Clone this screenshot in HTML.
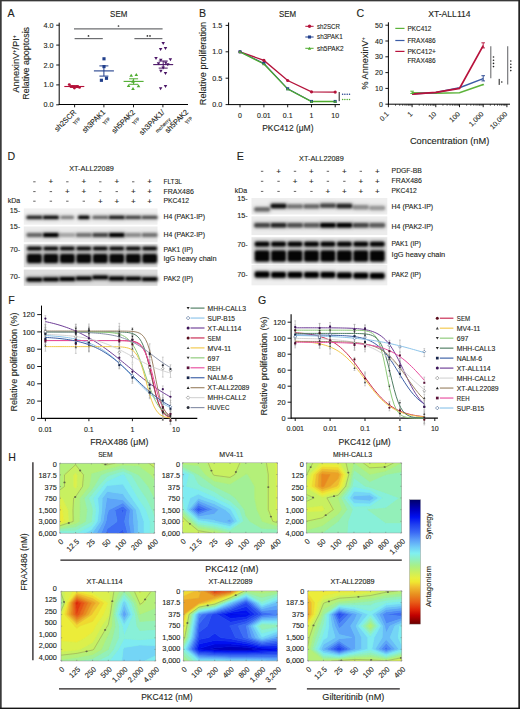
<!DOCTYPE html>
<html><head><meta charset="utf-8"><style>
html,body{margin:0;padding:0;background:#fff;}
svg{display:block;font-family:"Liberation Sans",sans-serif;}
text{stroke:#231f20;stroke-width:0.12px;}
</style></head><body>
<svg width="520" height="709" viewBox="0 0 520 709">
<defs>
<filter id="bl1" x="-20%" y="-60%" width="140%" height="220%"><feGaussianBlur stdDeviation="1.0 0.8"/></filter>
<filter id="bl2" x="-20%" y="-60%" width="140%" height="220%"><feGaussianBlur stdDeviation="1.6"/></filter>
</defs>
<rect width="520" height="709" fill="#fff"/>
<text x="7.60" y="17.30" font-size="10.6" fill="#231f20">A</text>
<text x="118.70" y="17.20" font-size="8.7" text-anchor="middle" textLength="17.2" lengthAdjust="spacingAndGlyphs" fill="#231f20">SEM</text>
<line x1="59.20" y1="22.70" x2="59.20" y2="104.90" stroke="#000" stroke-width="1.0"/>
<line x1="58.70" y1="104.50" x2="188.00" y2="104.50" stroke="#000" stroke-width="1.0"/>
<line x1="56.20" y1="25.20" x2="59.20" y2="25.20" stroke="#000" stroke-width="0.9"/>
<text x="53.40" y="27.70" font-size="7.0" text-anchor="end" textLength="10.0" lengthAdjust="spacingAndGlyphs" fill="#231f20">4.0</text>
<line x1="56.20" y1="45.10" x2="59.20" y2="45.10" stroke="#000" stroke-width="0.9"/>
<text x="53.40" y="47.60" font-size="7.0" text-anchor="end" textLength="10.0" lengthAdjust="spacingAndGlyphs" fill="#231f20">3.0</text>
<line x1="56.20" y1="65.00" x2="59.20" y2="65.00" stroke="#000" stroke-width="0.9"/>
<text x="53.40" y="67.50" font-size="7.0" text-anchor="end" textLength="10.0" lengthAdjust="spacingAndGlyphs" fill="#231f20">2.0</text>
<line x1="56.20" y1="84.90" x2="59.20" y2="84.90" stroke="#000" stroke-width="0.9"/>
<text x="53.40" y="87.40" font-size="7.0" text-anchor="end" textLength="10.0" lengthAdjust="spacingAndGlyphs" fill="#231f20">1.0</text>
<line x1="56.20" y1="104.80" x2="59.20" y2="104.80" stroke="#000" stroke-width="0.9"/>
<text x="53.40" y="107.30" font-size="7.0" text-anchor="end" textLength="10.0" lengthAdjust="spacingAndGlyphs" fill="#231f20">0.0</text>
<text x="18.70" y="64.00" font-size="9.3" text-anchor="middle" textLength="57.4" lengthAdjust="spacingAndGlyphs" transform="rotate(-90 18.70 64.00)" fill="#231f20">AnnexinV<tspan font-size="5" dy="-3">+</tspan><tspan dy="3">/PI</tspan><tspan font-size="5" dy="-3">+</tspan></text>
<text x="29.00" y="63.30" font-size="9.3" text-anchor="middle" textLength="72.7" lengthAdjust="spacingAndGlyphs" transform="rotate(-90 29.00 63.30)" fill="#231f20">Relative apoptosis</text>
<line x1="74.60" y1="104.50" x2="74.60" y2="107.30" stroke="#000" stroke-width="0.9"/>
<line x1="103.90" y1="104.50" x2="103.90" y2="107.30" stroke="#000" stroke-width="0.9"/>
<line x1="133.50" y1="104.50" x2="133.50" y2="107.30" stroke="#000" stroke-width="0.9"/>
<line x1="162.90" y1="104.50" x2="162.90" y2="107.30" stroke="#000" stroke-width="0.9"/>
<line x1="74.00" y1="28.90" x2="162.60" y2="28.90" stroke="#6d6e71" stroke-width="1.2"/>
<line x1="74.60" y1="38.60" x2="102.80" y2="38.60" stroke="#6d6e71" stroke-width="1.2"/>
<line x1="134.40" y1="38.60" x2="162.40" y2="38.60" stroke="#6d6e71" stroke-width="1.2"/>
<circle cx="118.50" cy="26.00" r="0.85" fill="#333"/>
<circle cx="88.50" cy="35.90" r="0.85" fill="#333"/>
<circle cx="147.40" cy="35.90" r="0.85" fill="#333"/>
<circle cx="150.00" cy="35.90" r="0.85" fill="#333"/>
<circle cx="69.30" cy="84.60" r="1.45" fill="#b4123a"/>
<circle cx="72.50" cy="86.60" r="1.45" fill="#b4123a"/>
<circle cx="74.40" cy="88.00" r="1.45" fill="#b4123a"/>
<circle cx="77.00" cy="86.80" r="1.45" fill="#b4123a"/>
<circle cx="79.50" cy="87.40" r="1.45" fill="#b4123a"/>
<line x1="64.30" y1="86.50" x2="84.30" y2="86.50" stroke="#b4123a" stroke-width="1.1"/>
<line x1="74.30" y1="85.60" x2="74.30" y2="87.40" stroke="#b4123a" stroke-width="1.0"/>
<line x1="69.80" y1="85.60" x2="78.80" y2="85.60" stroke="#b4123a" stroke-width="1.0"/>
<line x1="69.80" y1="87.40" x2="78.80" y2="87.40" stroke="#b4123a" stroke-width="1.0"/>
<rect x="102.42" y="57.22" width="3.15" height="3.15" fill="#213f8c"/>
<rect x="102.42" y="65.02" width="3.15" height="3.15" fill="#213f8c"/>
<rect x="99.83" y="78.72" width="3.15" height="3.15" fill="#213f8c"/>
<rect x="104.92" y="76.72" width="3.15" height="3.15" fill="#213f8c"/>
<line x1="93.90" y1="70.90" x2="113.90" y2="70.90" stroke="#213f8c" stroke-width="1.1"/>
<line x1="103.90" y1="65.90" x2="103.90" y2="76.10" stroke="#213f8c" stroke-width="1.0"/>
<line x1="99.40" y1="65.90" x2="108.40" y2="65.90" stroke="#213f8c" stroke-width="1.0"/>
<line x1="99.40" y1="76.10" x2="108.40" y2="76.10" stroke="#213f8c" stroke-width="1.0"/>
<polygon points="129.40,76.84 133.00,76.84 131.20,73.78" fill="#4fac2f"/>
<polygon points="134.50,76.04 138.10,76.04 136.30,72.98" fill="#4fac2f"/>
<polygon points="131.20,82.64 134.80,82.64 133.00,79.58" fill="#4fac2f"/>
<polygon points="126.80,87.04 130.40,87.04 128.60,83.98" fill="#4fac2f"/>
<polygon points="131.20,89.94 134.80,89.94 133.00,86.88" fill="#4fac2f"/>
<polygon points="136.70,87.24 140.30,87.24 138.50,84.18" fill="#4fac2f"/>
<line x1="123.60" y1="81.40" x2="143.60" y2="81.40" stroke="#4fac2f" stroke-width="1.1"/>
<line x1="133.60" y1="78.80" x2="133.60" y2="84.30" stroke="#4fac2f" stroke-width="1.0"/>
<line x1="129.10" y1="78.80" x2="138.10" y2="78.80" stroke="#4fac2f" stroke-width="1.0"/>
<line x1="129.10" y1="84.30" x2="138.10" y2="84.30" stroke="#4fac2f" stroke-width="1.0"/>
<polygon points="161.45,41.90 164.95,41.90 163.20,44.88" fill="#4a1466"/>
<polygon points="158.85,48.00 162.35,48.00 160.60,50.98" fill="#4a1466"/>
<polygon points="163.75,47.10 167.25,47.10 165.50,50.08" fill="#4a1466"/>
<polygon points="154.25,57.10 157.75,57.10 156.00,60.08" fill="#4a1466"/>
<polygon points="159.05,58.80 162.55,58.80 160.80,61.78" fill="#4a1466"/>
<polygon points="168.65,58.30 172.15,58.30 170.40,61.28" fill="#4a1466"/>
<polygon points="156.75,62.20 160.25,62.20 158.50,65.17" fill="#4a1466"/>
<polygon points="163.95,61.50 167.45,61.50 165.70,64.47" fill="#4a1466"/>
<polygon points="166.05,63.20 169.55,63.20 167.80,66.17" fill="#4a1466"/>
<polygon points="161.45,66.40 164.95,66.40 163.20,69.38" fill="#4a1466"/>
<polygon points="159.15,69.80 162.65,69.80 160.90,72.78" fill="#4a1466"/>
<polygon points="163.75,72.10 167.25,72.10 165.50,75.08" fill="#4a1466"/>
<polygon points="158.85,87.30 162.35,87.30 160.60,90.28" fill="#4a1466"/>
<polygon points="163.75,85.00 167.25,85.00 165.50,87.98" fill="#4a1466"/>
<line x1="153.20" y1="64.60" x2="173.20" y2="64.60" stroke="#4a1466" stroke-width="1.1"/>
<line x1="163.20" y1="61.00" x2="163.20" y2="68.10" stroke="#4a1466" stroke-width="1.0"/>
<line x1="158.70" y1="61.00" x2="167.70" y2="61.00" stroke="#4a1466" stroke-width="1.0"/>
<line x1="158.70" y1="68.10" x2="167.70" y2="68.10" stroke="#4a1466" stroke-width="1.0"/>
<text x="76.60" y="112.80" font-size="7.6" text-anchor="end" textLength="27.0" lengthAdjust="spacingAndGlyphs" transform="rotate(-45 76.60 112.80)" fill="#231f20">sh2SCR</text>
<text x="105.80" y="112.80" font-size="7.6" text-anchor="end" textLength="29.0" lengthAdjust="spacingAndGlyphs" transform="rotate(-45 105.80 112.80)" fill="#231f20">sh3PAK1</text>
<text x="135.60" y="112.80" font-size="7.6" text-anchor="end" textLength="29.5" lengthAdjust="spacingAndGlyphs" transform="rotate(-45 135.60 112.80)" fill="#231f20">sh5PAK2</text>
<text x="165.00" y="112.80" font-size="7.6" text-anchor="end" textLength="32.0" lengthAdjust="spacingAndGlyphs" transform="rotate(-45 165.00 112.80)" fill="#231f20">sh3PAK1/</text>
<text x="188.80" y="112.60" font-size="7.6" text-anchor="end" textLength="29.5" lengthAdjust="spacingAndGlyphs" transform="rotate(-45 188.80 112.60)" fill="#231f20">sh5PAK2</text>
<text x="81.00" y="119.50" font-size="5.2" text-anchor="end" textLength="8.2" lengthAdjust="spacingAndGlyphs" transform="rotate(-45 81.00 119.50)" fill="#231f20">YFP</text>
<text x="110.80" y="119.50" font-size="5.2" text-anchor="end" textLength="8.2" lengthAdjust="spacingAndGlyphs" transform="rotate(-45 110.80 119.50)" fill="#231f20">YFP</text>
<text x="140.20" y="119.50" font-size="5.2" text-anchor="end" textLength="8.2" lengthAdjust="spacingAndGlyphs" transform="rotate(-45 140.20 119.50)" fill="#231f20">YFP</text>
<text x="171.00" y="119.80" font-size="5.2" text-anchor="end" textLength="19.0" lengthAdjust="spacingAndGlyphs" transform="rotate(-45 171.00 119.80)" fill="#231f20">mcherry</text>
<text x="193.00" y="118.80" font-size="5.2" text-anchor="end" textLength="8.2" lengthAdjust="spacingAndGlyphs" transform="rotate(-45 193.00 118.80)" fill="#231f20">YFP</text>
<text x="199.00" y="17.20" font-size="10.6" fill="#231f20">B</text>
<text x="287.60" y="17.20" font-size="8.7" text-anchor="middle" textLength="17.2" lengthAdjust="spacingAndGlyphs" fill="#231f20">SEM</text>
<line x1="228.60" y1="22.50" x2="228.60" y2="105.00" stroke="#000" stroke-width="1.0"/>
<line x1="228.10" y1="104.60" x2="340.00" y2="104.60" stroke="#000" stroke-width="1.0"/>
<line x1="225.60" y1="25.40" x2="228.60" y2="25.40" stroke="#000" stroke-width="0.9"/>
<text x="222.20" y="27.90" font-size="7.0" text-anchor="end" textLength="10.0" lengthAdjust="spacingAndGlyphs" fill="#231f20">1.5</text>
<line x1="225.60" y1="51.80" x2="228.60" y2="51.80" stroke="#000" stroke-width="0.9"/>
<text x="222.20" y="54.30" font-size="7.0" text-anchor="end" textLength="10.0" lengthAdjust="spacingAndGlyphs" fill="#231f20">1.0</text>
<line x1="225.60" y1="78.20" x2="228.60" y2="78.20" stroke="#000" stroke-width="0.9"/>
<text x="222.20" y="80.70" font-size="7.0" text-anchor="end" textLength="10.0" lengthAdjust="spacingAndGlyphs" fill="#231f20">0.5</text>
<line x1="225.60" y1="104.60" x2="228.60" y2="104.60" stroke="#000" stroke-width="0.9"/>
<text x="222.20" y="107.10" font-size="7.0" text-anchor="end" textLength="10.0" lengthAdjust="spacingAndGlyphs" fill="#231f20">0.0</text>
<text x="206.30" y="63.50" font-size="9.3" text-anchor="middle" textLength="83.4" lengthAdjust="spacingAndGlyphs" transform="rotate(-90 206.30 63.50)" fill="#231f20">Relative proliferation</text>
<line x1="240.00" y1="104.60" x2="240.00" y2="107.30" stroke="#000" stroke-width="0.9"/>
<text x="240.00" y="117.60" font-size="7.0" text-anchor="middle" fill="#231f20">0</text>
<line x1="263.90" y1="104.60" x2="263.90" y2="107.30" stroke="#000" stroke-width="0.9"/>
<text x="263.90" y="117.60" font-size="7.0" text-anchor="middle" fill="#231f20">0.01</text>
<line x1="287.70" y1="104.60" x2="287.70" y2="107.30" stroke="#000" stroke-width="0.9"/>
<text x="287.70" y="117.60" font-size="7.0" text-anchor="middle" fill="#231f20">0.1</text>
<line x1="311.50" y1="104.60" x2="311.50" y2="107.30" stroke="#000" stroke-width="0.9"/>
<text x="311.50" y="117.60" font-size="7.0" text-anchor="middle" fill="#231f20">1</text>
<line x1="335.20" y1="104.60" x2="335.20" y2="107.30" stroke="#000" stroke-width="0.9"/>
<text x="335.20" y="117.60" font-size="7.0" text-anchor="middle" fill="#231f20">10</text>
<text x="287.80" y="130.60" font-size="8.8" text-anchor="middle" textLength="51.3" lengthAdjust="spacingAndGlyphs" fill="#231f20">PKC412 (μM)</text>
<polyline points="240.00,51.80 263.90,60.41 287.70,80.52 311.50,91.82 335.20,92.09" fill="none" stroke="#b4123a" stroke-width="1.3"/>
<polyline points="240.00,51.80 263.90,63.42 287.70,88.76 311.50,101.43 335.20,101.43" fill="none" stroke="#213f8c" stroke-width="1.1"/>
<polyline points="240.00,51.80 263.90,63.94 287.70,89.08 311.50,101.48 335.20,101.48" fill="none" stroke="#4fac2f" stroke-width="1.3"/>
<circle cx="240.00" cy="51.80" r="1.6" fill="#b4123a"/>
<circle cx="263.90" cy="60.41" r="1.6" fill="#b4123a"/>
<circle cx="287.70" cy="80.52" r="1.6" fill="#b4123a"/>
<circle cx="311.50" cy="91.82" r="1.6" fill="#b4123a"/>
<circle cx="335.20" cy="92.09" r="1.6" fill="#b4123a"/>
<rect x="238.50" y="50.30" width="3.00" height="3.00" fill="#213f8c"/>
<rect x="262.40" y="61.92" width="3.00" height="3.00" fill="#213f8c"/>
<rect x="286.20" y="87.26" width="3.00" height="3.00" fill="#213f8c"/>
<rect x="310.00" y="99.93" width="3.00" height="3.00" fill="#213f8c"/>
<rect x="333.70" y="99.93" width="3.00" height="3.00" fill="#213f8c"/>
<polygon points="238.40,53.08 241.60,53.08 240.00,50.36" fill="#4fac2f"/>
<polygon points="262.30,65.22 265.50,65.22 263.90,62.50" fill="#4fac2f"/>
<polygon points="286.10,90.36 289.30,90.36 287.70,87.64" fill="#4fac2f"/>
<polygon points="309.90,102.76 313.10,102.76 311.50,100.04" fill="#4fac2f"/>
<polygon points="333.60,102.76 336.80,102.76 335.20,100.04" fill="#4fac2f"/>
<line x1="263.90" y1="59.19" x2="263.90" y2="61.83" stroke="#b4123a" stroke-width="0.8"/>
<line x1="339.20" y1="92.00" x2="339.20" y2="101.20" stroke="#000" stroke-width="0.9"/>
<circle cx="342.60" cy="94.30" r="0.75" fill="#213f8c"/>
<circle cx="342.60" cy="99.60" r="0.75" fill="#4fac2f"/>
<circle cx="344.90" cy="94.30" r="0.75" fill="#213f8c"/>
<circle cx="344.90" cy="99.60" r="0.75" fill="#4fac2f"/>
<circle cx="347.20" cy="94.30" r="0.75" fill="#213f8c"/>
<circle cx="347.20" cy="99.60" r="0.75" fill="#4fac2f"/>
<circle cx="349.50" cy="94.30" r="0.75" fill="#213f8c"/>
<circle cx="349.50" cy="99.60" r="0.75" fill="#4fac2f"/>
<line x1="305.30" y1="26.30" x2="313.60" y2="26.30" stroke="#b4123a" stroke-width="1.0"/>
<circle cx="309.50" cy="26.30" r="1.7" fill="#b4123a"/>
<text x="317.00" y="28.70" font-size="7.4" textLength="22.9" lengthAdjust="spacingAndGlyphs" fill="#231f20">sh2SCR</text>
<line x1="305.30" y1="37.00" x2="313.60" y2="37.00" stroke="#213f8c" stroke-width="1.0"/>
<rect x="307.97" y="35.47" width="3.06" height="3.06" fill="#213f8c"/>
<text x="317.00" y="39.40" font-size="7.4" textLength="25.7" lengthAdjust="spacingAndGlyphs" fill="#231f20">sh3PAK1</text>
<line x1="305.30" y1="48.30" x2="313.60" y2="48.30" stroke="#4fac2f" stroke-width="1.0"/>
<polygon points="307.80,49.66 311.20,49.66 309.50,46.77" fill="#4fac2f"/>
<text x="317.00" y="50.70" font-size="7.4" textLength="26.6" lengthAdjust="spacingAndGlyphs" fill="#231f20">sh5PAK2</text>
<text x="356.40" y="17.20" font-size="10.6" fill="#231f20">C</text>
<text x="449.40" y="17.20" font-size="8.7" text-anchor="middle" textLength="42.5" lengthAdjust="spacingAndGlyphs" fill="#231f20">XT-ALL114</text>
<line x1="388.40" y1="22.30" x2="388.40" y2="104.60" stroke="#000" stroke-width="1.0"/>
<line x1="387.90" y1="104.20" x2="510.00" y2="104.20" stroke="#000" stroke-width="1.0"/>
<line x1="385.40" y1="25.20" x2="388.40" y2="25.20" stroke="#000" stroke-width="0.9"/>
<text x="382.90" y="27.70" font-size="7.0" text-anchor="end" textLength="7.8" lengthAdjust="spacingAndGlyphs" fill="#231f20">50</text>
<line x1="385.40" y1="41.00" x2="388.40" y2="41.00" stroke="#000" stroke-width="0.9"/>
<text x="382.90" y="43.50" font-size="7.0" text-anchor="end" textLength="7.8" lengthAdjust="spacingAndGlyphs" fill="#231f20">40</text>
<line x1="385.40" y1="56.80" x2="388.40" y2="56.80" stroke="#000" stroke-width="0.9"/>
<text x="382.90" y="59.30" font-size="7.0" text-anchor="end" textLength="7.8" lengthAdjust="spacingAndGlyphs" fill="#231f20">30</text>
<line x1="385.40" y1="72.60" x2="388.40" y2="72.60" stroke="#000" stroke-width="0.9"/>
<text x="382.90" y="75.10" font-size="7.0" text-anchor="end" textLength="7.8" lengthAdjust="spacingAndGlyphs" fill="#231f20">20</text>
<line x1="385.40" y1="88.40" x2="388.40" y2="88.40" stroke="#000" stroke-width="0.9"/>
<text x="382.90" y="90.90" font-size="7.0" text-anchor="end" textLength="7.8" lengthAdjust="spacingAndGlyphs" fill="#231f20">10</text>
<line x1="385.40" y1="104.20" x2="388.40" y2="104.20" stroke="#000" stroke-width="0.9"/>
<text x="382.90" y="106.70" font-size="7.0" text-anchor="end" textLength="3.9" lengthAdjust="spacingAndGlyphs" fill="#231f20">0</text>
<text x="367.60" y="63.50" font-size="9.3" text-anchor="middle" textLength="52.0" lengthAdjust="spacingAndGlyphs" transform="rotate(-90 367.60 63.50)" fill="#231f20">% AnnexinV<tspan font-size="5" dy="-3">+</tspan></text>
<line x1="388.40" y1="104.20" x2="388.40" y2="107.20" stroke="#000" stroke-width="0.9"/>
<text x="389.30" y="114.60" font-size="7.0" text-anchor="end" transform="rotate(-45 389.30 114.60)" fill="#231f20">0.1</text>
<line x1="395.53" y1="104.20" x2="395.53" y2="105.80" stroke="#000" stroke-width="0.6"/>
<line x1="399.71" y1="104.20" x2="399.71" y2="105.80" stroke="#000" stroke-width="0.6"/>
<line x1="402.67" y1="104.20" x2="402.67" y2="105.80" stroke="#000" stroke-width="0.6"/>
<line x1="404.97" y1="104.20" x2="404.97" y2="105.80" stroke="#000" stroke-width="0.6"/>
<line x1="406.84" y1="104.20" x2="406.84" y2="105.80" stroke="#000" stroke-width="0.6"/>
<line x1="408.43" y1="104.20" x2="408.43" y2="105.80" stroke="#000" stroke-width="0.6"/>
<line x1="409.80" y1="104.20" x2="409.80" y2="105.80" stroke="#000" stroke-width="0.6"/>
<line x1="411.02" y1="104.20" x2="411.02" y2="105.80" stroke="#000" stroke-width="0.6"/>
<line x1="412.10" y1="104.20" x2="412.10" y2="107.20" stroke="#000" stroke-width="0.9"/>
<text x="413.00" y="114.60" font-size="7.0" text-anchor="end" transform="rotate(-45 413.00 114.60)" fill="#231f20">1</text>
<line x1="419.23" y1="104.20" x2="419.23" y2="105.80" stroke="#000" stroke-width="0.6"/>
<line x1="423.41" y1="104.20" x2="423.41" y2="105.80" stroke="#000" stroke-width="0.6"/>
<line x1="426.37" y1="104.20" x2="426.37" y2="105.80" stroke="#000" stroke-width="0.6"/>
<line x1="428.67" y1="104.20" x2="428.67" y2="105.80" stroke="#000" stroke-width="0.6"/>
<line x1="430.54" y1="104.20" x2="430.54" y2="105.80" stroke="#000" stroke-width="0.6"/>
<line x1="432.13" y1="104.20" x2="432.13" y2="105.80" stroke="#000" stroke-width="0.6"/>
<line x1="433.50" y1="104.20" x2="433.50" y2="105.80" stroke="#000" stroke-width="0.6"/>
<line x1="434.72" y1="104.20" x2="434.72" y2="105.80" stroke="#000" stroke-width="0.6"/>
<line x1="435.80" y1="104.20" x2="435.80" y2="107.20" stroke="#000" stroke-width="0.9"/>
<text x="436.70" y="114.60" font-size="7.0" text-anchor="end" transform="rotate(-45 436.70 114.60)" fill="#231f20">10</text>
<line x1="442.93" y1="104.20" x2="442.93" y2="105.80" stroke="#000" stroke-width="0.6"/>
<line x1="447.11" y1="104.20" x2="447.11" y2="105.80" stroke="#000" stroke-width="0.6"/>
<line x1="450.07" y1="104.20" x2="450.07" y2="105.80" stroke="#000" stroke-width="0.6"/>
<line x1="452.37" y1="104.20" x2="452.37" y2="105.80" stroke="#000" stroke-width="0.6"/>
<line x1="454.24" y1="104.20" x2="454.24" y2="105.80" stroke="#000" stroke-width="0.6"/>
<line x1="455.83" y1="104.20" x2="455.83" y2="105.80" stroke="#000" stroke-width="0.6"/>
<line x1="457.20" y1="104.20" x2="457.20" y2="105.80" stroke="#000" stroke-width="0.6"/>
<line x1="458.42" y1="104.20" x2="458.42" y2="105.80" stroke="#000" stroke-width="0.6"/>
<line x1="459.50" y1="104.20" x2="459.50" y2="107.20" stroke="#000" stroke-width="0.9"/>
<text x="460.40" y="114.60" font-size="7.0" text-anchor="end" transform="rotate(-45 460.40 114.60)" fill="#231f20">100</text>
<line x1="466.63" y1="104.20" x2="466.63" y2="105.80" stroke="#000" stroke-width="0.6"/>
<line x1="470.81" y1="104.20" x2="470.81" y2="105.80" stroke="#000" stroke-width="0.6"/>
<line x1="473.77" y1="104.20" x2="473.77" y2="105.80" stroke="#000" stroke-width="0.6"/>
<line x1="476.07" y1="104.20" x2="476.07" y2="105.80" stroke="#000" stroke-width="0.6"/>
<line x1="477.94" y1="104.20" x2="477.94" y2="105.80" stroke="#000" stroke-width="0.6"/>
<line x1="479.53" y1="104.20" x2="479.53" y2="105.80" stroke="#000" stroke-width="0.6"/>
<line x1="480.90" y1="104.20" x2="480.90" y2="105.80" stroke="#000" stroke-width="0.6"/>
<line x1="482.12" y1="104.20" x2="482.12" y2="105.80" stroke="#000" stroke-width="0.6"/>
<line x1="483.20" y1="104.20" x2="483.20" y2="107.20" stroke="#000" stroke-width="0.9"/>
<text x="484.10" y="114.60" font-size="7.0" text-anchor="end" transform="rotate(-45 484.10 114.60)" fill="#231f20">1,000</text>
<line x1="490.33" y1="104.20" x2="490.33" y2="105.80" stroke="#000" stroke-width="0.6"/>
<line x1="494.51" y1="104.20" x2="494.51" y2="105.80" stroke="#000" stroke-width="0.6"/>
<line x1="497.47" y1="104.20" x2="497.47" y2="105.80" stroke="#000" stroke-width="0.6"/>
<line x1="499.77" y1="104.20" x2="499.77" y2="105.80" stroke="#000" stroke-width="0.6"/>
<line x1="501.64" y1="104.20" x2="501.64" y2="105.80" stroke="#000" stroke-width="0.6"/>
<line x1="503.23" y1="104.20" x2="503.23" y2="105.80" stroke="#000" stroke-width="0.6"/>
<line x1="504.60" y1="104.20" x2="504.60" y2="105.80" stroke="#000" stroke-width="0.6"/>
<line x1="505.82" y1="104.20" x2="505.82" y2="105.80" stroke="#000" stroke-width="0.6"/>
<line x1="506.90" y1="104.20" x2="506.90" y2="107.20" stroke="#000" stroke-width="0.9"/>
<text x="507.80" y="114.60" font-size="7.0" text-anchor="end" transform="rotate(-45 507.80 114.60)" fill="#231f20">10,000</text>
<text x="449.60" y="144.20" font-size="8.9" text-anchor="middle" textLength="79.4" lengthAdjust="spacingAndGlyphs" fill="#231f20">Concentration (nM)</text>
<polyline points="412.10,92.67 435.80,93.14 459.50,92.67 483.20,84.45" fill="none" stroke="#5cb33a" stroke-width="1.5"/>
<polyline points="412.10,93.93 435.80,92.51 459.50,87.77 483.20,78.60" fill="none" stroke="#3b5ca6" stroke-width="1.5"/>
<polyline points="412.10,94.09 435.80,92.35 459.50,88.40 483.20,45.58" fill="none" stroke="#b8123c" stroke-width="1.7"/>
<line x1="483.20" y1="42.80" x2="483.20" y2="47.90" stroke="#b4123a" stroke-width="0.9"/>
<line x1="481.40" y1="42.80" x2="485.00" y2="42.80" stroke="#b4123a" stroke-width="0.9"/>
<line x1="481.40" y1="47.90" x2="485.00" y2="47.90" stroke="#b4123a" stroke-width="0.9"/>
<line x1="483.20" y1="75.70" x2="483.20" y2="80.90" stroke="#213f8c" stroke-width="0.9"/>
<line x1="481.40" y1="75.70" x2="485.00" y2="75.70" stroke="#213f8c" stroke-width="0.9"/>
<line x1="481.40" y1="80.90" x2="485.00" y2="80.90" stroke="#213f8c" stroke-width="0.9"/>
<line x1="412.10" y1="91.20" x2="412.10" y2="93.50" stroke="#4fac2f" stroke-width="0.9"/>
<line x1="410.30" y1="91.20" x2="413.90" y2="91.20" stroke="#4fac2f" stroke-width="0.9"/>
<line x1="410.30" y1="93.50" x2="413.90" y2="93.50" stroke="#4fac2f" stroke-width="0.9"/>
<polygon points="482.10,85.33 484.30,85.33 483.20,83.46" fill="#4fac2f"/>
<line x1="490.80" y1="46.20" x2="490.80" y2="78.20" stroke="#6d6e71" stroke-width="1.1"/>
<line x1="499.20" y1="78.90" x2="499.20" y2="84.90" stroke="#000" stroke-width="0.9"/>
<line x1="507.70" y1="46.20" x2="507.70" y2="84.60" stroke="#6d6e71" stroke-width="1.1"/>
<circle cx="493.50" cy="57.00" r="0.8" fill="#222"/>
<circle cx="510.80" cy="61.00" r="0.8" fill="#222"/>
<circle cx="493.50" cy="60.20" r="0.8" fill="#222"/>
<circle cx="510.80" cy="64.20" r="0.8" fill="#222"/>
<circle cx="493.50" cy="63.40" r="0.8" fill="#222"/>
<circle cx="510.80" cy="67.40" r="0.8" fill="#222"/>
<circle cx="493.50" cy="66.60" r="0.8" fill="#222"/>
<circle cx="510.80" cy="70.60" r="0.8" fill="#222"/>
<circle cx="501.80" cy="82.00" r="0.8" fill="#222"/>
<line x1="395.30" y1="28.40" x2="404.50" y2="28.40" stroke="#5cb33a" stroke-width="1.2"/>
<text x="407.40" y="30.90" font-size="7.5" textLength="24.0" lengthAdjust="spacingAndGlyphs" fill="#231f20">PKC412</text>
<line x1="395.30" y1="40.50" x2="404.50" y2="40.50" stroke="#3b5ca6" stroke-width="1.2"/>
<text x="407.40" y="43.00" font-size="7.5" textLength="28.2" lengthAdjust="spacingAndGlyphs" fill="#231f20">FRAX486</text>
<line x1="395.30" y1="51.40" x2="404.50" y2="51.40" stroke="#b8123c" stroke-width="1.2"/>
<text x="407.40" y="53.90" font-size="7.5" textLength="28.6" lengthAdjust="spacingAndGlyphs" fill="#231f20">PKC412+</text>
<text x="407.40" y="62.90" font-size="7.5" textLength="28.2" lengthAdjust="spacingAndGlyphs" fill="#231f20">FRAX486</text>
<text x="7.60" y="160.00" font-size="10.6" fill="#231f20">D</text>
<text x="91.50" y="171.30" font-size="7.4" text-anchor="middle" textLength="44.6" lengthAdjust="spacingAndGlyphs" fill="#231f20">XT-ALL22089</text>
<line x1="33.20" y1="181.80" x2="35.60" y2="181.80" stroke="#231f20" stroke-width="0.7"/>
<text x="50.87" y="184.20" font-size="8.0" text-anchor="middle" fill="#231f20">+</text>
<line x1="66.14" y1="181.80" x2="68.54" y2="181.80" stroke="#231f20" stroke-width="0.7"/>
<text x="83.81" y="184.20" font-size="8.0" text-anchor="middle" fill="#231f20">+</text>
<line x1="99.08" y1="181.80" x2="101.48" y2="181.80" stroke="#231f20" stroke-width="0.7"/>
<text x="116.75" y="184.20" font-size="8.0" text-anchor="middle" fill="#231f20">+</text>
<line x1="132.02" y1="181.80" x2="134.42" y2="181.80" stroke="#231f20" stroke-width="0.7"/>
<text x="149.69" y="184.20" font-size="8.0" text-anchor="middle" fill="#231f20">+</text>
<line x1="33.20" y1="191.60" x2="35.60" y2="191.60" stroke="#231f20" stroke-width="0.7"/>
<line x1="49.67" y1="191.60" x2="52.07" y2="191.60" stroke="#231f20" stroke-width="0.7"/>
<text x="67.34" y="194.00" font-size="8.0" text-anchor="middle" fill="#231f20">+</text>
<text x="83.81" y="194.00" font-size="8.0" text-anchor="middle" fill="#231f20">+</text>
<line x1="99.08" y1="191.60" x2="101.48" y2="191.60" stroke="#231f20" stroke-width="0.7"/>
<line x1="115.55" y1="191.60" x2="117.95" y2="191.60" stroke="#231f20" stroke-width="0.7"/>
<text x="133.22" y="194.00" font-size="8.0" text-anchor="middle" fill="#231f20">+</text>
<text x="149.69" y="194.00" font-size="8.0" text-anchor="middle" fill="#231f20">+</text>
<line x1="33.20" y1="201.20" x2="35.60" y2="201.20" stroke="#231f20" stroke-width="0.7"/>
<line x1="49.67" y1="201.20" x2="52.07" y2="201.20" stroke="#231f20" stroke-width="0.7"/>
<line x1="66.14" y1="201.20" x2="68.54" y2="201.20" stroke="#231f20" stroke-width="0.7"/>
<line x1="82.61" y1="201.20" x2="85.01" y2="201.20" stroke="#231f20" stroke-width="0.7"/>
<text x="100.28" y="203.60" font-size="8.0" text-anchor="middle" fill="#231f20">+</text>
<text x="116.75" y="203.60" font-size="8.0" text-anchor="middle" fill="#231f20">+</text>
<text x="133.22" y="203.60" font-size="8.0" text-anchor="middle" fill="#231f20">+</text>
<text x="149.69" y="203.60" font-size="8.0" text-anchor="middle" fill="#231f20">+</text>
<text x="7.70" y="203.40" font-size="7.2" textLength="12.4" lengthAdjust="spacingAndGlyphs" fill="#231f20">kDa</text>
<text x="20.20" y="213.10" font-size="7.0" text-anchor="end" textLength="10.5" lengthAdjust="spacingAndGlyphs" fill="#231f20">15-</text>
<text x="20.20" y="229.30" font-size="7.0" text-anchor="end" textLength="10.5" lengthAdjust="spacingAndGlyphs" fill="#231f20">15-</text>
<text x="20.20" y="251.50" font-size="7.0" text-anchor="end" textLength="10.5" lengthAdjust="spacingAndGlyphs" fill="#231f20">70-</text>
<text x="20.20" y="278.90" font-size="7.0" text-anchor="end" textLength="10.5" lengthAdjust="spacingAndGlyphs" fill="#231f20">70-</text>
<rect x="23.80" y="208.40" width="133.70" height="16.30" fill="#f0f0f0"/>
<rect x="23.80" y="226.50" width="133.70" height="15.70" fill="#ececec"/>
<rect x="23.80" y="244.20" width="133.70" height="23.00" fill="#e2e2e2"/>
<rect x="23.80" y="269.60" width="133.70" height="16.20" fill="#dddddd"/>
<rect x="25.20" y="213.95" width="18.40" height="6.90" rx="3" fill="#050505" fill-opacity="0.20" filter="url(#bl2)"/>
<rect x="26.50" y="215.75" width="15.80" height="3.30" rx="1.65" fill="#050505" fill-opacity="0.80" filter="url(#bl1)"/>
<rect x="41.67" y="213.95" width="18.40" height="6.90" rx="3" fill="#050505" fill-opacity="0.23" filter="url(#bl2)"/>
<rect x="42.97" y="215.75" width="15.80" height="3.30" rx="1.65" fill="#050505" fill-opacity="0.92" filter="url(#bl1)"/>
<rect x="59.34" y="213.95" width="16.00" height="6.90" rx="3" fill="#050505" fill-opacity="0.10" filter="url(#bl2)"/>
<rect x="60.64" y="215.75" width="13.40" height="3.30" rx="1.65" fill="#050505" fill-opacity="0.40" filter="url(#bl1)"/>
<rect x="76.81" y="213.95" width="14.00" height="6.90" rx="3" fill="#050505" fill-opacity="0.24" filter="url(#bl2)"/>
<rect x="78.11" y="215.75" width="11.40" height="3.30" rx="1.65" fill="#050505" fill-opacity="0.98" filter="url(#bl1)"/>
<rect x="91.08" y="213.95" width="18.40" height="6.90" rx="3" fill="#050505" fill-opacity="0.12" filter="url(#bl2)"/>
<rect x="92.38" y="215.75" width="15.80" height="3.30" rx="1.65" fill="#050505" fill-opacity="0.50" filter="url(#bl1)"/>
<rect x="107.55" y="213.95" width="18.40" height="6.90" rx="3" fill="#050505" fill-opacity="0.21" filter="url(#bl2)"/>
<rect x="108.85" y="215.75" width="15.80" height="3.30" rx="1.65" fill="#050505" fill-opacity="0.85" filter="url(#bl1)"/>
<rect x="124.02" y="213.95" width="18.40" height="6.90" rx="3" fill="#050505" fill-opacity="0.16" filter="url(#bl2)"/>
<rect x="125.32" y="215.75" width="15.80" height="3.30" rx="1.65" fill="#050505" fill-opacity="0.65" filter="url(#bl1)"/>
<rect x="140.49" y="213.95" width="18.40" height="6.90" rx="3" fill="#050505" fill-opacity="0.15" filter="url(#bl2)"/>
<rect x="141.79" y="215.75" width="15.80" height="3.30" rx="1.65" fill="#050505" fill-opacity="0.60" filter="url(#bl1)"/>
<rect x="25.20" y="231.30" width="18.40" height="7.40" rx="3" fill="#050505" fill-opacity="0.12" filter="url(#bl2)"/>
<rect x="26.50" y="233.10" width="15.80" height="3.80" rx="1.90" fill="#050505" fill-opacity="0.50" filter="url(#bl1)"/>
<rect x="41.67" y="231.30" width="18.40" height="7.40" rx="3" fill="#050505" fill-opacity="0.25" filter="url(#bl2)"/>
<rect x="42.97" y="233.10" width="15.80" height="3.80" rx="1.90" fill="#050505" fill-opacity="1.00" filter="url(#bl1)"/>
<rect x="58.14" y="231.30" width="18.40" height="7.40" rx="3" fill="#050505" fill-opacity="0.06" filter="url(#bl2)"/>
<rect x="59.44" y="233.10" width="15.80" height="3.80" rx="1.90" fill="#050505" fill-opacity="0.25" filter="url(#bl1)"/>
<rect x="74.61" y="231.30" width="18.40" height="7.40" rx="3" fill="#050505" fill-opacity="0.11" filter="url(#bl2)"/>
<rect x="75.91" y="233.10" width="15.80" height="3.80" rx="1.90" fill="#050505" fill-opacity="0.45" filter="url(#bl1)"/>
<rect x="91.08" y="231.30" width="18.40" height="7.40" rx="3" fill="#050505" fill-opacity="0.16" filter="url(#bl2)"/>
<rect x="92.38" y="233.10" width="15.80" height="3.80" rx="1.90" fill="#050505" fill-opacity="0.65" filter="url(#bl1)"/>
<rect x="107.55" y="231.30" width="18.40" height="7.40" rx="3" fill="#050505" fill-opacity="0.25" filter="url(#bl2)"/>
<rect x="108.85" y="233.10" width="15.80" height="3.80" rx="1.90" fill="#050505" fill-opacity="1.00" filter="url(#bl1)"/>
<rect x="124.02" y="231.30" width="18.40" height="7.40" rx="3" fill="#050505" fill-opacity="0.09" filter="url(#bl2)"/>
<rect x="125.32" y="233.10" width="15.80" height="3.80" rx="1.90" fill="#050505" fill-opacity="0.35" filter="url(#bl1)"/>
<rect x="140.49" y="231.30" width="18.40" height="7.40" rx="3" fill="#050505" fill-opacity="0.11" filter="url(#bl2)"/>
<rect x="141.79" y="233.10" width="15.80" height="3.80" rx="1.90" fill="#050505" fill-opacity="0.45" filter="url(#bl1)"/>
<rect x="25.80" y="244.90" width="17.20" height="7.20" rx="3" fill="#050505" fill-opacity="0.24" filter="url(#bl2)"/>
<rect x="27.10" y="246.70" width="14.60" height="3.60" rx="1.80" fill="#050505" fill-opacity="0.95" filter="url(#bl1)"/>
<rect x="42.27" y="244.90" width="17.20" height="7.20" rx="3" fill="#050505" fill-opacity="0.24" filter="url(#bl2)"/>
<rect x="43.57" y="246.70" width="14.60" height="3.60" rx="1.80" fill="#050505" fill-opacity="0.95" filter="url(#bl1)"/>
<rect x="58.74" y="244.90" width="17.20" height="7.20" rx="3" fill="#050505" fill-opacity="0.24" filter="url(#bl2)"/>
<rect x="60.04" y="246.70" width="14.60" height="3.60" rx="1.80" fill="#050505" fill-opacity="0.95" filter="url(#bl1)"/>
<rect x="75.21" y="244.90" width="17.20" height="7.20" rx="3" fill="#050505" fill-opacity="0.24" filter="url(#bl2)"/>
<rect x="76.51" y="246.70" width="14.60" height="3.60" rx="1.80" fill="#050505" fill-opacity="0.95" filter="url(#bl1)"/>
<rect x="91.68" y="244.90" width="17.20" height="7.20" rx="3" fill="#050505" fill-opacity="0.24" filter="url(#bl2)"/>
<rect x="92.98" y="246.70" width="14.60" height="3.60" rx="1.80" fill="#050505" fill-opacity="0.95" filter="url(#bl1)"/>
<rect x="108.15" y="244.90" width="17.20" height="7.20" rx="3" fill="#050505" fill-opacity="0.24" filter="url(#bl2)"/>
<rect x="109.45" y="246.70" width="14.60" height="3.60" rx="1.80" fill="#050505" fill-opacity="0.95" filter="url(#bl1)"/>
<rect x="124.62" y="244.90" width="17.20" height="7.20" rx="3" fill="#050505" fill-opacity="0.24" filter="url(#bl2)"/>
<rect x="125.92" y="246.70" width="14.60" height="3.60" rx="1.80" fill="#050505" fill-opacity="0.95" filter="url(#bl1)"/>
<rect x="141.09" y="244.90" width="17.20" height="7.20" rx="3" fill="#050505" fill-opacity="0.24" filter="url(#bl2)"/>
<rect x="142.39" y="246.70" width="14.60" height="3.60" rx="1.80" fill="#050505" fill-opacity="0.95" filter="url(#bl1)"/>
<rect x="25.80" y="252.10" width="17.20" height="12.80" rx="3" fill="#050505" fill-opacity="0.24" filter="url(#bl2)"/>
<rect x="27.10" y="253.90" width="14.60" height="9.20" rx="2.00" fill="#050505" fill-opacity="0.95" filter="url(#bl1)"/>
<rect x="42.27" y="252.10" width="17.20" height="12.80" rx="3" fill="#050505" fill-opacity="0.24" filter="url(#bl2)"/>
<rect x="43.57" y="253.90" width="14.60" height="9.20" rx="2.00" fill="#050505" fill-opacity="0.95" filter="url(#bl1)"/>
<rect x="58.74" y="252.10" width="17.20" height="12.80" rx="3" fill="#050505" fill-opacity="0.24" filter="url(#bl2)"/>
<rect x="60.04" y="253.90" width="14.60" height="9.20" rx="2.00" fill="#050505" fill-opacity="0.95" filter="url(#bl1)"/>
<rect x="75.21" y="252.10" width="17.20" height="12.80" rx="3" fill="#050505" fill-opacity="0.24" filter="url(#bl2)"/>
<rect x="76.51" y="253.90" width="14.60" height="9.20" rx="2.00" fill="#050505" fill-opacity="0.95" filter="url(#bl1)"/>
<rect x="91.68" y="252.10" width="17.20" height="12.80" rx="3" fill="#050505" fill-opacity="0.24" filter="url(#bl2)"/>
<rect x="92.98" y="253.90" width="14.60" height="9.20" rx="2.00" fill="#050505" fill-opacity="0.95" filter="url(#bl1)"/>
<rect x="108.15" y="252.10" width="17.20" height="12.80" rx="3" fill="#050505" fill-opacity="0.24" filter="url(#bl2)"/>
<rect x="109.45" y="253.90" width="14.60" height="9.20" rx="2.00" fill="#050505" fill-opacity="0.95" filter="url(#bl1)"/>
<rect x="124.62" y="252.10" width="17.20" height="12.80" rx="3" fill="#050505" fill-opacity="0.24" filter="url(#bl2)"/>
<rect x="125.92" y="253.90" width="14.60" height="9.20" rx="2.00" fill="#050505" fill-opacity="0.95" filter="url(#bl1)"/>
<rect x="141.09" y="252.10" width="17.20" height="12.80" rx="3" fill="#050505" fill-opacity="0.24" filter="url(#bl2)"/>
<rect x="142.39" y="253.90" width="14.60" height="9.20" rx="2.00" fill="#050505" fill-opacity="0.95" filter="url(#bl1)"/>
<rect x="25.20" y="275.90" width="18.40" height="7.40" rx="3" fill="#050505" fill-opacity="0.25" filter="url(#bl2)"/>
<rect x="26.50" y="277.70" width="15.80" height="3.80" rx="1.90" fill="#050505" fill-opacity="1.00" filter="url(#bl1)"/>
<rect x="41.67" y="275.60" width="18.40" height="7.40" rx="3" fill="#050505" fill-opacity="0.25" filter="url(#bl2)"/>
<rect x="42.97" y="277.40" width="15.80" height="3.80" rx="1.90" fill="#050505" fill-opacity="1.00" filter="url(#bl1)"/>
<rect x="58.14" y="275.30" width="18.40" height="7.40" rx="3" fill="#050505" fill-opacity="0.25" filter="url(#bl2)"/>
<rect x="59.44" y="277.10" width="15.80" height="3.80" rx="1.90" fill="#050505" fill-opacity="1.00" filter="url(#bl1)"/>
<rect x="74.61" y="274.70" width="18.40" height="7.40" rx="3" fill="#050505" fill-opacity="0.25" filter="url(#bl2)"/>
<rect x="75.91" y="276.50" width="15.80" height="3.80" rx="1.90" fill="#050505" fill-opacity="1.00" filter="url(#bl1)"/>
<rect x="91.08" y="273.70" width="18.40" height="7.40" rx="3" fill="#050505" fill-opacity="0.25" filter="url(#bl2)"/>
<rect x="92.38" y="275.50" width="15.80" height="3.80" rx="1.90" fill="#050505" fill-opacity="1.00" filter="url(#bl1)"/>
<rect x="107.55" y="274.80" width="18.40" height="7.40" rx="3" fill="#050505" fill-opacity="0.25" filter="url(#bl2)"/>
<rect x="108.85" y="276.60" width="15.80" height="3.80" rx="1.90" fill="#050505" fill-opacity="1.00" filter="url(#bl1)"/>
<rect x="124.02" y="274.90" width="18.40" height="7.40" rx="3" fill="#050505" fill-opacity="0.25" filter="url(#bl2)"/>
<rect x="125.32" y="276.70" width="15.80" height="3.80" rx="1.90" fill="#050505" fill-opacity="1.00" filter="url(#bl1)"/>
<rect x="140.49" y="275.40" width="18.40" height="7.40" rx="3" fill="#050505" fill-opacity="0.25" filter="url(#bl2)"/>
<rect x="141.79" y="277.20" width="15.80" height="3.80" rx="1.90" fill="#050505" fill-opacity="1.00" filter="url(#bl1)"/>
<text x="163.40" y="219.40" font-size="8.0" textLength="41.7" lengthAdjust="spacingAndGlyphs" fill="#231f20">H4 (PAK1-IP)</text>
<text x="163.40" y="237.00" font-size="8.0" textLength="41.7" lengthAdjust="spacingAndGlyphs" fill="#231f20">H4 (PAK2-IP)</text>
<text x="163.40" y="251.50" font-size="8.0" textLength="29.5" lengthAdjust="spacingAndGlyphs" fill="#231f20">PAK1 (IP)</text>
<text x="163.40" y="261.20" font-size="8.0" textLength="53.2" lengthAdjust="spacingAndGlyphs" fill="#231f20">IgG heavy chain</text>
<text x="163.40" y="281.00" font-size="8.0" textLength="29.5" lengthAdjust="spacingAndGlyphs" fill="#231f20">PAK2 (IP)</text>
<text x="163.40" y="183.90" font-size="8.0" textLength="18.6" lengthAdjust="spacingAndGlyphs" fill="#231f20">FLT3L</text>
<text x="163.40" y="193.70" font-size="8.0" textLength="30.4" lengthAdjust="spacingAndGlyphs" fill="#231f20">FRAX486</text>
<text x="163.40" y="203.30" font-size="8.0" textLength="25.7" lengthAdjust="spacingAndGlyphs" fill="#231f20">PKC412</text>
<text x="236.80" y="160.00" font-size="10.6" fill="#231f20">E</text>
<text x="321.40" y="161.00" font-size="7.4" text-anchor="middle" textLength="44.6" lengthAdjust="spacingAndGlyphs" fill="#231f20">XT-ALL22089</text>
<line x1="260.90" y1="171.30" x2="263.30" y2="171.30" stroke="#231f20" stroke-width="0.7"/>
<text x="278.55" y="173.70" font-size="8.0" text-anchor="middle" fill="#231f20">+</text>
<line x1="293.80" y1="171.30" x2="296.20" y2="171.30" stroke="#231f20" stroke-width="0.7"/>
<text x="311.45" y="173.70" font-size="8.0" text-anchor="middle" fill="#231f20">+</text>
<line x1="326.70" y1="171.30" x2="329.10" y2="171.30" stroke="#231f20" stroke-width="0.7"/>
<text x="344.35" y="173.70" font-size="8.0" text-anchor="middle" fill="#231f20">+</text>
<line x1="359.60" y1="171.30" x2="362.00" y2="171.30" stroke="#231f20" stroke-width="0.7"/>
<text x="377.25" y="173.70" font-size="8.0" text-anchor="middle" fill="#231f20">+</text>
<line x1="260.90" y1="181.30" x2="263.30" y2="181.30" stroke="#231f20" stroke-width="0.7"/>
<line x1="277.35" y1="181.30" x2="279.75" y2="181.30" stroke="#231f20" stroke-width="0.7"/>
<text x="295.00" y="183.70" font-size="8.0" text-anchor="middle" fill="#231f20">+</text>
<text x="311.45" y="183.70" font-size="8.0" text-anchor="middle" fill="#231f20">+</text>
<line x1="326.70" y1="181.30" x2="329.10" y2="181.30" stroke="#231f20" stroke-width="0.7"/>
<line x1="343.15" y1="181.30" x2="345.55" y2="181.30" stroke="#231f20" stroke-width="0.7"/>
<text x="360.80" y="183.70" font-size="8.0" text-anchor="middle" fill="#231f20">+</text>
<text x="377.25" y="183.70" font-size="8.0" text-anchor="middle" fill="#231f20">+</text>
<line x1="260.90" y1="191.40" x2="263.30" y2="191.40" stroke="#231f20" stroke-width="0.7"/>
<line x1="277.35" y1="191.40" x2="279.75" y2="191.40" stroke="#231f20" stroke-width="0.7"/>
<line x1="293.80" y1="191.40" x2="296.20" y2="191.40" stroke="#231f20" stroke-width="0.7"/>
<line x1="310.25" y1="191.40" x2="312.65" y2="191.40" stroke="#231f20" stroke-width="0.7"/>
<text x="327.90" y="193.80" font-size="8.0" text-anchor="middle" fill="#231f20">+</text>
<text x="344.35" y="193.80" font-size="8.0" text-anchor="middle" fill="#231f20">+</text>
<text x="360.80" y="193.80" font-size="8.0" text-anchor="middle" fill="#231f20">+</text>
<text x="377.25" y="193.80" font-size="8.0" text-anchor="middle" fill="#231f20">+</text>
<text x="234.80" y="193.00" font-size="7.2" textLength="12.4" lengthAdjust="spacingAndGlyphs" fill="#231f20">kDa</text>
<text x="247.70" y="201.10" font-size="7.0" text-anchor="end" textLength="10.5" lengthAdjust="spacingAndGlyphs" fill="#231f20">15-</text>
<text x="247.70" y="218.00" font-size="7.0" text-anchor="end" textLength="10.5" lengthAdjust="spacingAndGlyphs" fill="#231f20">15-</text>
<text x="247.70" y="246.50" font-size="7.0" text-anchor="end" textLength="10.5" lengthAdjust="spacingAndGlyphs" fill="#231f20">70-</text>
<text x="247.70" y="276.70" font-size="7.0" text-anchor="end" textLength="10.5" lengthAdjust="spacingAndGlyphs" fill="#231f20">70-</text>
<rect x="251.50" y="198.00" width="135.80" height="16.50" fill="#eeeeee"/>
<rect x="251.50" y="216.40" width="135.80" height="18.60" fill="#ececec"/>
<rect x="251.50" y="237.20" width="135.80" height="26.50" fill="#e6e6e6"/>
<rect x="251.50" y="265.00" width="135.80" height="20.30" fill="#efefef"/>
<rect x="252.90" y="205.40" width="18.40" height="8.00" rx="3" fill="#050505" fill-opacity="0.12" filter="url(#bl2)"/>
<rect x="254.20" y="207.20" width="15.80" height="4.40" rx="2.00" fill="#050505" fill-opacity="0.50" filter="url(#bl1)"/>
<rect x="269.35" y="202.00" width="18.40" height="8.00" rx="3" fill="#050505" fill-opacity="0.23" filter="url(#bl2)"/>
<rect x="270.65" y="203.80" width="15.80" height="4.40" rx="2.00" fill="#050505" fill-opacity="0.90" filter="url(#bl1)"/>
<rect x="285.80" y="202.40" width="18.40" height="8.00" rx="3" fill="#050505" fill-opacity="0.11" filter="url(#bl2)"/>
<rect x="287.10" y="204.20" width="15.80" height="4.40" rx="2.00" fill="#050505" fill-opacity="0.45" filter="url(#bl1)"/>
<rect x="302.25" y="202.40" width="18.40" height="8.00" rx="3" fill="#050505" fill-opacity="0.12" filter="url(#bl2)"/>
<rect x="303.55" y="204.20" width="15.80" height="4.40" rx="2.00" fill="#050505" fill-opacity="0.50" filter="url(#bl1)"/>
<rect x="318.70" y="201.60" width="18.40" height="8.00" rx="3" fill="#050505" fill-opacity="0.16" filter="url(#bl2)"/>
<rect x="320.00" y="203.40" width="15.80" height="4.40" rx="2.00" fill="#050505" fill-opacity="0.65" filter="url(#bl1)"/>
<rect x="335.15" y="202.00" width="18.40" height="8.00" rx="3" fill="#050505" fill-opacity="0.20" filter="url(#bl2)"/>
<rect x="336.45" y="203.80" width="15.80" height="4.40" rx="2.00" fill="#050505" fill-opacity="0.80" filter="url(#bl1)"/>
<rect x="351.60" y="203.20" width="18.40" height="8.00" rx="3" fill="#050505" fill-opacity="0.09" filter="url(#bl2)"/>
<rect x="352.90" y="205.00" width="15.80" height="4.40" rx="2.00" fill="#050505" fill-opacity="0.35" filter="url(#bl1)"/>
<rect x="368.05" y="204.00" width="18.40" height="8.00" rx="3" fill="#050505" fill-opacity="0.07" filter="url(#bl2)"/>
<rect x="369.35" y="205.80" width="15.80" height="4.40" rx="2.00" fill="#050505" fill-opacity="0.30" filter="url(#bl1)"/>
<rect x="252.90" y="221.10" width="18.40" height="8.20" rx="3" fill="#050505" fill-opacity="0.16" filter="url(#bl2)"/>
<rect x="254.20" y="222.90" width="15.80" height="4.60" rx="2.00" fill="#050505" fill-opacity="0.65" filter="url(#bl1)"/>
<rect x="269.35" y="221.10" width="18.40" height="8.20" rx="3" fill="#050505" fill-opacity="0.20" filter="url(#bl2)"/>
<rect x="270.65" y="222.90" width="15.80" height="4.60" rx="2.00" fill="#050505" fill-opacity="0.80" filter="url(#bl1)"/>
<rect x="285.80" y="221.10" width="18.40" height="8.20" rx="3" fill="#050505" fill-opacity="0.15" filter="url(#bl2)"/>
<rect x="287.10" y="222.90" width="15.80" height="4.60" rx="2.00" fill="#050505" fill-opacity="0.60" filter="url(#bl1)"/>
<rect x="302.25" y="221.10" width="18.40" height="8.20" rx="3" fill="#050505" fill-opacity="0.14" filter="url(#bl2)"/>
<rect x="303.55" y="222.90" width="15.80" height="4.60" rx="2.00" fill="#050505" fill-opacity="0.55" filter="url(#bl1)"/>
<rect x="318.70" y="221.10" width="18.40" height="8.20" rx="3" fill="#050505" fill-opacity="0.25" filter="url(#bl2)"/>
<rect x="320.00" y="222.90" width="15.80" height="4.60" rx="2.00" fill="#050505" fill-opacity="1.00" filter="url(#bl1)"/>
<rect x="335.15" y="221.10" width="18.40" height="8.20" rx="3" fill="#050505" fill-opacity="0.25" filter="url(#bl2)"/>
<rect x="336.45" y="222.90" width="15.80" height="4.60" rx="2.00" fill="#050505" fill-opacity="1.00" filter="url(#bl1)"/>
<rect x="351.60" y="221.10" width="18.40" height="8.20" rx="3" fill="#050505" fill-opacity="0.16" filter="url(#bl2)"/>
<rect x="352.90" y="222.90" width="15.80" height="4.60" rx="2.00" fill="#050505" fill-opacity="0.65" filter="url(#bl1)"/>
<rect x="368.05" y="221.10" width="18.40" height="8.20" rx="3" fill="#050505" fill-opacity="0.14" filter="url(#bl2)"/>
<rect x="369.35" y="222.90" width="15.80" height="4.60" rx="2.00" fill="#050505" fill-opacity="0.55" filter="url(#bl1)"/>
<rect x="253.50" y="240.00" width="17.20" height="8.40" rx="3" fill="#050505" fill-opacity="0.24" filter="url(#bl2)"/>
<rect x="254.80" y="241.80" width="14.60" height="4.80" rx="2.00" fill="#050505" fill-opacity="0.97" filter="url(#bl1)"/>
<rect x="269.95" y="240.00" width="17.20" height="8.40" rx="3" fill="#050505" fill-opacity="0.24" filter="url(#bl2)"/>
<rect x="271.25" y="241.80" width="14.60" height="4.80" rx="2.00" fill="#050505" fill-opacity="0.97" filter="url(#bl1)"/>
<rect x="286.40" y="240.00" width="17.20" height="8.40" rx="3" fill="#050505" fill-opacity="0.24" filter="url(#bl2)"/>
<rect x="287.70" y="241.80" width="14.60" height="4.80" rx="2.00" fill="#050505" fill-opacity="0.97" filter="url(#bl1)"/>
<rect x="302.85" y="240.00" width="17.20" height="8.40" rx="3" fill="#050505" fill-opacity="0.24" filter="url(#bl2)"/>
<rect x="304.15" y="241.80" width="14.60" height="4.80" rx="2.00" fill="#050505" fill-opacity="0.97" filter="url(#bl1)"/>
<rect x="319.30" y="240.00" width="17.20" height="8.40" rx="3" fill="#050505" fill-opacity="0.24" filter="url(#bl2)"/>
<rect x="320.60" y="241.80" width="14.60" height="4.80" rx="2.00" fill="#050505" fill-opacity="0.97" filter="url(#bl1)"/>
<rect x="335.75" y="240.00" width="17.20" height="8.40" rx="3" fill="#050505" fill-opacity="0.24" filter="url(#bl2)"/>
<rect x="337.05" y="241.80" width="14.60" height="4.80" rx="2.00" fill="#050505" fill-opacity="0.97" filter="url(#bl1)"/>
<rect x="352.20" y="240.00" width="17.20" height="8.40" rx="3" fill="#050505" fill-opacity="0.24" filter="url(#bl2)"/>
<rect x="353.50" y="241.80" width="14.60" height="4.80" rx="2.00" fill="#050505" fill-opacity="0.97" filter="url(#bl1)"/>
<rect x="368.65" y="240.00" width="17.20" height="8.40" rx="3" fill="#050505" fill-opacity="0.24" filter="url(#bl2)"/>
<rect x="369.95" y="241.80" width="14.60" height="4.80" rx="2.00" fill="#050505" fill-opacity="0.97" filter="url(#bl1)"/>
<rect x="253.50" y="248.60" width="17.20" height="14.60" rx="3" fill="#050505" fill-opacity="0.24" filter="url(#bl2)"/>
<rect x="254.80" y="250.40" width="14.60" height="11.00" rx="2.00" fill="#050505" fill-opacity="0.97" filter="url(#bl1)"/>
<rect x="269.95" y="248.60" width="17.20" height="14.60" rx="3" fill="#050505" fill-opacity="0.24" filter="url(#bl2)"/>
<rect x="271.25" y="250.40" width="14.60" height="11.00" rx="2.00" fill="#050505" fill-opacity="0.97" filter="url(#bl1)"/>
<rect x="286.40" y="248.60" width="17.20" height="14.60" rx="3" fill="#050505" fill-opacity="0.24" filter="url(#bl2)"/>
<rect x="287.70" y="250.40" width="14.60" height="11.00" rx="2.00" fill="#050505" fill-opacity="0.97" filter="url(#bl1)"/>
<rect x="302.85" y="248.60" width="17.20" height="14.60" rx="3" fill="#050505" fill-opacity="0.24" filter="url(#bl2)"/>
<rect x="304.15" y="250.40" width="14.60" height="11.00" rx="2.00" fill="#050505" fill-opacity="0.97" filter="url(#bl1)"/>
<rect x="319.30" y="248.60" width="17.20" height="14.60" rx="3" fill="#050505" fill-opacity="0.24" filter="url(#bl2)"/>
<rect x="320.60" y="250.40" width="14.60" height="11.00" rx="2.00" fill="#050505" fill-opacity="0.97" filter="url(#bl1)"/>
<rect x="335.75" y="248.60" width="17.20" height="14.60" rx="3" fill="#050505" fill-opacity="0.24" filter="url(#bl2)"/>
<rect x="337.05" y="250.40" width="14.60" height="11.00" rx="2.00" fill="#050505" fill-opacity="0.97" filter="url(#bl1)"/>
<rect x="352.20" y="248.60" width="17.20" height="14.60" rx="3" fill="#050505" fill-opacity="0.24" filter="url(#bl2)"/>
<rect x="353.50" y="250.40" width="14.60" height="11.00" rx="2.00" fill="#050505" fill-opacity="0.97" filter="url(#bl1)"/>
<rect x="368.65" y="248.60" width="17.20" height="14.60" rx="3" fill="#050505" fill-opacity="0.24" filter="url(#bl2)"/>
<rect x="369.95" y="250.40" width="14.60" height="11.00" rx="2.00" fill="#050505" fill-opacity="0.97" filter="url(#bl1)"/>
<rect x="253.50" y="269.80" width="17.20" height="9.40" rx="3" fill="#050505" fill-opacity="0.25" filter="url(#bl2)"/>
<rect x="254.80" y="271.60" width="14.60" height="5.80" rx="2.00" fill="#050505" fill-opacity="1.00" filter="url(#bl1)"/>
<rect x="269.95" y="270.10" width="17.20" height="9.40" rx="3" fill="#050505" fill-opacity="0.25" filter="url(#bl2)"/>
<rect x="271.25" y="271.90" width="14.60" height="5.80" rx="2.00" fill="#050505" fill-opacity="1.00" filter="url(#bl1)"/>
<rect x="286.40" y="270.10" width="17.20" height="9.40" rx="3" fill="#050505" fill-opacity="0.25" filter="url(#bl2)"/>
<rect x="287.70" y="271.90" width="14.60" height="5.80" rx="2.00" fill="#050505" fill-opacity="1.00" filter="url(#bl1)"/>
<rect x="302.85" y="270.10" width="17.20" height="9.40" rx="3" fill="#050505" fill-opacity="0.25" filter="url(#bl2)"/>
<rect x="304.15" y="271.90" width="14.60" height="5.80" rx="2.00" fill="#050505" fill-opacity="1.00" filter="url(#bl1)"/>
<rect x="319.30" y="270.10" width="17.20" height="9.40" rx="3" fill="#050505" fill-opacity="0.25" filter="url(#bl2)"/>
<rect x="320.60" y="271.90" width="14.60" height="5.80" rx="2.00" fill="#050505" fill-opacity="1.00" filter="url(#bl1)"/>
<rect x="335.75" y="270.70" width="17.20" height="9.40" rx="3" fill="#050505" fill-opacity="0.25" filter="url(#bl2)"/>
<rect x="337.05" y="272.50" width="14.60" height="5.80" rx="2.00" fill="#050505" fill-opacity="1.00" filter="url(#bl1)"/>
<rect x="352.20" y="270.90" width="17.20" height="9.40" rx="3" fill="#050505" fill-opacity="0.25" filter="url(#bl2)"/>
<rect x="353.50" y="272.70" width="14.60" height="5.80" rx="2.00" fill="#050505" fill-opacity="1.00" filter="url(#bl1)"/>
<rect x="368.65" y="271.10" width="17.20" height="9.40" rx="3" fill="#050505" fill-opacity="0.25" filter="url(#bl2)"/>
<rect x="369.95" y="272.90" width="14.60" height="5.80" rx="2.00" fill="#050505" fill-opacity="1.00" filter="url(#bl1)"/>
<text x="391.60" y="209.10" font-size="8.0" textLength="41.6" lengthAdjust="spacingAndGlyphs" fill="#231f20">H4 (PAK1-IP)</text>
<text x="391.60" y="229.30" font-size="8.0" textLength="41.6" lengthAdjust="spacingAndGlyphs" fill="#231f20">H4 (PAK2-IP)</text>
<text x="391.60" y="246.20" font-size="8.0" textLength="29.4" lengthAdjust="spacingAndGlyphs" fill="#231f20">PAK1 (IP)</text>
<text x="391.60" y="257.20" font-size="8.0" textLength="53.6" lengthAdjust="spacingAndGlyphs" fill="#231f20">IgG heavy chain</text>
<text x="391.60" y="277.30" font-size="8.0" textLength="29.4" lengthAdjust="spacingAndGlyphs" fill="#231f20">PAK2 (IP)</text>
<text x="391.60" y="173.40" font-size="8.0" textLength="30.3" lengthAdjust="spacingAndGlyphs" fill="#231f20">PDGF-BB</text>
<text x="391.60" y="182.90" font-size="8.0" textLength="30.3" lengthAdjust="spacingAndGlyphs" fill="#231f20">FRAX486</text>
<text x="391.60" y="192.60" font-size="8.0" textLength="25.1" lengthAdjust="spacingAndGlyphs" fill="#231f20">PKC412</text>
<text x="8.30" y="304.00" font-size="10.6" fill="#231f20">F</text>
<line x1="41.50" y1="305.60" x2="41.50" y2="418.90" stroke="#000" stroke-width="1.0"/>
<line x1="41.00" y1="418.30" x2="197.30" y2="418.30" stroke="#000" stroke-width="1.2"/>
<line x1="37.20" y1="418.40" x2="41.50" y2="418.40" stroke="#000" stroke-width="0.9"/>
<text x="34.80" y="421.00" font-size="7.4" text-anchor="end" fill="#231f20">0</text>
<line x1="37.20" y1="401.10" x2="41.50" y2="401.10" stroke="#000" stroke-width="0.9"/>
<text x="34.80" y="403.70" font-size="7.4" text-anchor="end" fill="#231f20">20</text>
<line x1="37.20" y1="383.80" x2="41.50" y2="383.80" stroke="#000" stroke-width="0.9"/>
<text x="34.80" y="386.40" font-size="7.4" text-anchor="end" fill="#231f20">40</text>
<line x1="37.20" y1="366.50" x2="41.50" y2="366.50" stroke="#000" stroke-width="0.9"/>
<text x="34.80" y="369.10" font-size="7.4" text-anchor="end" fill="#231f20">60</text>
<line x1="37.20" y1="349.20" x2="41.50" y2="349.20" stroke="#000" stroke-width="0.9"/>
<text x="34.80" y="351.80" font-size="7.4" text-anchor="end" fill="#231f20">80</text>
<line x1="37.20" y1="331.90" x2="41.50" y2="331.90" stroke="#000" stroke-width="0.9"/>
<text x="34.80" y="334.50" font-size="7.4" text-anchor="end" fill="#231f20">100</text>
<line x1="37.20" y1="314.60" x2="41.50" y2="314.60" stroke="#000" stroke-width="0.9"/>
<text x="34.80" y="317.20" font-size="7.4" text-anchor="end" fill="#231f20">120</text>
<line x1="45.40" y1="418.40" x2="45.40" y2="421.20" stroke="#000" stroke-width="0.9"/>
<text x="45.40" y="432.10" font-size="7.0" text-anchor="middle" fill="#231f20">0.01</text>
<line x1="88.90" y1="418.40" x2="88.90" y2="421.20" stroke="#000" stroke-width="0.9"/>
<text x="88.90" y="432.10" font-size="7.0" text-anchor="middle" fill="#231f20">0.1</text>
<line x1="132.40" y1="418.40" x2="132.40" y2="421.20" stroke="#000" stroke-width="0.9"/>
<text x="132.40" y="432.10" font-size="7.0" text-anchor="middle" fill="#231f20">1</text>
<line x1="175.90" y1="418.40" x2="175.90" y2="421.20" stroke="#000" stroke-width="0.9"/>
<text x="175.90" y="432.10" font-size="7.0" text-anchor="middle" fill="#231f20">10</text>
<text x="119.30" y="444.80" font-size="8.9" text-anchor="middle" textLength="58.2" lengthAdjust="spacingAndGlyphs" fill="#231f20">FRAX486 (μM)</text>
<text x="17.20" y="362.00" font-size="9.3" text-anchor="middle" textLength="99.0" lengthAdjust="spacingAndGlyphs" transform="rotate(-90 17.20 362.00)" fill="#231f20">Relative proliferation (%)</text>
<clipPath id="cf"><rect x="41.5" y="300" width="155.5" height="125"/></clipPath>
<path d="M45.4 328.1V335.7M44.5 328.1h1.8M44.5 335.7h1.8" stroke="#a0a0a0" stroke-width="0.5" fill="none"/>
<path d="M75.8 326.5V337.3M74.9 326.5h1.8M74.9 337.3h1.8" stroke="#a0a0a0" stroke-width="0.5" fill="none"/>
<path d="M88.9 327.4V336.4M88.0 327.4h1.8M88.0 336.4h1.8" stroke="#a0a0a0" stroke-width="0.5" fill="none"/>
<path d="M119.3 326.3V337.7M118.4 326.3h1.8M118.4 337.7h1.8" stroke="#a0a0a0" stroke-width="0.5" fill="none"/>
<path d="M132.4 327.7V339.3M131.5 327.7h1.8M131.5 339.3h1.8" stroke="#a0a0a0" stroke-width="0.5" fill="none"/>
<path d="M149.7 365.6V371.5M148.8 365.6h1.8M148.8 371.5h1.8" stroke="#a0a0a0" stroke-width="0.5" fill="none"/>
<path d="M162.8 409.0V414.3M161.9 409.0h1.8M161.9 414.3h1.8" stroke="#a0a0a0" stroke-width="0.5" fill="none"/>
<path d="M170.5 410.0V423.9M169.6 410.0h1.8M169.6 423.9h1.8" stroke="#a0a0a0" stroke-width="0.5" fill="none"/>
<path d="M45.4 331.6V339.5M44.5 331.6h1.8M44.5 339.5h1.8" stroke="#a0a0a0" stroke-width="0.5" fill="none"/>
<path d="M75.8 335.3V342.9M74.9 335.3h1.8M74.9 342.9h1.8" stroke="#a0a0a0" stroke-width="0.5" fill="none"/>
<path d="M88.9 335.2V350.7M88.0 335.2h1.8M88.0 350.7h1.8" stroke="#a0a0a0" stroke-width="0.5" fill="none"/>
<path d="M119.3 358.1V368.1M118.4 358.1h1.8M118.4 368.1h1.8" stroke="#a0a0a0" stroke-width="0.5" fill="none"/>
<path d="M132.4 369.5V383.4M131.5 369.5h1.8M131.5 383.4h1.8" stroke="#a0a0a0" stroke-width="0.5" fill="none"/>
<path d="M149.7 388.6V398.7M148.8 388.6h1.8M148.8 398.7h1.8" stroke="#a0a0a0" stroke-width="0.5" fill="none"/>
<path d="M162.8 397.5V409.4M161.9 397.5h1.8M161.9 409.4h1.8" stroke="#a0a0a0" stroke-width="0.5" fill="none"/>
<path d="M170.5 404.2V411.0M169.6 404.2h1.8M169.6 411.0h1.8" stroke="#a0a0a0" stroke-width="0.5" fill="none"/>
<path d="M45.4 315.7V327.5M44.5 315.7h1.8M44.5 327.5h1.8" stroke="#a0a0a0" stroke-width="0.5" fill="none"/>
<path d="M75.8 324.0V338.2M74.9 324.0h1.8M74.9 338.2h1.8" stroke="#a0a0a0" stroke-width="0.5" fill="none"/>
<path d="M88.9 332.4V343.1M88.0 332.4h1.8M88.0 343.1h1.8" stroke="#a0a0a0" stroke-width="0.5" fill="none"/>
<path d="M119.3 352.8V365.7M118.4 352.8h1.8M118.4 365.7h1.8" stroke="#a0a0a0" stroke-width="0.5" fill="none"/>
<path d="M132.4 363.9V376.0M131.5 363.9h1.8M131.5 376.0h1.8" stroke="#a0a0a0" stroke-width="0.5" fill="none"/>
<path d="M149.7 380.7V386.5M148.8 380.7h1.8M148.8 386.5h1.8" stroke="#a0a0a0" stroke-width="0.5" fill="none"/>
<path d="M162.8 385.9V399.0M161.9 385.9h1.8M161.9 399.0h1.8" stroke="#a0a0a0" stroke-width="0.5" fill="none"/>
<path d="M170.5 391.2V402.6M169.6 391.2h1.8M169.6 402.6h1.8" stroke="#a0a0a0" stroke-width="0.5" fill="none"/>
<path d="M45.4 336.4V344.7M44.5 336.4h1.8M44.5 344.7h1.8" stroke="#a0a0a0" stroke-width="0.5" fill="none"/>
<path d="M75.8 337.8V343.3M74.9 337.8h1.8M74.9 343.3h1.8" stroke="#a0a0a0" stroke-width="0.5" fill="none"/>
<path d="M88.9 333.5V347.6M88.0 333.5h1.8M88.0 347.6h1.8" stroke="#a0a0a0" stroke-width="0.5" fill="none"/>
<path d="M119.3 335.5V345.6M118.4 335.5h1.8M118.4 345.6h1.8" stroke="#a0a0a0" stroke-width="0.5" fill="none"/>
<path d="M132.4 334.9V347.5M131.5 334.9h1.8M131.5 347.5h1.8" stroke="#a0a0a0" stroke-width="0.5" fill="none"/>
<path d="M149.7 359.8V374.1M148.8 359.8h1.8M148.8 374.1h1.8" stroke="#a0a0a0" stroke-width="0.5" fill="none"/>
<path d="M162.8 405.9V418.5M161.9 405.9h1.8M161.9 418.5h1.8" stroke="#a0a0a0" stroke-width="0.5" fill="none"/>
<path d="M170.5 410.0V424.7M169.6 410.0h1.8M169.6 424.7h1.8" stroke="#a0a0a0" stroke-width="0.5" fill="none"/>
<path d="M45.4 342.0V351.2M44.5 342.0h1.8M44.5 351.2h1.8" stroke="#a0a0a0" stroke-width="0.5" fill="none"/>
<path d="M75.8 339.9V353.4M74.9 339.9h1.8M74.9 353.4h1.8" stroke="#a0a0a0" stroke-width="0.5" fill="none"/>
<path d="M88.9 341.7V351.5M88.0 341.7h1.8M88.0 351.5h1.8" stroke="#a0a0a0" stroke-width="0.5" fill="none"/>
<path d="M119.3 339.4V354.3M118.4 339.4h1.8M118.4 354.3h1.8" stroke="#a0a0a0" stroke-width="0.5" fill="none"/>
<path d="M132.4 343.0V357.3M131.5 343.0h1.8M131.5 357.3h1.8" stroke="#a0a0a0" stroke-width="0.5" fill="none"/>
<path d="M149.7 391.4V397.6M148.8 391.4h1.8M148.8 397.6h1.8" stroke="#a0a0a0" stroke-width="0.5" fill="none"/>
<path d="M162.8 412.9V419.5M161.9 412.9h1.8M161.9 419.5h1.8" stroke="#a0a0a0" stroke-width="0.5" fill="none"/>
<path d="M170.5 414.2V421.7M169.6 414.2h1.8M169.6 421.7h1.8" stroke="#a0a0a0" stroke-width="0.5" fill="none"/>
<path d="M45.4 324.3V339.5M44.5 324.3h1.8M44.5 339.5h1.8" stroke="#a0a0a0" stroke-width="0.5" fill="none"/>
<path d="M75.8 327.0V336.8M74.9 327.0h1.8M74.9 336.8h1.8" stroke="#a0a0a0" stroke-width="0.5" fill="none"/>
<path d="M88.9 326.1V337.8M88.0 326.1h1.8M88.0 337.8h1.8" stroke="#a0a0a0" stroke-width="0.5" fill="none"/>
<path d="M119.3 330.0V338.3M118.4 330.0h1.8M118.4 338.3h1.8" stroke="#a0a0a0" stroke-width="0.5" fill="none"/>
<path d="M132.4 338.9V349.4M131.5 338.9h1.8M131.5 349.4h1.8" stroke="#a0a0a0" stroke-width="0.5" fill="none"/>
<path d="M149.7 382.8V392.0M148.8 382.8h1.8M148.8 392.0h1.8" stroke="#a0a0a0" stroke-width="0.5" fill="none"/>
<path d="M162.8 406.7V415.5M161.9 406.7h1.8M161.9 415.5h1.8" stroke="#a0a0a0" stroke-width="0.5" fill="none"/>
<path d="M170.5 410.1V421.3M169.6 410.1h1.8M169.6 421.3h1.8" stroke="#a0a0a0" stroke-width="0.5" fill="none"/>
<path d="M45.4 334.9V346.2M44.5 334.9h1.8M44.5 346.2h1.8" stroke="#a0a0a0" stroke-width="0.5" fill="none"/>
<path d="M75.8 333.3V347.8M74.9 333.3h1.8M74.9 347.8h1.8" stroke="#a0a0a0" stroke-width="0.5" fill="none"/>
<path d="M88.9 334.4V346.7M88.0 334.4h1.8M88.0 346.7h1.8" stroke="#a0a0a0" stroke-width="0.5" fill="none"/>
<path d="M119.3 333.2V348.0M118.4 333.2h1.8M118.4 348.0h1.8" stroke="#a0a0a0" stroke-width="0.5" fill="none"/>
<path d="M132.4 334.6V348.6M131.5 334.6h1.8M131.5 348.6h1.8" stroke="#a0a0a0" stroke-width="0.5" fill="none"/>
<path d="M149.7 356.7V372.1M148.8 356.7h1.8M148.8 372.1h1.8" stroke="#a0a0a0" stroke-width="0.5" fill="none"/>
<path d="M162.8 401.4V413.6M161.9 401.4h1.8M161.9 413.6h1.8" stroke="#a0a0a0" stroke-width="0.5" fill="none"/>
<path d="M170.5 412.3V419.2M169.6 412.3h1.8M169.6 419.2h1.8" stroke="#a0a0a0" stroke-width="0.5" fill="none"/>
<path d="M45.4 330.3V344.5M44.5 330.3h1.8M44.5 344.5h1.8" stroke="#a0a0a0" stroke-width="0.5" fill="none"/>
<path d="M75.8 333.4V348.6M74.9 333.4h1.8M74.9 348.6h1.8" stroke="#a0a0a0" stroke-width="0.5" fill="none"/>
<path d="M88.9 337.4V352.0M88.0 337.4h1.8M88.0 352.0h1.8" stroke="#a0a0a0" stroke-width="0.5" fill="none"/>
<path d="M119.3 357.8V368.9M118.4 357.8h1.8M118.4 368.9h1.8" stroke="#a0a0a0" stroke-width="0.5" fill="none"/>
<path d="M132.4 369.3V381.9M131.5 369.3h1.8M131.5 381.9h1.8" stroke="#a0a0a0" stroke-width="0.5" fill="none"/>
<path d="M149.7 388.1V395.5M148.8 388.1h1.8M148.8 395.5h1.8" stroke="#a0a0a0" stroke-width="0.5" fill="none"/>
<path d="M162.8 394.7V408.6M161.9 394.7h1.8M161.9 408.6h1.8" stroke="#a0a0a0" stroke-width="0.5" fill="none"/>
<path d="M170.5 400.4V411.6M169.6 400.4h1.8M169.6 411.6h1.8" stroke="#a0a0a0" stroke-width="0.5" fill="none"/>
<path d="M45.4 327.0V335.1M44.5 327.0h1.8M44.5 335.1h1.8" stroke="#a0a0a0" stroke-width="0.5" fill="none"/>
<path d="M75.8 328.1V334.0M74.9 328.1h1.8M74.9 334.0h1.8" stroke="#a0a0a0" stroke-width="0.5" fill="none"/>
<path d="M88.9 324.0V338.1M88.0 324.0h1.8M88.0 338.1h1.8" stroke="#a0a0a0" stroke-width="0.5" fill="none"/>
<path d="M119.3 323.3V338.8M118.4 323.3h1.8M118.4 338.8h1.8" stroke="#a0a0a0" stroke-width="0.5" fill="none"/>
<path d="M132.4 328.4V334.5M131.5 328.4h1.8M131.5 334.5h1.8" stroke="#a0a0a0" stroke-width="0.5" fill="none"/>
<path d="M149.7 343.8V357.3M148.8 343.8h1.8M148.8 357.3h1.8" stroke="#a0a0a0" stroke-width="0.5" fill="none"/>
<path d="M162.8 402.0V411.5M161.9 402.0h1.8M161.9 411.5h1.8" stroke="#a0a0a0" stroke-width="0.5" fill="none"/>
<path d="M170.5 412.9V419.7M169.6 412.9h1.8M169.6 419.7h1.8" stroke="#a0a0a0" stroke-width="0.5" fill="none"/>
<path d="M45.4 330.2V338.5M44.5 330.2h1.8M44.5 338.5h1.8" stroke="#a0a0a0" stroke-width="0.5" fill="none"/>
<path d="M75.8 329.9V343.1M74.9 329.9h1.8M74.9 343.1h1.8" stroke="#a0a0a0" stroke-width="0.5" fill="none"/>
<path d="M88.9 331.6V345.9M88.0 331.6h1.8M88.0 345.9h1.8" stroke="#a0a0a0" stroke-width="0.5" fill="none"/>
<path d="M119.3 346.8V352.5M118.4 346.8h1.8M118.4 352.5h1.8" stroke="#a0a0a0" stroke-width="0.5" fill="none"/>
<path d="M132.4 350.8V362.3M131.5 350.8h1.8M131.5 362.3h1.8" stroke="#a0a0a0" stroke-width="0.5" fill="none"/>
<path d="M149.7 362.7V368.3M148.8 362.7h1.8M148.8 368.3h1.8" stroke="#a0a0a0" stroke-width="0.5" fill="none"/>
<path d="M162.8 364.4V377.1M161.9 364.4h1.8M161.9 377.1h1.8" stroke="#a0a0a0" stroke-width="0.5" fill="none"/>
<path d="M170.5 368.7V377.4M169.6 368.7h1.8M169.6 377.4h1.8" stroke="#a0a0a0" stroke-width="0.5" fill="none"/>
<path d="M45.4 324.8V339.1M44.5 324.8h1.8M44.5 339.1h1.8" stroke="#a0a0a0" stroke-width="0.5" fill="none"/>
<path d="M75.8 324.6V339.9M74.9 324.6h1.8M74.9 339.9h1.8" stroke="#a0a0a0" stroke-width="0.5" fill="none"/>
<path d="M88.9 327.5V337.9M88.0 327.5h1.8M88.0 337.9h1.8" stroke="#a0a0a0" stroke-width="0.5" fill="none"/>
<path d="M119.3 329.1V344.6M118.4 329.1h1.8M118.4 344.6h1.8" stroke="#a0a0a0" stroke-width="0.5" fill="none"/>
<path d="M132.4 337.7V346.1M131.5 337.7h1.8M131.5 346.1h1.8" stroke="#a0a0a0" stroke-width="0.5" fill="none"/>
<path d="M149.7 350.1V356.1M148.8 350.1h1.8M148.8 356.1h1.8" stroke="#a0a0a0" stroke-width="0.5" fill="none"/>
<path d="M162.8 357.1V368.5M161.9 357.1h1.8M161.9 368.5h1.8" stroke="#a0a0a0" stroke-width="0.5" fill="none"/>
<path d="M170.5 364.8V370.3M169.6 364.8h1.8M169.6 370.3h1.8" stroke="#a0a0a0" stroke-width="0.5" fill="none"/>
<polyline points="45.40,331.90 47.48,331.90 49.57,331.90 51.65,331.90 53.74,331.90 55.82,331.90 57.91,331.90 59.99,331.90 62.08,331.90 64.16,331.90 66.24,331.90 68.33,331.90 70.41,331.90 72.50,331.90 74.58,331.90 76.67,331.90 78.75,331.90 80.84,331.90 82.92,331.90 85.00,331.90 87.09,331.90 89.17,331.90 91.26,331.90 93.34,331.90 95.43,331.90 97.51,331.90 99.59,331.90 101.68,331.90 103.76,331.90 105.85,331.91 107.93,331.91 110.02,331.91 112.10,331.92 114.19,331.93 116.27,331.95 118.35,331.98 120.44,332.03 122.52,332.10 124.61,332.21 126.69,332.38 128.78,332.65 130.86,333.06 132.95,333.69 135.03,334.65 137.11,336.10 139.20,338.26 141.28,341.40 143.37,345.83 145.45,351.78 147.54,359.31 149.62,368.15 151.71,377.62 153.79,386.87 155.87,395.09 157.96,401.81 160.04,406.95 162.13,410.67 164.21,413.26 166.30,415.02 168.38,416.20 170.47,416.97" fill="none" stroke="#4f7d63" stroke-width="1.0" clip-path="url(#cf)"/>
<polyline points="45.40,335.54 47.48,335.65 49.57,335.78 51.65,335.92 53.74,336.07 55.82,336.24 57.91,336.43 59.99,336.64 62.08,336.87 64.16,337.12 66.24,337.40 68.33,337.71 70.41,338.05 72.50,338.43 74.58,338.84 76.67,339.29 78.75,339.79 80.84,340.33 82.92,340.93 85.00,341.58 87.09,342.29 89.17,343.06 91.26,343.91 93.34,344.82 95.43,345.80 97.51,346.87 99.59,348.02 101.68,349.25 103.76,350.57 105.85,351.97 107.93,353.47 110.02,355.05 112.10,356.72 114.19,358.47 116.27,360.31 118.35,362.22 120.44,364.20 122.52,366.24 124.61,368.33 126.69,370.47 128.78,372.64 130.86,374.83 132.95,377.02 135.03,379.22 137.11,381.40 139.20,383.55 141.28,385.66 143.37,387.73 145.45,389.74 147.54,391.69 149.62,393.56 151.71,395.35 153.79,397.06 155.87,398.68 157.96,400.22 160.04,401.67 162.13,403.03 164.21,404.30 166.30,405.49 168.38,406.59 170.47,407.62" fill="none" stroke="#8cc4ea" stroke-width="1.0" clip-path="url(#cf)"/>
<polyline points="45.40,321.58 47.48,322.03 49.57,322.50 51.65,322.99 53.74,323.52 55.82,324.07 57.91,324.66 59.99,325.28 62.08,325.93 64.16,326.61 66.24,327.34 68.33,328.09 70.41,328.89 72.50,329.73 74.58,330.60 76.67,331.52 78.75,332.48 80.84,333.48 82.92,334.52 85.00,335.61 87.09,336.74 89.17,337.91 91.26,339.13 93.34,340.39 95.43,341.70 97.51,343.05 99.59,344.43 101.68,345.86 103.76,347.33 105.85,348.83 107.93,350.36 110.02,351.93 112.10,353.53 114.19,355.15 116.27,356.80 118.35,358.46 120.44,360.15 122.52,361.85 124.61,363.56 126.69,365.27 128.78,366.99 130.86,368.70 132.95,370.42 135.03,372.12 137.11,373.81 139.20,375.49 141.28,377.14 143.37,378.78 145.45,380.39 147.54,381.97 149.62,383.52 151.71,385.03 153.79,386.51 155.87,387.96 157.96,389.36 160.04,390.72 162.13,392.05 164.21,393.33 166.30,394.56 168.38,395.76 170.47,396.91" fill="none" stroke="#6e3d96" stroke-width="1.0" clip-path="url(#cf)"/>
<polyline points="45.40,340.55 47.48,340.55 49.57,340.55 51.65,340.55 53.74,340.55 55.82,340.55 57.91,340.55 59.99,340.55 62.08,340.55 64.16,340.55 66.24,340.55 68.33,340.55 70.41,340.55 72.50,340.55 74.58,340.55 76.67,340.55 78.75,340.55 80.84,340.55 82.92,340.55 85.00,340.55 87.09,340.55 89.17,340.55 91.26,340.55 93.34,340.55 95.43,340.55 97.51,340.55 99.59,340.55 101.68,340.55 103.76,340.55 105.85,340.55 107.93,340.55 110.02,340.55 112.10,340.56 114.19,340.56 116.27,340.56 118.35,340.57 120.44,340.59 122.52,340.61 124.61,340.65 126.69,340.72 128.78,340.82 130.86,341.00 132.95,341.28 135.03,341.74 137.11,342.49 139.20,343.68 141.28,345.57 143.37,348.47 145.45,352.76 147.54,358.77 149.62,366.57 151.71,375.74 153.79,385.34 155.87,394.27 157.96,401.69 160.04,407.29 162.13,411.24 164.21,413.88 166.30,415.58 168.38,416.66 170.47,417.33" fill="none" stroke="#c8274f" stroke-width="1.0" clip-path="url(#cf)"/>
<polyline points="45.40,346.61 47.48,346.61 49.57,346.61 51.65,346.61 53.74,346.61 55.82,346.61 57.91,346.61 59.99,346.61 62.08,346.61 64.16,346.61 66.24,346.61 68.33,346.61 70.41,346.61 72.50,346.61 74.58,346.61 76.67,346.61 78.75,346.61 80.84,346.61 82.92,346.61 85.00,346.61 87.09,346.61 89.17,346.61 91.26,346.61 93.34,346.61 95.43,346.61 97.51,346.61 99.59,346.61 101.68,346.61 103.76,346.61 105.85,346.62 107.93,346.63 110.02,346.64 112.10,346.66 114.19,346.68 116.27,346.73 118.35,346.79 120.44,346.90 122.52,347.06 124.61,347.31 126.69,347.69 128.78,348.28 130.86,349.17 132.95,350.52 135.03,352.52 137.11,355.40 139.20,359.40 141.28,364.71 143.37,371.30 145.45,378.85 147.54,386.74 149.62,394.23 151.71,400.74 153.79,405.94 155.87,409.86 157.96,412.66 160.04,414.60 162.13,415.91 164.21,416.78 166.30,417.35 168.38,417.72 170.47,417.96" fill="none" stroke="#f2c84b" stroke-width="1.0" clip-path="url(#cf)"/>
<polyline points="45.40,331.90 47.48,331.90 49.57,331.90 51.65,331.90 53.74,331.90 55.82,331.90 57.91,331.90 59.99,331.90 62.08,331.90 64.16,331.90 66.24,331.90 68.33,331.90 70.41,331.90 72.50,331.90 74.58,331.90 76.67,331.91 78.75,331.91 80.84,331.91 82.92,331.92 85.00,331.92 87.09,331.93 89.17,331.94 91.26,331.95 93.34,331.97 95.43,331.99 97.51,332.02 99.59,332.06 101.68,332.11 103.76,332.18 105.85,332.27 107.93,332.39 110.02,332.55 112.10,332.76 114.19,333.05 116.27,333.42 118.35,333.92 120.44,334.57 122.52,335.42 124.61,336.52 126.69,337.95 128.78,339.78 130.86,342.08 132.95,344.96 135.03,348.47 137.11,352.65 139.20,357.50 141.28,362.96 143.37,368.86 145.45,375.02 147.54,381.19 149.62,387.11 151.71,392.58 153.79,397.46 155.87,401.68 157.96,405.21 160.04,408.11 162.13,410.44 164.21,412.28 166.30,413.73 168.38,414.84 170.47,415.70" fill="none" stroke="#8cc978" stroke-width="1.0" clip-path="url(#cf)"/>
<polyline points="45.40,340.55 47.48,340.55 49.57,340.55 51.65,340.55 53.74,340.55 55.82,340.55 57.91,340.55 59.99,340.55 62.08,340.55 64.16,340.55 66.24,340.55 68.33,340.55 70.41,340.55 72.50,340.55 74.58,340.55 76.67,340.55 78.75,340.55 80.84,340.55 82.92,340.55 85.00,340.55 87.09,340.55 89.17,340.55 91.26,340.55 93.34,340.55 95.43,340.55 97.51,340.55 99.59,340.55 101.68,340.55 103.76,340.55 105.85,340.56 107.93,340.56 110.02,340.56 112.10,340.57 114.19,340.58 116.27,340.59 118.35,340.61 120.44,340.65 122.52,340.69 124.61,340.77 126.69,340.88 128.78,341.06 130.86,341.32 132.95,341.71 135.03,342.30 137.11,343.19 139.20,344.49 141.28,346.39 143.37,349.09 145.45,352.84 147.54,357.82 149.62,364.10 151.71,371.49 153.79,379.54 155.87,387.58 157.96,394.95 160.04,401.21 162.13,406.17 164.21,409.90 166.30,412.60 168.38,414.48 170.47,415.78" fill="none" stroke="#e84d9f" stroke-width="1.0" clip-path="url(#cf)"/>
<polyline points="45.40,337.40 47.48,337.52 49.57,337.66 51.65,337.80 53.74,337.97 55.82,338.14 57.91,338.34 59.99,338.55 62.08,338.79 64.16,339.05 66.24,339.33 68.33,339.64 70.41,339.98 72.50,340.35 74.58,340.76 76.67,341.20 78.75,341.69 80.84,342.22 82.92,342.79 85.00,343.42 87.09,344.10 89.17,344.84 91.26,345.63 93.34,346.49 95.43,347.42 97.51,348.41 99.59,349.48 101.68,350.62 103.76,351.84 105.85,353.13 107.93,354.51 110.02,355.96 112.10,357.48 114.19,359.08 116.27,360.76 118.35,362.50 120.44,364.31 122.52,366.17 124.61,368.08 126.69,370.04 128.78,372.03 130.86,374.05 132.95,376.08 135.03,378.12 137.11,380.16 139.20,382.18 141.28,384.18 143.37,386.14 145.45,388.07 147.54,389.94 149.62,391.76 151.71,393.52 153.79,395.20 155.87,396.82 157.96,398.36 160.04,399.83 162.13,401.22 164.21,402.53 166.30,403.76 168.38,404.92 170.47,406.00" fill="none" stroke="#3c5fa6" stroke-width="1.0" clip-path="url(#cf)"/>
<polyline points="45.40,331.04 47.48,331.04 49.57,331.04 51.65,331.04 53.74,331.04 55.82,331.04 57.91,331.04 59.99,331.04 62.08,331.04 64.16,331.04 66.24,331.04 68.33,331.04 70.41,331.04 72.50,331.04 74.58,331.04 76.67,331.04 78.75,331.04 80.84,331.04 82.92,331.04 85.00,331.04 87.09,331.04 89.17,331.04 91.26,331.04 93.34,331.04 95.43,331.04 97.51,331.04 99.59,331.04 101.68,331.04 103.76,331.04 105.85,331.04 107.93,331.04 110.02,331.04 112.10,331.04 114.19,331.04 116.27,331.04 118.35,331.05 120.44,331.06 122.52,331.07 124.61,331.10 126.69,331.14 128.78,331.21 130.86,331.32 132.95,331.49 135.03,331.79 137.11,332.26 139.20,333.04 141.28,334.28 143.37,336.23 145.45,339.26 147.54,343.78 149.62,350.18 151.71,358.61 153.79,368.69 155.87,379.48 157.96,389.71 160.04,398.36 162.13,405.00 164.21,409.72 166.30,412.91 168.38,414.97 170.47,416.28" fill="none" stroke="#9c8466" stroke-width="1.0" clip-path="url(#cf)"/>
<polyline points="45.40,334.35 47.48,334.42 49.57,334.50 51.65,334.59 53.74,334.69 55.82,334.79 57.91,334.91 59.99,335.04 62.08,335.18 64.16,335.34 66.24,335.51 68.33,335.70 70.41,335.90 72.50,336.13 74.58,336.37 76.67,336.64 78.75,336.93 80.84,337.25 82.92,337.60 85.00,337.97 87.09,338.38 89.17,338.82 91.26,339.29 93.34,339.80 95.43,340.35 97.51,340.94 99.59,341.57 101.68,342.25 103.76,342.96 105.85,343.72 107.93,344.52 110.02,345.37 112.10,346.26 114.19,347.19 116.27,348.15 118.35,349.16 120.44,350.19 122.52,351.26 124.61,352.35 126.69,353.46 128.78,354.58 130.86,355.71 132.95,356.85 135.03,357.99 137.11,359.12 139.20,360.23 141.28,361.33 143.37,362.41 145.45,363.46 147.54,364.48 149.62,365.46 151.71,366.41 153.79,367.32 155.87,368.18 157.96,369.01 160.04,369.79 162.13,370.52 164.21,371.22 166.30,371.87 168.38,372.48 170.47,373.05" fill="none" stroke="#d4d4d4" stroke-width="1.0" clip-path="url(#cf)"/>
<polyline points="45.40,331.95 47.48,331.96 49.57,331.97 51.65,331.98 53.74,331.99 55.82,332.00 57.91,332.01 59.99,332.03 62.08,332.05 64.16,332.07 66.24,332.09 68.33,332.12 70.41,332.15 72.50,332.18 74.58,332.22 76.67,332.27 78.75,332.32 80.84,332.38 82.92,332.44 85.00,332.52 87.09,332.61 89.17,332.70 91.26,332.82 93.34,332.94 95.43,333.09 97.51,333.25 99.59,333.43 101.68,333.64 103.76,333.88 105.85,334.15 107.93,334.45 110.02,334.79 112.10,335.17 114.19,335.59 116.27,336.07 118.35,336.60 120.44,337.19 122.52,337.85 124.61,338.57 126.69,339.37 128.78,340.24 130.86,341.19 132.95,342.22 135.03,343.33 137.11,344.52 139.20,345.78 141.28,347.12 143.37,348.52 145.45,349.98 147.54,351.49 149.62,353.03 151.71,354.59 153.79,356.17 155.87,357.74 157.96,359.29 160.04,360.81 162.13,362.29 164.21,363.71 166.30,365.08 168.38,366.37 170.47,367.59" fill="none" stroke="#8a93aa" stroke-width="1.0" clip-path="url(#cf)"/>
<polygon points="44.30,333.11 46.50,333.11 45.40,334.98" fill="#222"/>
<polygon points="74.71,331.66 76.91,331.66 75.81,333.53" fill="#222"/>
<polygon points="87.80,330.26 90.00,330.26 88.90,332.13" fill="#222"/>
<polygon points="118.21,333.50 120.41,333.50 119.31,335.37" fill="#222"/>
<polygon points="131.30,335.78 133.50,335.78 132.40,337.65" fill="#222"/>
<polygon points="148.61,365.12 150.81,365.12 149.71,366.99" fill="#222"/>
<polygon points="161.71,412.03 163.91,412.03 162.81,413.90" fill="#222"/>
<polygon points="169.37,412.92 171.57,412.92 170.47,414.79" fill="#222"/>
<polygon points="45.40,331.47 46.72,332.79 45.40,334.11 44.08,332.79" fill="#fff" stroke="#3a5d8c" stroke-width="0.6"/>
<polygon points="75.81,338.63 77.13,339.95 75.81,341.27 74.49,339.95" fill="#fff" stroke="#3a5d8c" stroke-width="0.6"/>
<polygon points="88.90,341.91 90.22,343.23 88.90,344.55 87.58,343.23" fill="#fff" stroke="#3a5d8c" stroke-width="0.6"/>
<polygon points="119.31,361.65 120.63,362.97 119.31,364.29 117.99,362.97" fill="#fff" stroke="#3a5d8c" stroke-width="0.6"/>
<polygon points="132.40,374.13 133.72,375.45 132.40,376.77 131.08,375.45" fill="#fff" stroke="#3a5d8c" stroke-width="0.6"/>
<polygon points="149.71,391.65 151.03,392.97 149.71,394.29 148.39,392.97" fill="#fff" stroke="#3a5d8c" stroke-width="0.6"/>
<polygon points="162.81,401.72 164.13,403.04 162.81,404.36 161.49,403.04" fill="#fff" stroke="#3a5d8c" stroke-width="0.6"/>
<polygon points="170.47,405.47 171.79,406.79 170.47,408.11 169.15,406.79" fill="#fff" stroke="#3a5d8c" stroke-width="0.6"/>
<circle cx="45.40" cy="318.53" r="1.1" fill="#3c1458"/>
<circle cx="75.81" cy="331.09" r="1.1" fill="#3c1458"/>
<circle cx="88.90" cy="338.23" r="1.1" fill="#3c1458"/>
<circle cx="119.31" cy="357.71" r="1.1" fill="#3c1458"/>
<circle cx="132.40" cy="371.78" r="1.1" fill="#3c1458"/>
<circle cx="149.71" cy="384.96" r="1.1" fill="#3c1458"/>
<circle cx="162.81" cy="389.16" r="1.1" fill="#3c1458"/>
<circle cx="170.47" cy="396.76" r="1.1" fill="#3c1458"/>
<circle cx="45.40" cy="340.21" r="1.1" fill="#5a0c1c"/>
<circle cx="75.81" cy="343.93" r="1.1" fill="#5a0c1c"/>
<circle cx="88.90" cy="341.14" r="1.1" fill="#5a0c1c"/>
<circle cx="119.31" cy="340.03" r="1.1" fill="#5a0c1c"/>
<circle cx="132.40" cy="344.51" r="1.1" fill="#5a0c1c"/>
<circle cx="149.71" cy="366.14" r="1.1" fill="#5a0c1c"/>
<circle cx="162.81" cy="411.31" r="1.1" fill="#5a0c1c"/>
<circle cx="170.47" cy="420.38" r="1.1" fill="#5a0c1c"/>
<polygon points="44.30,346.60 46.50,346.60 45.40,344.73" fill="#444"/>
<polygon points="74.71,347.72 76.91,347.72 75.81,345.85" fill="#444"/>
<polygon points="87.80,346.24 90.00,346.24 88.90,344.37" fill="#444"/>
<polygon points="118.21,348.74 120.41,348.74 119.31,346.87" fill="#444"/>
<polygon points="131.30,349.56 133.50,349.56 132.40,347.69" fill="#444"/>
<polygon points="148.61,393.77 150.81,393.77 149.71,391.90" fill="#444"/>
<polygon points="161.71,420.42 163.91,420.42 162.81,418.55" fill="#444"/>
<polygon points="169.37,421.88 171.57,421.88 170.47,420.01" fill="#444"/>
<polygon points="44.30,329.80 46.50,329.80 45.40,331.67" fill="#333"/>
<polygon points="74.71,327.82 76.91,327.82 75.81,329.69" fill="#333"/>
<polygon points="87.80,332.78 90.00,332.78 88.90,334.65" fill="#333"/>
<polygon points="118.21,333.61 120.41,333.61 119.31,335.48" fill="#333"/>
<polygon points="131.30,342.63 133.50,342.63 132.40,344.50" fill="#333"/>
<polygon points="148.61,387.72 150.81,387.72 149.71,389.59" fill="#333"/>
<polygon points="161.71,411.15 163.91,411.15 162.81,413.02" fill="#333"/>
<polygon points="169.37,416.12 171.57,416.12 170.47,417.99" fill="#333"/>
<rect x="44.41" y="340.47" width="1.98" height="1.98" fill="#5a1038"/>
<rect x="74.82" y="338.90" width="1.98" height="1.98" fill="#5a1038"/>
<rect x="87.91" y="340.94" width="1.98" height="1.98" fill="#5a1038"/>
<rect x="118.32" y="340.49" width="1.98" height="1.98" fill="#5a1038"/>
<rect x="131.41" y="338.72" width="1.98" height="1.98" fill="#5a1038"/>
<rect x="148.72" y="366.68" width="1.98" height="1.98" fill="#5a1038"/>
<rect x="161.82" y="406.04" width="1.98" height="1.98" fill="#5a1038"/>
<rect x="169.48" y="413.16" width="1.98" height="1.98" fill="#5a1038"/>
<rect x="44.41" y="337.73" width="1.98" height="1.98" fill="#16254a"/>
<rect x="74.82" y="341.95" width="1.98" height="1.98" fill="#16254a"/>
<rect x="87.91" y="341.64" width="1.98" height="1.98" fill="#16254a"/>
<rect x="118.32" y="364.14" width="1.98" height="1.98" fill="#16254a"/>
<rect x="131.41" y="376.72" width="1.98" height="1.98" fill="#16254a"/>
<rect x="148.72" y="391.30" width="1.98" height="1.98" fill="#16254a"/>
<rect x="161.82" y="399.29" width="1.98" height="1.98" fill="#16254a"/>
<rect x="169.48" y="407.77" width="1.98" height="1.98" fill="#16254a"/>
<polygon points="44.30,333.15 46.50,333.15 45.40,331.28" fill="#222"/>
<polygon points="74.71,333.07 76.91,333.07 75.81,331.20" fill="#222"/>
<polygon points="87.80,329.61 90.00,329.61 88.90,327.74" fill="#222"/>
<polygon points="118.21,332.36 120.41,332.36 119.31,330.49" fill="#222"/>
<polygon points="131.30,329.86 133.50,329.86 132.40,327.99" fill="#222"/>
<polygon points="148.61,353.67 150.81,353.67 149.71,351.80" fill="#222"/>
<polygon points="161.71,408.74 163.91,408.74 162.81,406.87" fill="#222"/>
<polygon points="169.37,416.12 171.57,416.12 170.47,414.25" fill="#222"/>
<polygon points="45.40,330.36 46.72,331.68 45.40,333.00 44.08,331.68" fill="#fff" stroke="#777" stroke-width="0.6"/>
<polygon points="75.81,335.55 77.13,336.87 75.81,338.19 74.49,336.87" fill="#fff" stroke="#777" stroke-width="0.6"/>
<polygon points="88.90,339.34 90.22,340.66 88.90,341.98 87.58,340.66" fill="#fff" stroke="#777" stroke-width="0.6"/>
<polygon points="119.31,350.93 120.63,352.25 119.31,353.57 117.99,352.25" fill="#fff" stroke="#777" stroke-width="0.6"/>
<polygon points="132.40,355.03 133.72,356.35 132.40,357.67 131.08,356.35" fill="#fff" stroke="#777" stroke-width="0.6"/>
<polygon points="149.71,366.32 151.03,367.64 149.71,368.96 148.39,367.64" fill="#fff" stroke="#777" stroke-width="0.6"/>
<polygon points="162.81,367.31 164.13,368.63 162.81,369.95 161.49,368.63" fill="#fff" stroke="#777" stroke-width="0.6"/>
<polygon points="170.47,369.38 171.79,370.70 170.47,372.02 169.15,370.70" fill="#fff" stroke="#777" stroke-width="0.6"/>
<circle cx="45.40" cy="334.14" r="1.1" fill="#2a2e3a"/>
<circle cx="75.81" cy="333.78" r="1.1" fill="#2a2e3a"/>
<circle cx="88.90" cy="330.56" r="1.1" fill="#2a2e3a"/>
<circle cx="119.31" cy="335.88" r="1.1" fill="#2a2e3a"/>
<circle cx="132.40" cy="339.82" r="1.1" fill="#2a2e3a"/>
<circle cx="149.71" cy="354.17" r="1.1" fill="#2a2e3a"/>
<circle cx="162.81" cy="365.32" r="1.1" fill="#2a2e3a"/>
<circle cx="170.47" cy="369.03" r="1.1" fill="#2a2e3a"/>
<line x1="190.50" y1="308.10" x2="204.50" y2="308.10" stroke="#4f7d63" stroke-width="1.15"/>
<polygon points="186.60,306.90 189.60,306.90 188.10,309.45" fill="#222"/>
<text x="207.60" y="310.80" font-size="7.7" textLength="38.4" lengthAdjust="spacingAndGlyphs" fill="#231f20">MHH-CALL3</text>
<line x1="190.50" y1="318.05" x2="204.50" y2="318.05" stroke="#8cc4ea" stroke-width="1.15"/>
<polygon points="188.10,316.25 189.90,318.05 188.10,319.85 186.30,318.05" fill="#fff" stroke="#3a5d8c" stroke-width="0.6"/>
<text x="207.60" y="320.75" font-size="7.7" textLength="27.4" lengthAdjust="spacingAndGlyphs" fill="#231f20">SUP-B15</text>
<line x1="190.50" y1="328.00" x2="204.50" y2="328.00" stroke="#6e3d96" stroke-width="1.15"/>
<circle cx="188.10" cy="328.00" r="1.5" fill="#3c1458"/>
<text x="207.60" y="330.70" font-size="7.7" textLength="33.7" lengthAdjust="spacingAndGlyphs" fill="#231f20">XT-ALL114</text>
<line x1="190.50" y1="337.95" x2="204.50" y2="337.95" stroke="#c8274f" stroke-width="1.15"/>
<circle cx="188.10" cy="337.95" r="1.5" fill="#5a0c1c"/>
<text x="207.60" y="340.65" font-size="7.7" textLength="13.3" lengthAdjust="spacingAndGlyphs" fill="#231f20">SEM</text>
<line x1="190.50" y1="347.90" x2="204.50" y2="347.90" stroke="#f2c84b" stroke-width="1.15"/>
<polygon points="186.60,349.10 189.60,349.10 188.10,346.55" fill="#444"/>
<text x="207.60" y="350.60" font-size="7.7" textLength="23.5" lengthAdjust="spacingAndGlyphs" fill="#231f20">MV4-11</text>
<line x1="190.50" y1="357.85" x2="204.50" y2="357.85" stroke="#8cc978" stroke-width="1.15"/>
<polygon points="186.60,356.65 189.60,356.65 188.10,359.20" fill="#333"/>
<text x="207.60" y="360.55" font-size="7.7" textLength="11.7" lengthAdjust="spacingAndGlyphs" fill="#231f20">697</text>
<line x1="190.50" y1="367.80" x2="204.50" y2="367.80" stroke="#e84d9f" stroke-width="1.15"/>
<rect x="186.75" y="366.45" width="2.70" height="2.70" fill="#5a1038"/>
<text x="207.60" y="370.50" font-size="7.7" textLength="12.7" lengthAdjust="spacingAndGlyphs" fill="#231f20">REH</text>
<line x1="190.50" y1="377.75" x2="204.50" y2="377.75" stroke="#3c5fa6" stroke-width="1.15"/>
<rect x="186.75" y="376.40" width="2.70" height="2.70" fill="#16254a"/>
<text x="207.60" y="380.45" font-size="7.7" textLength="25.2" lengthAdjust="spacingAndGlyphs" fill="#231f20">NALM-6</text>
<line x1="190.50" y1="387.70" x2="204.50" y2="387.70" stroke="#9c8466" stroke-width="1.15"/>
<polygon points="186.60,388.90 189.60,388.90 188.10,386.35" fill="#222"/>
<text x="207.60" y="390.40" font-size="7.7" textLength="41.8" lengthAdjust="spacingAndGlyphs" fill="#231f20">XT-ALL22089</text>
<line x1="190.50" y1="397.65" x2="204.50" y2="397.65" stroke="#d4d4d4" stroke-width="1.15"/>
<polygon points="188.10,395.85 189.90,397.65 188.10,399.45 186.30,397.65" fill="#fff" stroke="#777" stroke-width="0.6"/>
<text x="207.60" y="400.35" font-size="7.7" textLength="38.4" lengthAdjust="spacingAndGlyphs" fill="#231f20">MHH-CALL2</text>
<line x1="190.50" y1="407.60" x2="204.50" y2="407.60" stroke="#8a93aa" stroke-width="1.15"/>
<circle cx="188.10" cy="407.60" r="1.5" fill="#2a2e3a"/>
<text x="207.60" y="410.30" font-size="7.7" textLength="21.8" lengthAdjust="spacingAndGlyphs" fill="#231f20">HUVEC</text>
<text x="257.90" y="304.00" font-size="10.6" fill="#231f20">G</text>
<line x1="291.10" y1="314.20" x2="291.10" y2="418.70" stroke="#000" stroke-width="1.1"/>
<line x1="291.00" y1="418.20" x2="437.90" y2="418.20" stroke="#000" stroke-width="1.2"/>
<line x1="287.60" y1="418.20" x2="291.10" y2="418.20" stroke="#000" stroke-width="0.9"/>
<text x="285.50" y="420.80" font-size="7.4" text-anchor="end" fill="#231f20">0</text>
<line x1="287.60" y1="402.20" x2="291.10" y2="402.20" stroke="#000" stroke-width="0.9"/>
<text x="285.50" y="404.80" font-size="7.4" text-anchor="end" fill="#231f20">20</text>
<line x1="287.60" y1="386.20" x2="291.10" y2="386.20" stroke="#000" stroke-width="0.9"/>
<text x="285.50" y="388.80" font-size="7.4" text-anchor="end" fill="#231f20">40</text>
<line x1="287.60" y1="370.20" x2="291.10" y2="370.20" stroke="#000" stroke-width="0.9"/>
<text x="285.50" y="372.80" font-size="7.4" text-anchor="end" fill="#231f20">60</text>
<line x1="287.60" y1="354.20" x2="291.10" y2="354.20" stroke="#000" stroke-width="0.9"/>
<text x="285.50" y="356.80" font-size="7.4" text-anchor="end" fill="#231f20">80</text>
<line x1="287.60" y1="338.20" x2="291.10" y2="338.20" stroke="#000" stroke-width="0.9"/>
<text x="285.50" y="340.80" font-size="7.4" text-anchor="end" fill="#231f20">100</text>
<line x1="287.60" y1="322.20" x2="291.10" y2="322.20" stroke="#000" stroke-width="0.9"/>
<text x="285.50" y="324.80" font-size="7.4" text-anchor="end" fill="#231f20">120</text>
<line x1="295.20" y1="418.20" x2="295.20" y2="421.00" stroke="#000" stroke-width="0.9"/>
<text x="295.20" y="431.20" font-size="7.0" text-anchor="middle" fill="#231f20">0.001</text>
<line x1="330.10" y1="418.20" x2="330.10" y2="421.00" stroke="#000" stroke-width="0.9"/>
<text x="330.10" y="431.20" font-size="7.0" text-anchor="middle" fill="#231f20">0.01</text>
<line x1="365.00" y1="418.20" x2="365.00" y2="421.00" stroke="#000" stroke-width="0.9"/>
<text x="365.00" y="431.20" font-size="7.0" text-anchor="middle" fill="#231f20">0.1</text>
<line x1="399.90" y1="418.20" x2="399.90" y2="421.00" stroke="#000" stroke-width="0.9"/>
<text x="399.90" y="431.20" font-size="7.0" text-anchor="middle" fill="#231f20">1</text>
<line x1="434.80" y1="418.20" x2="434.80" y2="421.00" stroke="#000" stroke-width="0.9"/>
<text x="434.80" y="431.20" font-size="7.0" text-anchor="middle" fill="#231f20">10</text>
<text x="364.60" y="444.70" font-size="8.9" text-anchor="middle" textLength="52.3" lengthAdjust="spacingAndGlyphs" fill="#231f20">PKC412 (μM)</text>
<text x="266.50" y="366.00" font-size="9.3" text-anchor="middle" textLength="99.0" lengthAdjust="spacingAndGlyphs" transform="rotate(-90 266.50 366.00)" fill="#231f20">Relative proliferation (%)</text>
<clipPath id="cg"><rect x="291.5" y="300" width="148.5" height="125"/></clipPath>
<path d="M295.2 329.2V336.3M294.3 329.2h1.8M294.3 336.3h1.8" stroke="#a0a0a0" stroke-width="0.5" fill="none"/>
<path d="M319.6 331.3V341.4M318.7 331.3h1.8M318.7 341.4h1.8" stroke="#a0a0a0" stroke-width="0.5" fill="none"/>
<path d="M330.1 336.3V344.6M329.2 336.3h1.8M329.2 344.6h1.8" stroke="#a0a0a0" stroke-width="0.5" fill="none"/>
<path d="M354.5 357.4V368.0M353.6 357.4h1.8M353.6 368.0h1.8" stroke="#a0a0a0" stroke-width="0.5" fill="none"/>
<path d="M365.0 371.9V382.7M364.1 371.9h1.8M364.1 382.7h1.8" stroke="#a0a0a0" stroke-width="0.5" fill="none"/>
<path d="M389.4 402.3V407.7M388.5 402.3h1.8M388.5 407.7h1.8" stroke="#a0a0a0" stroke-width="0.5" fill="none"/>
<path d="M399.9 408.6V413.5M399.0 408.6h1.8M399.0 413.5h1.8" stroke="#a0a0a0" stroke-width="0.5" fill="none"/>
<path d="M424.3 410.3V423.1M423.4 410.3h1.8M423.4 423.1h1.8" stroke="#a0a0a0" stroke-width="0.5" fill="none"/>
<path d="M295.2 337.6V344.9M294.3 337.6h1.8M294.3 344.9h1.8" stroke="#a0a0a0" stroke-width="0.5" fill="none"/>
<path d="M319.6 340.3V347.3M318.7 340.3h1.8M318.7 347.3h1.8" stroke="#a0a0a0" stroke-width="0.5" fill="none"/>
<path d="M330.1 339.8V354.1M329.2 339.8h1.8M329.2 354.1h1.8" stroke="#a0a0a0" stroke-width="0.5" fill="none"/>
<path d="M354.5 361.2V370.5M353.6 361.2h1.8M353.6 370.5h1.8" stroke="#a0a0a0" stroke-width="0.5" fill="none"/>
<path d="M365.0 373.0V385.8M364.1 373.0h1.8M364.1 385.8h1.8" stroke="#a0a0a0" stroke-width="0.5" fill="none"/>
<path d="M389.4 401.4V410.8M388.5 401.4h1.8M388.5 410.8h1.8" stroke="#a0a0a0" stroke-width="0.5" fill="none"/>
<path d="M399.9 406.4V417.3M399.0 406.4h1.8M399.0 417.3h1.8" stroke="#a0a0a0" stroke-width="0.5" fill="none"/>
<path d="M424.3 413.8V420.1M423.4 413.8h1.8M423.4 420.1h1.8" stroke="#a0a0a0" stroke-width="0.5" fill="none"/>
<path d="M295.2 324.8V335.6M294.3 324.8h1.8M294.3 335.6h1.8" stroke="#a0a0a0" stroke-width="0.5" fill="none"/>
<path d="M319.6 323.6V336.8M318.7 323.6h1.8M318.7 336.8h1.8" stroke="#a0a0a0" stroke-width="0.5" fill="none"/>
<path d="M330.1 325.3V335.1M329.2 325.3h1.8M329.2 335.1h1.8" stroke="#a0a0a0" stroke-width="0.5" fill="none"/>
<path d="M354.5 324.3V336.2M353.6 324.3h1.8M353.6 336.2h1.8" stroke="#a0a0a0" stroke-width="0.5" fill="none"/>
<path d="M365.0 325.2V336.4M364.1 325.2h1.8M364.1 336.4h1.8" stroke="#a0a0a0" stroke-width="0.5" fill="none"/>
<path d="M389.4 384.5V389.9M388.5 384.5h1.8M388.5 389.9h1.8" stroke="#a0a0a0" stroke-width="0.5" fill="none"/>
<path d="M399.9 408.1V420.2M399.0 408.1h1.8M399.0 420.2h1.8" stroke="#a0a0a0" stroke-width="0.5" fill="none"/>
<path d="M424.3 412.9V423.4M423.4 412.9h1.8M423.4 423.4h1.8" stroke="#a0a0a0" stroke-width="0.5" fill="none"/>
<path d="M295.2 329.6V337.2M294.3 329.6h1.8M294.3 337.2h1.8" stroke="#a0a0a0" stroke-width="0.5" fill="none"/>
<path d="M319.6 330.9V335.9M318.7 330.9h1.8M318.7 335.9h1.8" stroke="#a0a0a0" stroke-width="0.5" fill="none"/>
<path d="M330.1 326.8V340.0M329.2 326.8h1.8M329.2 340.0h1.8" stroke="#a0a0a0" stroke-width="0.5" fill="none"/>
<path d="M354.5 328.8V338.1M353.6 328.8h1.8M353.6 338.1h1.8" stroke="#a0a0a0" stroke-width="0.5" fill="none"/>
<path d="M365.0 328.1V339.8M364.1 328.1h1.8M364.1 339.8h1.8" stroke="#a0a0a0" stroke-width="0.5" fill="none"/>
<path d="M389.4 363.2V376.4M388.5 363.2h1.8M388.5 376.4h1.8" stroke="#a0a0a0" stroke-width="0.5" fill="none"/>
<path d="M399.9 400.3V411.9M399.0 400.3h1.8M399.0 411.9h1.8" stroke="#a0a0a0" stroke-width="0.5" fill="none"/>
<path d="M424.3 411.3V424.9M423.4 411.3h1.8M423.4 424.9h1.8" stroke="#a0a0a0" stroke-width="0.5" fill="none"/>
<path d="M295.2 330.7V339.3M294.3 330.7h1.8M294.3 339.3h1.8" stroke="#a0a0a0" stroke-width="0.5" fill="none"/>
<path d="M319.6 328.8V341.3M318.7 328.8h1.8M318.7 341.3h1.8" stroke="#a0a0a0" stroke-width="0.5" fill="none"/>
<path d="M330.1 330.7V339.7M329.2 330.7h1.8M329.2 339.7h1.8" stroke="#a0a0a0" stroke-width="0.5" fill="none"/>
<path d="M354.5 329.7V343.5M353.6 329.7h1.8M353.6 343.5h1.8" stroke="#a0a0a0" stroke-width="0.5" fill="none"/>
<path d="M365.0 332.3V345.5M364.1 332.3h1.8M364.1 345.5h1.8" stroke="#a0a0a0" stroke-width="0.5" fill="none"/>
<path d="M389.4 355.4V361.1M388.5 355.4h1.8M388.5 361.1h1.8" stroke="#a0a0a0" stroke-width="0.5" fill="none"/>
<path d="M399.9 371.6V377.7M399.0 371.6h1.8M399.0 377.7h1.8" stroke="#a0a0a0" stroke-width="0.5" fill="none"/>
<path d="M424.3 400.4V407.3M423.4 400.4h1.8M423.4 407.3h1.8" stroke="#a0a0a0" stroke-width="0.5" fill="none"/>
<path d="M295.2 320.8V334.8M294.3 320.8h1.8M294.3 334.8h1.8" stroke="#a0a0a0" stroke-width="0.5" fill="none"/>
<path d="M319.6 323.3V332.3M318.7 323.3h1.8M318.7 332.3h1.8" stroke="#a0a0a0" stroke-width="0.5" fill="none"/>
<path d="M330.1 322.5V333.3M329.2 322.5h1.8M329.2 333.3h1.8" stroke="#a0a0a0" stroke-width="0.5" fill="none"/>
<path d="M354.5 324.6V332.3M353.6 324.6h1.8M353.6 332.3h1.8" stroke="#a0a0a0" stroke-width="0.5" fill="none"/>
<path d="M365.0 324.8V334.4M364.1 324.8h1.8M364.1 334.4h1.8" stroke="#a0a0a0" stroke-width="0.5" fill="none"/>
<path d="M389.4 340.2V348.7M388.5 340.2h1.8M388.5 348.7h1.8" stroke="#a0a0a0" stroke-width="0.5" fill="none"/>
<path d="M399.9 358.5V366.7M399.0 358.5h1.8M399.0 366.7h1.8" stroke="#a0a0a0" stroke-width="0.5" fill="none"/>
<path d="M424.3 398.9V409.3M423.4 398.9h1.8M423.4 409.3h1.8" stroke="#a0a0a0" stroke-width="0.5" fill="none"/>
<path d="M295.2 333.2V343.6M294.3 333.2h1.8M294.3 343.6h1.8" stroke="#a0a0a0" stroke-width="0.5" fill="none"/>
<path d="M319.6 332.2V345.6M318.7 332.2h1.8M318.7 345.6h1.8" stroke="#a0a0a0" stroke-width="0.5" fill="none"/>
<path d="M330.1 333.7V345.1M329.2 333.7h1.8M329.2 345.1h1.8" stroke="#a0a0a0" stroke-width="0.5" fill="none"/>
<path d="M354.5 335.6V349.3M353.6 335.6h1.8M353.6 349.3h1.8" stroke="#a0a0a0" stroke-width="0.5" fill="none"/>
<path d="M365.0 338.8V351.8M364.1 338.8h1.8M364.1 351.8h1.8" stroke="#a0a0a0" stroke-width="0.5" fill="none"/>
<path d="M389.4 351.4V365.7M388.5 351.4h1.8M388.5 365.7h1.8" stroke="#a0a0a0" stroke-width="0.5" fill="none"/>
<path d="M399.9 361.9V373.1M399.0 361.9h1.8M399.0 373.1h1.8" stroke="#a0a0a0" stroke-width="0.5" fill="none"/>
<path d="M424.3 386.4V392.7M423.4 386.4h1.8M423.4 392.7h1.8" stroke="#a0a0a0" stroke-width="0.5" fill="none"/>
<path d="M295.2 334.9V347.9M294.3 334.9h1.8M294.3 347.9h1.8" stroke="#a0a0a0" stroke-width="0.5" fill="none"/>
<path d="M319.6 334.4V348.5M318.7 334.4h1.8M318.7 348.5h1.8" stroke="#a0a0a0" stroke-width="0.5" fill="none"/>
<path d="M330.1 334.8V348.3M329.2 334.8h1.8M329.2 348.3h1.8" stroke="#a0a0a0" stroke-width="0.5" fill="none"/>
<path d="M354.5 337.4V347.7M353.6 337.4h1.8M353.6 347.7h1.8" stroke="#a0a0a0" stroke-width="0.5" fill="none"/>
<path d="M365.0 338.1V349.7M364.1 338.1h1.8M364.1 349.7h1.8" stroke="#a0a0a0" stroke-width="0.5" fill="none"/>
<path d="M389.4 352.4V359.3M388.5 352.4h1.8M388.5 359.3h1.8" stroke="#a0a0a0" stroke-width="0.5" fill="none"/>
<path d="M399.9 361.4V374.2M399.0 361.4h1.8M399.0 374.2h1.8" stroke="#a0a0a0" stroke-width="0.5" fill="none"/>
<path d="M424.3 394.3V404.6M423.4 394.3h1.8M423.4 404.6h1.8" stroke="#a0a0a0" stroke-width="0.5" fill="none"/>
<path d="M295.2 338.5V346.0M294.3 338.5h1.8M294.3 346.0h1.8" stroke="#a0a0a0" stroke-width="0.5" fill="none"/>
<path d="M319.6 339.6V345.1M318.7 339.6h1.8M318.7 345.1h1.8" stroke="#a0a0a0" stroke-width="0.5" fill="none"/>
<path d="M330.1 336.0V349.0M329.2 336.0h1.8M329.2 349.0h1.8" stroke="#a0a0a0" stroke-width="0.5" fill="none"/>
<path d="M354.5 336.2V350.5M353.6 336.2h1.8M353.6 350.5h1.8" stroke="#a0a0a0" stroke-width="0.5" fill="none"/>
<path d="M365.0 341.6V347.2M364.1 341.6h1.8M364.1 347.2h1.8" stroke="#a0a0a0" stroke-width="0.5" fill="none"/>
<path d="M389.4 344.5V356.9M388.5 344.5h1.8M388.5 356.9h1.8" stroke="#a0a0a0" stroke-width="0.5" fill="none"/>
<path d="M399.9 352.3V361.0M399.0 352.3h1.8M399.0 361.0h1.8" stroke="#a0a0a0" stroke-width="0.5" fill="none"/>
<path d="M424.3 377.1V383.3M423.4 377.1h1.8M423.4 383.3h1.8" stroke="#a0a0a0" stroke-width="0.5" fill="none"/>
<path d="M295.2 331.7V339.3M294.3 331.7h1.8M294.3 339.3h1.8" stroke="#a0a0a0" stroke-width="0.5" fill="none"/>
<path d="M319.6 330.0V342.2M318.7 330.0h1.8M318.7 342.2h1.8" stroke="#a0a0a0" stroke-width="0.5" fill="none"/>
<path d="M330.1 329.9V343.1M329.2 329.9h1.8M329.2 343.1h1.8" stroke="#a0a0a0" stroke-width="0.5" fill="none"/>
<path d="M354.5 335.6V340.8M353.6 335.6h1.8M353.6 340.8h1.8" stroke="#a0a0a0" stroke-width="0.5" fill="none"/>
<path d="M365.0 334.0V344.7M364.1 334.0h1.8M364.1 344.7h1.8" stroke="#a0a0a0" stroke-width="0.5" fill="none"/>
<path d="M389.4 340.8V346.1M388.5 340.8h1.8M388.5 346.1h1.8" stroke="#a0a0a0" stroke-width="0.5" fill="none"/>
<path d="M399.9 340.0V351.7M399.0 340.0h1.8M399.0 351.7h1.8" stroke="#a0a0a0" stroke-width="0.5" fill="none"/>
<path d="M424.3 348.6V356.6M423.4 348.6h1.8M423.4 356.6h1.8" stroke="#a0a0a0" stroke-width="0.5" fill="none"/>
<polyline points="295.20,332.75 297.35,332.89 299.50,333.06 301.65,333.25 303.81,333.46 305.96,333.71 308.11,333.99 310.26,334.32 312.41,334.69 314.56,335.11 316.72,335.60 318.87,336.15 321.02,336.77 323.17,337.48 325.32,338.28 327.47,339.18 329.63,340.20 331.78,341.34 333.93,342.61 336.08,344.03 338.23,345.59 340.38,347.32 342.53,349.21 344.69,351.27 346.84,353.49 348.99,355.88 351.14,358.42 353.29,361.10 355.44,363.91 357.60,366.82 359.75,369.81 361.90,372.86 364.05,375.92 366.20,378.98 368.35,381.99 370.50,384.94 372.66,387.79 374.81,390.53 376.96,393.13 379.11,395.58 381.26,397.87 383.41,399.99 385.57,401.95 387.72,403.74 389.87,405.37 392.02,406.84 394.17,408.17 396.32,409.36 398.48,410.43 400.63,411.37 402.78,412.21 404.93,412.96 407.08,413.62 409.23,414.19 411.38,414.70 413.54,415.15 415.69,415.54 417.84,415.88 419.99,416.18 422.14,416.44 424.29,416.67" fill="none" stroke="#c8274f" stroke-width="1.0" clip-path="url(#cg)"/>
<polyline points="295.20,341.21 297.35,341.31 299.50,341.42 301.65,341.55 303.81,341.70 305.96,341.88 308.11,342.08 310.26,342.31 312.41,342.58 314.56,342.89 316.72,343.24 318.87,343.65 321.02,344.12 323.17,344.66 325.32,345.27 327.47,345.97 329.63,346.76 331.78,347.66 333.93,348.68 336.08,349.82 338.23,351.10 340.38,352.53 342.53,354.12 344.69,355.86 346.84,357.77 348.99,359.85 351.14,362.08 353.29,364.47 355.44,367.01 357.60,369.66 359.75,372.42 361.90,375.25 364.05,378.12 366.20,381.01 368.35,383.89 370.50,386.71 372.66,389.46 374.81,392.10 376.96,394.61 379.11,396.99 381.26,399.20 383.41,401.26 385.57,403.15 387.72,404.88 389.87,406.44 392.02,407.85 394.17,409.12 396.32,410.25 398.48,411.25 400.63,412.14 402.78,412.92 404.93,413.61 407.08,414.21 409.23,414.74 411.38,415.20 413.54,415.60 415.69,415.95 417.84,416.25 419.99,416.52 422.14,416.75 424.29,416.94" fill="none" stroke="#f2c84b" stroke-width="1.0" clip-path="url(#cg)"/>
<polyline points="295.20,330.20 297.35,330.20 299.50,330.20 301.65,330.20 303.81,330.20 305.96,330.20 308.11,330.20 310.26,330.20 312.41,330.20 314.56,330.20 316.72,330.20 318.87,330.20 321.02,330.20 323.17,330.20 325.32,330.20 327.47,330.20 329.63,330.20 331.78,330.20 333.93,330.20 336.08,330.20 338.23,330.20 340.38,330.20 342.53,330.20 344.69,330.21 346.84,330.21 348.99,330.21 351.14,330.22 353.29,330.24 355.44,330.26 357.60,330.30 359.75,330.37 361.90,330.48 364.05,330.66 366.20,330.96 368.35,331.44 370.50,332.22 372.66,333.47 374.81,335.45 376.96,338.51 379.11,343.07 381.26,349.53 383.41,358.04 385.57,368.21 387.72,379.09 389.87,389.39 392.02,398.09 394.17,404.76 396.32,409.50 398.48,412.70 400.63,414.77 402.78,416.08 404.93,416.90 407.08,417.40 409.23,417.71 411.38,417.90 413.54,418.02 415.69,418.09 417.84,418.13 419.99,418.16 422.14,418.18 424.29,418.18" fill="none" stroke="#8cc978" stroke-width="1.0" clip-path="url(#cg)"/>
<polyline points="295.20,333.40 297.35,333.40 299.50,333.40 301.65,333.40 303.81,333.40 305.96,333.40 308.11,333.40 310.26,333.40 312.41,333.40 314.56,333.40 316.72,333.40 318.87,333.40 321.02,333.40 323.17,333.40 325.32,333.40 327.47,333.40 329.63,333.40 331.78,333.40 333.93,333.40 336.08,333.40 338.23,333.40 340.38,333.40 342.53,333.41 344.69,333.41 346.84,333.41 348.99,333.42 351.14,333.43 353.29,333.45 355.44,333.48 357.60,333.52 359.75,333.58 361.90,333.67 364.05,333.82 366.20,334.04 368.35,334.38 370.50,334.89 372.66,335.66 374.81,336.81 376.96,338.51 379.11,340.98 381.26,344.48 383.41,349.26 385.57,355.49 387.72,363.10 389.87,371.74 392.02,380.74 394.17,389.30 396.32,396.79 398.48,402.88 400.63,407.52 402.78,410.91 404.93,413.29 407.08,414.93 409.23,416.03 411.38,416.77 413.54,417.26 415.69,417.58 417.84,417.80 419.99,417.94 422.14,418.03 424.29,418.09" fill="none" stroke="#4f7d63" stroke-width="1.0" clip-path="url(#cg)"/>
<polyline points="295.20,335.01 297.35,335.01 299.50,335.01 301.65,335.02 303.81,335.02 305.96,335.03 308.11,335.03 310.26,335.04 312.41,335.05 314.56,335.05 316.72,335.07 318.87,335.08 321.02,335.09 323.17,335.11 325.32,335.14 327.47,335.16 329.63,335.20 331.78,335.24 333.93,335.29 336.08,335.34 338.23,335.41 340.38,335.49 342.53,335.59 344.69,335.71 346.84,335.86 348.99,336.03 351.14,336.23 353.29,336.48 355.44,336.77 357.60,337.12 359.75,337.54 361.90,338.03 364.05,338.61 366.20,339.31 368.35,340.12 370.50,341.08 372.66,342.19 374.81,343.49 376.96,344.98 379.11,346.70 381.26,348.65 383.41,350.84 385.57,353.29 387.72,355.99 389.87,358.91 392.02,362.05 394.17,365.37 396.32,368.81 398.48,372.33 400.63,375.87 402.78,379.37 404.93,382.77 407.08,386.02 409.23,389.08 411.38,391.92 413.54,394.51 415.69,396.86 417.84,398.96 419.99,400.81 422.14,402.44 424.29,403.85" fill="none" stroke="#3c5fa6" stroke-width="1.0" clip-path="url(#cg)"/>
<polyline points="295.20,327.80 297.35,327.80 299.50,327.80 301.65,327.80 303.81,327.80 305.96,327.81 308.11,327.81 310.26,327.81 312.41,327.81 314.56,327.81 316.72,327.82 318.87,327.82 321.02,327.82 323.17,327.83 325.32,327.84 327.47,327.84 329.63,327.86 331.78,327.87 333.93,327.89 336.08,327.91 338.23,327.93 340.38,327.96 342.53,328.00 344.69,328.05 346.84,328.10 348.99,328.18 351.14,328.27 353.29,328.37 355.44,328.51 357.60,328.68 359.75,328.88 361.90,329.14 364.05,329.45 366.20,329.83 368.35,330.29 370.50,330.87 372.66,331.56 374.81,332.41 376.96,333.43 379.11,334.66 381.26,336.13 383.41,337.87 385.57,339.93 387.72,342.32 389.87,345.08 392.02,348.21 394.17,351.72 396.32,355.57 398.48,359.72 400.63,364.11 402.78,368.65 404.93,373.25 407.08,377.79 409.23,382.19 411.38,386.35 413.54,390.21 415.69,393.72 417.84,396.86 419.99,399.62 422.14,402.02 424.29,404.09" fill="none" stroke="#6e3d96" stroke-width="1.0" clip-path="url(#cg)"/>
<polyline points="295.20,338.40 297.35,338.42 299.50,338.45 301.65,338.48 303.81,338.51 305.96,338.55 308.11,338.59 310.26,338.63 312.41,338.68 314.56,338.74 316.72,338.81 318.87,338.88 321.02,338.96 323.17,339.05 325.32,339.15 327.47,339.27 329.63,339.39 331.78,339.53 333.93,339.69 336.08,339.86 338.23,340.06 340.38,340.28 342.53,340.52 344.69,340.79 346.84,341.08 348.99,341.42 351.14,341.78 353.29,342.19 355.44,342.64 357.60,343.14 359.75,343.69 361.90,344.29 364.05,344.95 366.20,345.68 368.35,346.48 370.50,347.35 372.66,348.29 374.81,349.32 376.96,350.43 379.11,351.62 381.26,352.91 383.41,354.28 385.57,355.75 387.72,357.30 389.87,358.93 392.02,360.65 394.17,362.44 396.32,364.30 398.48,366.21 400.63,368.18 402.78,370.18 404.93,372.21 407.08,374.25 409.23,376.30 411.38,378.32 413.54,380.33 415.69,382.29 417.84,384.21 419.99,386.06 422.14,387.85 424.29,389.56" fill="none" stroke="#d4d4d4" stroke-width="1.0" clip-path="url(#cg)"/>
<polyline points="295.20,341.41 297.35,341.41 299.50,341.41 301.65,341.42 303.81,341.42 305.96,341.42 308.11,341.43 310.26,341.43 312.41,341.44 314.56,341.45 316.72,341.46 318.87,341.47 321.02,341.48 323.17,341.50 325.32,341.51 327.47,341.53 329.63,341.56 331.78,341.59 333.93,341.62 336.08,341.66 338.23,341.71 340.38,341.77 342.53,341.84 344.69,341.92 346.84,342.02 348.99,342.13 351.14,342.26 353.29,342.42 355.44,342.61 357.60,342.83 359.75,343.08 361.90,343.39 364.05,343.75 366.20,344.16 368.35,344.66 370.50,345.23 372.66,345.90 374.81,346.67 376.96,347.57 379.11,348.60 381.26,349.78 383.41,351.13 385.57,352.66 387.72,354.37 389.87,356.29 392.02,358.41 394.17,360.73 396.32,363.24 398.48,365.93 400.63,368.77 402.78,371.74 404.93,374.79 407.08,377.88 409.23,380.98 411.38,384.02 413.54,386.98 415.69,389.82 417.84,392.50 419.99,395.00 422.14,397.31 424.29,399.42" fill="none" stroke="#9c8466" stroke-width="1.0" clip-path="url(#cg)"/>
<polyline points="295.20,342.24 297.35,342.24 299.50,342.25 301.65,342.25 303.81,342.26 305.96,342.27 308.11,342.28 310.26,342.29 312.41,342.30 314.56,342.31 316.72,342.33 318.87,342.34 321.02,342.36 323.17,342.39 325.32,342.41 327.47,342.44 329.63,342.47 331.78,342.51 333.93,342.55 336.08,342.60 338.23,342.66 340.38,342.72 342.53,342.79 344.69,342.87 346.84,342.96 348.99,343.06 351.14,343.17 353.29,343.31 355.44,343.45 357.60,343.62 359.75,343.81 361.90,344.02 364.05,344.27 366.20,344.54 368.35,344.85 370.50,345.19 372.66,345.58 374.81,346.02 376.96,346.51 379.11,347.06 381.26,347.68 383.41,348.36 385.57,349.13 387.72,349.98 389.87,350.91 392.02,351.95 394.17,353.09 396.32,354.33 398.48,355.69 400.63,357.17 402.78,358.77 404.93,360.48 407.08,362.31 409.23,364.26 411.38,366.31 413.54,368.46 415.69,370.70 417.84,373.01 419.99,375.37 422.14,377.78 424.29,380.20" fill="none" stroke="#e84d9f" stroke-width="1.0" clip-path="url(#cg)"/>
<polyline points="295.20,335.49 297.35,335.53 299.50,335.56 301.65,335.61 303.81,335.65 305.96,335.70 308.11,335.75 310.26,335.80 312.41,335.86 314.56,335.92 316.72,335.98 318.87,336.05 321.02,336.13 323.17,336.21 325.32,336.30 327.47,336.39 329.63,336.48 331.78,336.59 333.93,336.70 336.08,336.82 338.23,336.94 340.38,337.08 342.53,337.22 344.69,337.38 346.84,337.54 348.99,337.71 351.14,337.89 353.29,338.09 355.44,338.29 357.60,338.51 359.75,338.74 361.90,338.99 364.05,339.24 366.20,339.52 368.35,339.80 370.50,340.10 372.66,340.42 374.81,340.75 376.96,341.10 379.11,341.47 381.26,341.85 383.41,342.25 385.57,342.67 387.72,343.11 389.87,343.56 392.02,344.03 394.17,344.51 396.32,345.01 398.48,345.53 400.63,346.06 402.78,346.60 404.93,347.16 407.08,347.73 409.23,348.32 411.38,348.91 413.54,349.51 415.69,350.12 417.84,350.73 419.99,351.35 422.14,351.98 424.29,352.60" fill="none" stroke="#8cc4ea" stroke-width="1.0" clip-path="url(#cg)"/>
<circle cx="295.20" cy="330.31" r="1.1" fill="#5a0c1c"/>
<circle cx="319.59" cy="333.27" r="1.1" fill="#5a0c1c"/>
<circle cx="330.10" cy="340.41" r="1.1" fill="#5a0c1c"/>
<circle cx="354.49" cy="359.47" r="1.1" fill="#5a0c1c"/>
<circle cx="365.00" cy="378.49" r="1.1" fill="#5a0c1c"/>
<circle cx="389.39" cy="407.73" r="1.1" fill="#5a0c1c"/>
<circle cx="399.90" cy="410.43" r="1.1" fill="#5a0c1c"/>
<circle cx="424.29" cy="419.67" r="1.1" fill="#5a0c1c"/>
<polygon points="294.10,344.03 296.30,344.03 295.20,342.16" fill="#444"/>
<polygon points="318.49,345.27 320.69,345.27 319.59,343.40" fill="#444"/>
<polygon points="329.00,347.12 331.20,347.12 330.10,345.25" fill="#444"/>
<polygon points="353.39,368.95 355.59,368.95 354.49,367.08" fill="#444"/>
<polygon points="363.90,383.21 366.10,383.21 365.00,381.34" fill="#444"/>
<polygon points="388.29,404.64 390.49,404.64 389.39,402.77" fill="#444"/>
<polygon points="398.80,413.92 401.00,413.92 399.90,412.05" fill="#444"/>
<polygon points="423.19,414.89 425.39,414.89 424.29,413.02" fill="#444"/>
<polygon points="294.10,326.78 296.30,326.78 295.20,328.65" fill="#333"/>
<polygon points="318.49,330.10 320.69,330.10 319.59,331.97" fill="#333"/>
<polygon points="329.00,329.57 331.20,329.57 330.10,331.44" fill="#333"/>
<polygon points="353.39,329.24 355.59,329.24 354.49,331.11" fill="#333"/>
<polygon points="363.90,328.97 366.10,328.97 365.00,330.84" fill="#333"/>
<polygon points="388.29,385.73 390.49,385.73 389.39,387.60" fill="#333"/>
<polygon points="398.80,412.91 401.00,412.91 399.90,414.78" fill="#333"/>
<polygon points="423.19,416.54 425.39,416.54 424.29,418.41" fill="#333"/>
<polygon points="294.10,329.70 296.30,329.70 295.20,331.57" fill="#222"/>
<polygon points="318.49,332.48 320.69,332.48 319.59,334.35" fill="#222"/>
<polygon points="329.00,332.96 331.20,332.96 330.10,334.83" fill="#222"/>
<polygon points="353.39,331.17 355.59,331.17 354.49,333.04" fill="#222"/>
<polygon points="363.90,334.71 366.10,334.71 365.00,336.58" fill="#222"/>
<polygon points="388.29,370.17 390.49,370.17 389.39,372.04" fill="#222"/>
<polygon points="398.80,402.17 401.00,402.17 399.90,404.04" fill="#222"/>
<polygon points="423.19,417.07 425.39,417.07 424.29,418.94" fill="#222"/>
<rect x="294.21" y="333.71" width="1.98" height="1.98" fill="#16254a"/>
<rect x="318.60" y="337.22" width="1.98" height="1.98" fill="#16254a"/>
<rect x="329.11" y="334.76" width="1.98" height="1.98" fill="#16254a"/>
<rect x="353.50" y="335.13" width="1.98" height="1.98" fill="#16254a"/>
<rect x="364.01" y="340.99" width="1.98" height="1.98" fill="#16254a"/>
<rect x="388.40" y="356.52" width="1.98" height="1.98" fill="#16254a"/>
<rect x="398.91" y="372.84" width="1.98" height="1.98" fill="#16254a"/>
<rect x="423.30" y="405.68" width="1.98" height="1.98" fill="#16254a"/>
<circle cx="295.20" cy="326.99" r="1.1" fill="#3c1458"/>
<circle cx="319.59" cy="328.04" r="1.1" fill="#3c1458"/>
<circle cx="330.10" cy="326.71" r="1.1" fill="#3c1458"/>
<circle cx="354.49" cy="329.39" r="1.1" fill="#3c1458"/>
<circle cx="365.00" cy="328.28" r="1.1" fill="#3c1458"/>
<circle cx="389.39" cy="342.92" r="1.1" fill="#3c1458"/>
<circle cx="399.90" cy="365.67" r="1.1" fill="#3c1458"/>
<circle cx="424.29" cy="406.90" r="1.1" fill="#3c1458"/>
<polygon points="295.20,335.95 296.52,337.27 295.20,338.59 293.88,337.27" fill="#fff" stroke="#777" stroke-width="0.6"/>
<polygon points="319.59,334.62 320.91,335.94 319.59,337.26 318.27,335.94" fill="#fff" stroke="#777" stroke-width="0.6"/>
<polygon points="330.10,339.69 331.42,341.01 330.10,342.33 328.78,341.01" fill="#fff" stroke="#777" stroke-width="0.6"/>
<polygon points="354.49,341.39 355.81,342.71 354.49,344.03 353.17,342.71" fill="#fff" stroke="#777" stroke-width="0.6"/>
<polygon points="365.00,343.35 366.32,344.67 365.00,345.99 363.68,344.67" fill="#fff" stroke="#777" stroke-width="0.6"/>
<polygon points="389.39,358.39 390.71,359.71 389.39,361.03 388.07,359.71" fill="#fff" stroke="#777" stroke-width="0.6"/>
<polygon points="399.90,367.06 401.22,368.38 399.90,369.70 398.58,368.38" fill="#fff" stroke="#777" stroke-width="0.6"/>
<polygon points="424.29,389.44 425.61,390.76 424.29,392.08 422.97,390.76" fill="#fff" stroke="#777" stroke-width="0.6"/>
<polygon points="294.10,343.13 296.30,343.13 295.20,341.26" fill="#222"/>
<polygon points="318.49,341.74 320.69,341.74 319.59,339.87" fill="#222"/>
<polygon points="329.00,343.72 331.20,343.72 330.10,341.85" fill="#222"/>
<polygon points="353.39,344.19 355.59,344.19 354.49,342.32" fill="#222"/>
<polygon points="363.90,343.06 366.10,343.06 365.00,341.19" fill="#222"/>
<polygon points="388.29,359.76 390.49,359.76 389.39,357.89" fill="#222"/>
<polygon points="398.80,368.24 401.00,368.24 399.90,366.37" fill="#222"/>
<polygon points="423.19,398.79 425.39,398.79 424.29,396.92" fill="#222"/>
<rect x="294.21" y="342.46" width="1.98" height="1.98" fill="#5a1038"/>
<rect x="318.60" y="343.14" width="1.98" height="1.98" fill="#5a1038"/>
<rect x="329.11" y="339.55" width="1.98" height="1.98" fill="#5a1038"/>
<rect x="353.50" y="344.07" width="1.98" height="1.98" fill="#5a1038"/>
<rect x="364.01" y="345.39" width="1.98" height="1.98" fill="#5a1038"/>
<rect x="388.40" y="350.12" width="1.98" height="1.98" fill="#5a1038"/>
<rect x="398.91" y="354.40" width="1.98" height="1.98" fill="#5a1038"/>
<rect x="423.30" y="381.76" width="1.98" height="1.98" fill="#5a1038"/>
<polygon points="295.20,335.31 296.52,336.63 295.20,337.95 293.88,336.63" fill="#fff" stroke="#3a5d8c" stroke-width="0.6"/>
<polygon points="319.59,335.82 320.91,337.14 319.59,338.46 318.27,337.14" fill="#fff" stroke="#3a5d8c" stroke-width="0.6"/>
<polygon points="330.10,333.05 331.42,334.37 330.10,335.69 328.78,334.37" fill="#fff" stroke="#3a5d8c" stroke-width="0.6"/>
<polygon points="354.49,337.27 355.81,338.59 354.49,339.91 353.17,338.59" fill="#fff" stroke="#3a5d8c" stroke-width="0.6"/>
<polygon points="365.00,335.77 366.32,337.09 365.00,338.41 363.68,337.09" fill="#fff" stroke="#3a5d8c" stroke-width="0.6"/>
<polygon points="389.39,344.25 390.71,345.57 389.39,346.89 388.07,345.57" fill="#fff" stroke="#3a5d8c" stroke-width="0.6"/>
<polygon points="399.90,345.60 401.22,346.92 399.90,348.24 398.58,346.92" fill="#fff" stroke="#3a5d8c" stroke-width="0.6"/>
<polygon points="424.29,350.32 425.61,351.64 424.29,352.96 422.97,351.64" fill="#fff" stroke="#3a5d8c" stroke-width="0.6"/>
<line x1="439.80" y1="318.20" x2="453.40" y2="318.20" stroke="#c8274f" stroke-width="1.15"/>
<circle cx="437.30" cy="318.20" r="1.5" fill="#5a0c1c"/>
<text x="456.80" y="320.90" font-size="7.7" textLength="13.3" lengthAdjust="spacingAndGlyphs" fill="#231f20">SEM</text>
<line x1="439.80" y1="328.18" x2="453.40" y2="328.18" stroke="#f2c84b" stroke-width="1.15"/>
<polygon points="435.80,329.38 438.80,329.38 437.30,326.83" fill="#444"/>
<text x="456.80" y="330.88" font-size="7.7" textLength="23.5" lengthAdjust="spacingAndGlyphs" fill="#231f20">MV4-11</text>
<line x1="439.80" y1="338.16" x2="453.40" y2="338.16" stroke="#8cc978" stroke-width="1.15"/>
<polygon points="435.80,336.96 438.80,336.96 437.30,339.51" fill="#333"/>
<text x="456.80" y="340.86" font-size="7.7" textLength="11.7" lengthAdjust="spacingAndGlyphs" fill="#231f20">697</text>
<line x1="439.80" y1="348.14" x2="453.40" y2="348.14" stroke="#4f7d63" stroke-width="1.15"/>
<polygon points="435.80,346.94 438.80,346.94 437.30,349.49" fill="#222"/>
<text x="456.80" y="350.84" font-size="7.7" textLength="38.4" lengthAdjust="spacingAndGlyphs" fill="#231f20">MHH-CALL3</text>
<line x1="439.80" y1="358.12" x2="453.40" y2="358.12" stroke="#3c5fa6" stroke-width="1.15"/>
<rect x="435.95" y="356.77" width="2.70" height="2.70" fill="#16254a"/>
<text x="456.80" y="360.82" font-size="7.7" textLength="25.2" lengthAdjust="spacingAndGlyphs" fill="#231f20">NALM-6</text>
<line x1="439.80" y1="368.10" x2="453.40" y2="368.10" stroke="#6e3d96" stroke-width="1.15"/>
<circle cx="437.30" cy="368.10" r="1.5" fill="#3c1458"/>
<text x="456.80" y="370.80" font-size="7.7" textLength="33.7" lengthAdjust="spacingAndGlyphs" fill="#231f20">XT-ALL114</text>
<line x1="439.80" y1="378.08" x2="453.40" y2="378.08" stroke="#d4d4d4" stroke-width="1.15"/>
<polygon points="437.30,376.28 439.10,378.08 437.30,379.88 435.50,378.08" fill="#fff" stroke="#777" stroke-width="0.6"/>
<text x="456.80" y="380.78" font-size="7.7" textLength="38.4" lengthAdjust="spacingAndGlyphs" fill="#231f20">MHH-CALL2</text>
<line x1="439.80" y1="388.06" x2="453.40" y2="388.06" stroke="#9c8466" stroke-width="1.15"/>
<polygon points="435.80,389.26 438.80,389.26 437.30,386.71" fill="#222"/>
<text x="456.80" y="390.76" font-size="7.7" textLength="41.8" lengthAdjust="spacingAndGlyphs" fill="#231f20">XT-ALL22089</text>
<line x1="439.80" y1="398.04" x2="453.40" y2="398.04" stroke="#e84d9f" stroke-width="1.15"/>
<rect x="435.95" y="396.69" width="2.70" height="2.70" fill="#5a1038"/>
<text x="456.80" y="400.74" font-size="7.7" textLength="12.7" lengthAdjust="spacingAndGlyphs" fill="#231f20">REH</text>
<line x1="439.80" y1="408.02" x2="453.40" y2="408.02" stroke="#8cc4ea" stroke-width="1.15"/>
<polygon points="437.30,406.22 439.10,408.02 437.30,409.82 435.50,408.02" fill="#fff" stroke="#3a5d8c" stroke-width="0.6"/>
<text x="456.80" y="410.72" font-size="7.7" textLength="27.4" lengthAdjust="spacingAndGlyphs" fill="#231f20">SUP-B15</text>
<text x="8.30" y="460.70" font-size="10.6" fill="#231f20">H</text>
<text x="105.40" y="457.40" font-size="6.6" text-anchor="middle" textLength="14.5" lengthAdjust="spacingAndGlyphs" fill="#231f20">SEM</text>
<text x="231.30" y="457.40" font-size="6.6" text-anchor="middle" textLength="24.0" lengthAdjust="spacingAndGlyphs" fill="#231f20">MV4-11</text>
<text x="352.50" y="457.40" font-size="6.6" text-anchor="middle" textLength="39.0" lengthAdjust="spacingAndGlyphs" fill="#231f20">MHH-CALL3</text>
<text x="104.60" y="584.00" font-size="6.6" text-anchor="middle" textLength="36.0" lengthAdjust="spacingAndGlyphs" fill="#231f20">XT-ALL114</text>
<text x="230.50" y="584.00" font-size="6.6" text-anchor="middle" textLength="44.0" lengthAdjust="spacingAndGlyphs" fill="#231f20">XT-ALL22089</text>
<text x="352.50" y="584.00" font-size="6.6" text-anchor="middle" textLength="44.0" lengthAdjust="spacingAndGlyphs" fill="#231f20">XT-ALL22089</text>
<clipPath id="h1"><rect x="59.80" y="463.20" width="94.80" height="70.00"/></clipPath>
<g clip-path="url(#h1)">
<rect x="59.80" y="463.20" width="94.80" height="70.00" fill="#8df0c9"/>
<path d="M123.0 508.9L124.0 509.9L123.0 513.8L121.0 509.9ZM123.0 529.3L124.1 533.2L123.0 533.2L117.7 533.2Z" fill="#2f58f2" stroke="#2f58f2" stroke-width="0.6" stroke-linejoin="round" fill-rule="evenodd"/>
<path d="M123.0 505.9L127.1 509.9L124.6 521.5L127.7 533.2L124.1 533.2L123.0 529.3L117.7 533.2L107.2 533.2L105.6 533.2L107.2 528.8L117.1 521.5L114.9 509.9ZM121.0 509.9L123.0 513.8L124.0 509.9L123.0 508.9Z" fill="#3e6ef4" stroke="#3e6ef4" stroke-width="0.6" stroke-linejoin="round" fill-rule="evenodd"/>
<path d="M123.0 502.8L130.2 509.9L129.1 521.5L131.2 533.2L127.7 533.2L124.6 521.5L127.1 509.9L123.0 505.9L114.9 509.9L117.1 521.5L107.2 528.8L105.6 533.2L101.1 533.2L106.0 521.5L107.2 514.2L108.7 509.9Z" fill="#4e89f7" stroke="#4e89f7" stroke-width="0.6" stroke-linejoin="round" fill-rule="evenodd"/>
<path d="M107.2 497.5L110.2 498.2L123.0 499.8L133.2 509.9L133.6 521.5L134.7 533.2L131.2 533.2L129.1 521.5L130.2 509.9L123.0 502.8L108.7 509.9L107.2 514.2L106.0 521.5L101.1 533.2L96.6 533.2L103.1 521.5L104.9 509.9L106.7 498.2Z" fill="#5da4f8" stroke="#5da4f8" stroke-width="0.6" stroke-linejoin="round" fill-rule="evenodd"/>
<path d="M107.2 491.4L123.0 493.8L126.0 498.2L136.3 509.9L138.1 521.5L138.2 533.2L134.7 533.2L133.6 521.5L133.2 509.9L123.0 499.8L110.2 498.2L107.2 497.5L106.7 498.2L104.9 509.9L103.1 521.5L96.6 533.2L92.1 533.2L100.2 521.5L101.8 509.9L102.2 498.2Z" fill="#69bdf8" stroke="#69bdf8" stroke-width="0.6" stroke-linejoin="round" fill-rule="evenodd"/>
<path d="M107.2 485.6L123.0 484.1L124.4 486.5L132.1 498.2L138.8 508.0L140.0 509.9L144.0 521.5L144.0 533.2L138.8 533.2L138.2 533.2L138.1 521.5L136.3 509.9L126.0 498.2L123.0 493.8L107.2 491.4L102.2 498.2L101.8 509.9L100.2 521.5L92.1 533.2L91.4 533.2L84.5 533.2L91.4 529.8L97.3 521.5L98.7 509.9L97.7 498.2L106.4 486.5Z" fill="#74d5f6" stroke="#74d5f6" stroke-width="0.6" stroke-linejoin="round" fill-rule="evenodd"/>
<path d="M123.0 474.1L124.7 474.9L131.5 486.5L138.3 498.2L138.8 498.9L146.2 509.9L150.2 521.5L150.2 533.2L144.0 533.2L144.0 521.5L140.0 509.9L138.8 508.0L132.1 498.2L124.4 486.5L123.0 484.1L107.2 485.6L106.4 486.5L97.7 498.2L98.7 509.9L97.3 521.5L91.4 529.8L84.5 533.2L76.3 533.2L91.4 525.7L94.4 521.5L95.6 509.9L93.2 498.2L102.3 486.5L107.2 481.1L120.6 474.9ZM73.6 533.2L59.8 533.2L59.8 532.3Z" fill="#7eebf1" stroke="#7eebf1" stroke-width="0.6" stroke-linejoin="round" fill-rule="evenodd"/>
<path d="M123.0 471.1L131.7 474.9L138.5 486.5L138.8 487.0L146.4 498.2L152.4 509.9L154.6 516.4L154.6 521.5L154.6 533.2L150.2 533.2L150.2 521.5L146.2 509.9L138.8 498.9L138.3 498.2L131.5 486.5L124.7 474.9L123.0 474.1L120.6 474.9L107.2 481.1L102.3 486.5L93.2 498.2L95.6 509.9L94.4 521.5L91.4 525.7L76.3 533.2L75.6 533.2L73.6 533.2L59.8 532.3L59.8 530.7L75.6 530.2L91.4 521.7L91.5 521.5L92.5 509.9L91.4 505.5L88.7 498.2L91.4 495.1L98.1 486.5L107.2 476.5L110.8 474.9Z" fill="#88f0d8" stroke="#88f0d8" stroke-width="0.6" stroke-linejoin="round" fill-rule="evenodd"/>
<path d="M107.2 472.5L123.0 468.1L138.8 474.9L138.8 474.9L148.3 486.5L154.6 498.2L154.6 498.2L154.6 509.9L154.6 516.4L152.4 509.9L146.4 498.2L138.8 487.0L138.5 486.5L131.7 474.9L123.0 471.1L110.8 474.9L107.2 476.5L98.1 486.5L91.4 495.1L88.7 498.2L91.4 505.5L92.5 509.9L91.5 521.5L91.4 521.7L75.6 530.2L59.8 530.7L59.8 529.1L75.6 526.8L85.5 521.5L86.9 509.9L84.2 498.2L91.4 489.9L94.0 486.5L100.9 474.9Z" fill="#93f0b9" stroke="#93f0b9" stroke-width="0.6" stroke-linejoin="round" fill-rule="evenodd"/>
<path d="M59.8 463.9L59.8 463.2L60.5 463.2ZM91.4 473.4L107.2 468.9L123.0 465.0L138.8 465.8L151.1 474.9L154.6 480.0L154.6 486.5L154.6 498.2L148.3 486.5L138.8 474.9L138.8 474.9L123.0 468.1L107.2 472.5L100.9 474.9L94.0 486.5L91.4 489.9L84.2 498.2L86.9 509.9L85.5 521.5L75.6 526.8L59.8 529.1L59.8 527.6L75.6 523.5L79.3 521.5L79.8 509.9L79.7 498.2L89.2 486.5L91.1 474.9Z" fill="#a2f096" stroke="#a2f096" stroke-width="0.6" stroke-linejoin="round" fill-rule="evenodd"/>
<path d="M75.6 463.2L91.4 463.2L100.3 463.2L107.2 465.2L116.4 463.2L123.0 463.2L138.8 463.2L147.7 463.2L154.6 468.3L154.6 474.9L154.6 480.0L151.1 474.9L138.8 465.8L123.0 465.0L107.2 468.9L91.4 473.4L91.1 474.9L89.2 486.5L79.7 498.2L79.8 509.9L79.3 521.5L75.6 523.5L59.8 527.6L59.8 526.0L73.6 521.5L73.4 509.9L74.6 498.2L75.6 497.5L83.0 486.5L84.1 474.9L75.6 463.9L63.7 474.9L63.7 486.5L59.8 489.4L59.8 486.5L59.8 474.9L59.8 463.9L60.5 463.2Z" fill="#b4f079" stroke="#b4f079" stroke-width="0.6" stroke-linejoin="round" fill-rule="evenodd"/>
<path d="M75.6 463.9L84.1 474.9L83.0 486.5L75.6 497.5L74.6 498.2L73.4 509.9L73.6 521.5L59.8 526.0L59.8 524.4L68.7 521.5L67.9 509.9L62.3 498.2L59.8 496.7L59.8 489.4L63.7 486.5L63.7 474.9ZM73.6 474.9L73.6 486.5L75.6 488.4L76.8 486.5L77.0 474.9L75.6 473.0ZM107.2 463.2L116.4 463.2L107.2 465.2L100.3 463.2ZM154.6 463.2L154.6 468.3L147.7 463.2Z" fill="#c8f060" stroke="#c8f060" stroke-width="0.6" stroke-linejoin="round" fill-rule="evenodd"/>
<path d="M75.6 473.0L77.0 474.9L76.8 486.5L75.6 488.4L73.6 486.5L73.6 474.9ZM62.3 498.2L67.9 509.9L68.7 521.5L59.8 524.4L59.8 522.8L63.8 521.5L62.4 509.9L59.8 505.5L59.8 498.2L59.8 496.7Z" fill="#dcf04c" stroke="#dcf04c" stroke-width="0.6" stroke-linejoin="round" fill-rule="evenodd"/>
<path d="M62.4 509.9L63.8 521.5L59.8 522.8L59.8 521.5L59.8 509.9L59.8 505.5Z" fill="#ecec39" stroke="#ecec39" stroke-width="0.6" stroke-linejoin="round" fill-rule="evenodd"/>
<path d="M115.1 463.2L107.2 464.9L101.3 463.2M154.6 467.6L148.7 463.2M59.8 490.0L64.5 486.5L64.5 474.9L75.6 464.7L83.5 474.9L82.5 486.5L75.6 496.7L73.6 498.2L73.0 509.9L73.2 521.5L59.8 525.8" fill="none" stroke="#7d8a62" stroke-width="0.45"/>
<ellipse cx="105.4" cy="464.4" rx="1.1" ry="0.9" fill="#4a4a40" fill-opacity="0.75"/>
<ellipse cx="64.5" cy="482.4" rx="1.1" ry="0.9" fill="#4a4a40" fill-opacity="0.75"/>
<ellipse cx="80.1" cy="470.5" rx="1.1" ry="0.9" fill="#4a4a40" fill-opacity="0.75"/>
<ellipse cx="75.2" cy="497.0" rx="1.1" ry="0.9" fill="#4a4a40" fill-opacity="0.75"/>
<ellipse cx="68.8" cy="523.0" rx="1.1" ry="0.9" fill="#4a4a40" fill-opacity="0.75"/>
</g>
<line x1="59.80" y1="463.20" x2="59.80" y2="464.40" stroke="#666" stroke-width="0.5"/>
<line x1="59.80" y1="532.00" x2="59.80" y2="533.20" stroke="#666" stroke-width="0.5"/>
<line x1="75.60" y1="463.20" x2="75.60" y2="464.40" stroke="#666" stroke-width="0.5"/>
<line x1="75.60" y1="532.00" x2="75.60" y2="533.20" stroke="#666" stroke-width="0.5"/>
<line x1="91.40" y1="463.20" x2="91.40" y2="464.40" stroke="#666" stroke-width="0.5"/>
<line x1="91.40" y1="532.00" x2="91.40" y2="533.20" stroke="#666" stroke-width="0.5"/>
<line x1="107.20" y1="463.20" x2="107.20" y2="464.40" stroke="#666" stroke-width="0.5"/>
<line x1="107.20" y1="532.00" x2="107.20" y2="533.20" stroke="#666" stroke-width="0.5"/>
<line x1="123.00" y1="463.20" x2="123.00" y2="464.40" stroke="#666" stroke-width="0.5"/>
<line x1="123.00" y1="532.00" x2="123.00" y2="533.20" stroke="#666" stroke-width="0.5"/>
<line x1="138.80" y1="463.20" x2="138.80" y2="464.40" stroke="#666" stroke-width="0.5"/>
<line x1="138.80" y1="532.00" x2="138.80" y2="533.20" stroke="#666" stroke-width="0.5"/>
<line x1="154.60" y1="463.20" x2="154.60" y2="464.40" stroke="#666" stroke-width="0.5"/>
<line x1="154.60" y1="532.00" x2="154.60" y2="533.20" stroke="#666" stroke-width="0.5"/>
<line x1="59.80" y1="463.20" x2="61.00" y2="463.20" stroke="#666" stroke-width="0.5"/>
<line x1="153.40" y1="463.20" x2="154.60" y2="463.20" stroke="#666" stroke-width="0.5"/>
<line x1="59.80" y1="474.87" x2="61.00" y2="474.87" stroke="#666" stroke-width="0.5"/>
<line x1="153.40" y1="474.87" x2="154.60" y2="474.87" stroke="#666" stroke-width="0.5"/>
<line x1="59.80" y1="486.53" x2="61.00" y2="486.53" stroke="#666" stroke-width="0.5"/>
<line x1="153.40" y1="486.53" x2="154.60" y2="486.53" stroke="#666" stroke-width="0.5"/>
<line x1="59.80" y1="498.20" x2="61.00" y2="498.20" stroke="#666" stroke-width="0.5"/>
<line x1="153.40" y1="498.20" x2="154.60" y2="498.20" stroke="#666" stroke-width="0.5"/>
<line x1="59.80" y1="509.87" x2="61.00" y2="509.87" stroke="#666" stroke-width="0.5"/>
<line x1="153.40" y1="509.87" x2="154.60" y2="509.87" stroke="#666" stroke-width="0.5"/>
<line x1="59.80" y1="521.53" x2="61.00" y2="521.53" stroke="#666" stroke-width="0.5"/>
<line x1="153.40" y1="521.53" x2="154.60" y2="521.53" stroke="#666" stroke-width="0.5"/>
<line x1="59.80" y1="533.20" x2="61.00" y2="533.20" stroke="#666" stroke-width="0.5"/>
<line x1="153.40" y1="533.20" x2="154.60" y2="533.20" stroke="#666" stroke-width="0.5"/>
<rect x="59.80" y="463.20" width="94.80" height="70.00" fill="none" stroke="#9a9a9a" stroke-width="0.5"/>
<clipPath id="h2"><rect x="182.50" y="462.80" width="95.00" height="70.20"/></clipPath>
<g clip-path="url(#h2)">
<rect x="182.50" y="462.80" width="95.00" height="70.20" fill="#9cf0a3"/>
<path d="M198.3 507.4L203.1 509.6L198.3 511.4L196.4 509.6Z" fill="#2f58f2" stroke="#2f58f2" stroke-width="0.6" stroke-linejoin="round" fill-rule="evenodd"/>
<path d="M198.3 505.1L208.0 509.6L198.3 513.2L194.5 509.6ZM196.4 509.6L198.3 511.4L203.1 509.6L198.3 507.4Z" fill="#3e6ef4" stroke="#3e6ef4" stroke-width="0.6" stroke-linejoin="round" fill-rule="evenodd"/>
<path d="M198.3 502.8L213.0 509.6L198.3 515.0L192.5 509.6ZM194.5 509.6L198.3 513.2L208.0 509.6L198.3 505.1Z" fill="#4e89f7" stroke="#4e89f7" stroke-width="0.6" stroke-linejoin="round" fill-rule="evenodd"/>
<path d="M198.3 500.6L214.2 507.1L218.9 509.6L214.2 514.2L198.3 516.8L190.5 509.6ZM192.5 509.6L198.3 515.0L213.0 509.6L198.3 502.8ZM230.0 519.0L231.4 521.3L230.0 522.2L225.6 521.3Z" fill="#5da4f8" stroke="#5da4f8" stroke-width="0.6" stroke-linejoin="round" fill-rule="evenodd"/>
<path d="M198.3 498.3L214.2 503.8L225.1 509.6L230.0 513.8L234.5 521.3L230.0 524.4L215.8 521.3L214.2 520.3L198.3 518.7L188.5 509.6ZM190.5 509.6L198.3 516.8L214.2 514.2L218.9 509.6L214.2 507.1L198.3 500.6ZM225.6 521.3L230.0 522.2L231.4 521.3L230.0 519.0Z" fill="#69bdf8" stroke="#69bdf8" stroke-width="0.6" stroke-linejoin="round" fill-rule="evenodd"/>
<path d="M184.8 474.5L182.5 479.3L182.5 474.5L182.5 473.3ZM198.3 494.1L206.6 497.9L214.2 500.4L230.0 508.8L230.9 509.6L237.5 521.3L230.0 526.5L214.2 523.0L203.8 521.3L198.3 520.5L186.5 509.6L190.0 497.9ZM188.5 509.6L198.3 518.7L214.2 520.3L215.8 521.3L230.0 524.4L234.5 521.3L230.0 513.8L225.1 509.6L214.2 503.8L198.3 498.3Z" fill="#74d5f6" stroke="#74d5f6" stroke-width="0.6" stroke-linejoin="round" fill-rule="evenodd"/>
<path d="M189.3 474.5L186.5 486.2L198.3 489.5L214.2 496.6L216.1 497.9L230.0 504.7L235.4 509.6L240.6 521.3L230.0 528.7L214.2 525.0L198.3 522.4L196.9 521.3L184.6 509.6L182.5 500.1L182.5 497.9L182.5 486.2L182.5 479.3L184.8 474.5L182.5 473.3L182.5 471.0ZM190.0 497.9L186.5 509.6L198.3 520.5L203.8 521.3L214.2 523.0L230.0 526.5L237.5 521.3L230.9 509.6L230.0 508.8L214.2 500.4L206.6 497.9L198.3 494.1Z" fill="#7eebf1" stroke="#7eebf1" stroke-width="0.6" stroke-linejoin="round" fill-rule="evenodd"/>
<path d="M193.8 474.5L198.3 483.6L201.8 486.2L214.2 491.4L224.4 497.9L230.0 500.7L239.9 509.6L243.7 521.3L230.0 530.8L214.2 527.1L198.3 524.5L194.5 521.3L182.6 509.6L182.5 509.2L182.5 500.1L184.6 509.6L196.9 521.3L198.3 522.4L214.2 525.0L230.0 528.7L240.6 521.3L235.4 509.6L230.0 504.7L216.1 497.9L214.2 496.6L198.3 489.5L186.5 486.2L189.3 474.5L182.5 471.0L182.5 468.7ZM277.5 532.1L277.5 533.0L270.6 533.0Z" fill="#88f0d8" stroke="#88f0d8" stroke-width="0.6" stroke-linejoin="round" fill-rule="evenodd"/>
<path d="M198.3 474.5L198.3 474.5L214.2 486.2L214.2 486.2L230.0 494.0L235.3 497.9L244.4 509.6L245.8 515.5L249.8 521.3L261.7 528.3L277.5 529.1L277.5 532.1L270.6 533.0L261.7 533.0L245.8 533.0L230.0 533.0L230.0 533.0L214.2 529.1L198.3 526.5L192.0 521.3L182.5 511.9L182.5 509.6L182.5 509.2L182.6 509.6L194.5 521.3L198.3 524.5L214.2 527.1L230.0 530.8L243.7 521.3L239.9 509.6L230.0 500.7L224.4 497.9L214.2 491.4L201.8 486.2L198.3 483.6L193.8 474.5L182.5 468.7L182.5 466.5Z" fill="#93f0b9" stroke="#93f0b9" stroke-width="0.6" stroke-linejoin="round" fill-rule="evenodd"/>
<path d="M198.3 465.4L205.4 474.5L214.2 481.0L230.0 484.0L245.4 474.5L245.8 473.8L247.8 474.5L254.7 486.2L254.7 497.9L257.0 509.6L261.7 519.8L262.1 521.3L277.5 526.1L277.5 529.1L261.7 528.3L249.8 521.3L245.8 515.5L244.4 509.6L235.3 497.9L230.0 494.0L214.2 486.2L214.2 486.2L198.3 474.5L198.3 474.5L182.5 466.5L182.5 464.2ZM192.0 521.3L198.3 526.5L214.2 529.1L230.0 533.0L221.8 533.0L214.2 531.1L198.3 528.5L189.5 521.3L182.5 514.4L182.5 511.9Z" fill="#a2f096" stroke="#a2f096" stroke-width="0.6" stroke-linejoin="round" fill-rule="evenodd"/>
<path d="M198.3 462.8L207.2 462.8L212.5 474.5L214.2 475.8L230.0 477.9L235.5 474.5L240.9 462.8L245.8 462.8L261.7 462.8L265.6 462.8L267.6 474.5L267.6 486.2L267.6 497.9L267.6 509.6L272.0 521.3L277.5 523.0L277.5 526.1L262.1 521.3L261.7 519.8L257.0 509.6L254.7 497.9L254.7 486.2L247.8 474.5L245.8 473.8L245.4 474.5L230.0 484.0L214.2 481.0L205.4 474.5L198.3 465.4L182.5 464.2L182.5 462.8ZM189.5 521.3L198.3 528.5L214.2 531.1L221.8 533.0L214.2 533.0L213.2 533.0L198.3 530.6L187.1 521.3L182.5 516.8L182.5 514.4Z" fill="#b4f079" stroke="#b4f079" stroke-width="0.6" stroke-linejoin="round" fill-rule="evenodd"/>
<path d="M214.2 462.8L230.0 462.8L240.9 462.8L235.5 474.5L230.0 477.9L214.2 475.8L212.5 474.5L207.2 462.8ZM275.9 474.5L275.9 486.2L275.9 497.9L275.9 509.6L277.5 513.3L277.5 521.3L277.5 523.0L272.0 521.3L267.6 509.6L267.6 497.9L267.6 486.2L267.6 474.5L265.6 462.8L275.5 462.8ZM187.1 521.3L198.3 530.6L213.2 533.0L200.8 533.0L198.3 532.6L193.4 533.0L182.5 533.0L182.5 529.0L184.6 521.3L182.5 519.3L182.5 516.8Z" fill="#c8f060" stroke="#c8f060" stroke-width="0.6" stroke-linejoin="round" fill-rule="evenodd"/>
<path d="M277.5 462.8L277.5 474.5L277.5 486.2L277.5 497.9L277.5 509.6L277.5 513.3L275.9 509.6L275.9 497.9L275.9 486.2L275.9 474.5L275.5 462.8ZM184.6 521.3L182.5 529.0L182.5 521.3L182.5 519.3ZM198.3 532.6L200.8 533.0L198.3 533.0L193.4 533.0Z" fill="#dcf04c" stroke="#dcf04c" stroke-width="0.6" stroke-linejoin="round" fill-rule="evenodd"/>
<path d="M239.9 462.8L234.8 474.5L230.0 477.4L214.2 475.3L213.0 474.5L208.2 462.8M182.5 517.0L186.9 521.3L198.3 530.7L212.2 533.0M277.5 522.8L272.8 521.3L268.3 509.6L268.3 497.9L268.3 486.2L268.3 474.5L266.4 462.8" fill="none" stroke="#7d8a62" stroke-width="0.45"/>
<ellipse cx="235.9" cy="472.0" rx="1.1" ry="0.9" fill="#4a4a40" fill-opacity="0.75"/>
<ellipse cx="211.4" cy="470.6" rx="1.1" ry="0.9" fill="#4a4a40" fill-opacity="0.75"/>
<ellipse cx="189.9" cy="523.8" rx="1.1" ry="0.9" fill="#4a4a40" fill-opacity="0.75"/>
<ellipse cx="270.9" cy="516.6" rx="1.1" ry="0.9" fill="#4a4a40" fill-opacity="0.75"/>
<ellipse cx="268.3" cy="487.1" rx="1.1" ry="0.9" fill="#4a4a40" fill-opacity="0.75"/>
</g>
<line x1="182.50" y1="462.80" x2="182.50" y2="464.00" stroke="#666" stroke-width="0.5"/>
<line x1="182.50" y1="531.80" x2="182.50" y2="533.00" stroke="#666" stroke-width="0.5"/>
<line x1="198.33" y1="462.80" x2="198.33" y2="464.00" stroke="#666" stroke-width="0.5"/>
<line x1="198.33" y1="531.80" x2="198.33" y2="533.00" stroke="#666" stroke-width="0.5"/>
<line x1="214.17" y1="462.80" x2="214.17" y2="464.00" stroke="#666" stroke-width="0.5"/>
<line x1="214.17" y1="531.80" x2="214.17" y2="533.00" stroke="#666" stroke-width="0.5"/>
<line x1="230.00" y1="462.80" x2="230.00" y2="464.00" stroke="#666" stroke-width="0.5"/>
<line x1="230.00" y1="531.80" x2="230.00" y2="533.00" stroke="#666" stroke-width="0.5"/>
<line x1="245.83" y1="462.80" x2="245.83" y2="464.00" stroke="#666" stroke-width="0.5"/>
<line x1="245.83" y1="531.80" x2="245.83" y2="533.00" stroke="#666" stroke-width="0.5"/>
<line x1="261.67" y1="462.80" x2="261.67" y2="464.00" stroke="#666" stroke-width="0.5"/>
<line x1="261.67" y1="531.80" x2="261.67" y2="533.00" stroke="#666" stroke-width="0.5"/>
<line x1="277.50" y1="462.80" x2="277.50" y2="464.00" stroke="#666" stroke-width="0.5"/>
<line x1="277.50" y1="531.80" x2="277.50" y2="533.00" stroke="#666" stroke-width="0.5"/>
<line x1="182.50" y1="462.80" x2="183.70" y2="462.80" stroke="#666" stroke-width="0.5"/>
<line x1="276.30" y1="462.80" x2="277.50" y2="462.80" stroke="#666" stroke-width="0.5"/>
<line x1="182.50" y1="474.50" x2="183.70" y2="474.50" stroke="#666" stroke-width="0.5"/>
<line x1="276.30" y1="474.50" x2="277.50" y2="474.50" stroke="#666" stroke-width="0.5"/>
<line x1="182.50" y1="486.20" x2="183.70" y2="486.20" stroke="#666" stroke-width="0.5"/>
<line x1="276.30" y1="486.20" x2="277.50" y2="486.20" stroke="#666" stroke-width="0.5"/>
<line x1="182.50" y1="497.90" x2="183.70" y2="497.90" stroke="#666" stroke-width="0.5"/>
<line x1="276.30" y1="497.90" x2="277.50" y2="497.90" stroke="#666" stroke-width="0.5"/>
<line x1="182.50" y1="509.60" x2="183.70" y2="509.60" stroke="#666" stroke-width="0.5"/>
<line x1="276.30" y1="509.60" x2="277.50" y2="509.60" stroke="#666" stroke-width="0.5"/>
<line x1="182.50" y1="521.30" x2="183.70" y2="521.30" stroke="#666" stroke-width="0.5"/>
<line x1="276.30" y1="521.30" x2="277.50" y2="521.30" stroke="#666" stroke-width="0.5"/>
<line x1="182.50" y1="533.00" x2="183.70" y2="533.00" stroke="#666" stroke-width="0.5"/>
<line x1="276.30" y1="533.00" x2="277.50" y2="533.00" stroke="#666" stroke-width="0.5"/>
<rect x="182.50" y="462.80" width="95.00" height="70.20" fill="none" stroke="#9a9a9a" stroke-width="0.5"/>
<clipPath id="h3"><rect x="306.30" y="462.90" width="95.30" height="70.10"/></clipPath>
<g clip-path="url(#h3)">
<rect x="306.30" y="462.90" width="95.30" height="70.10" fill="#a6f08d"/>
<path d="M369.8 497.6L370.3 497.9L369.8 498.3L366.9 497.9Z" fill="#5da4f8" stroke="#5da4f8" stroke-width="0.6" stroke-linejoin="round" fill-rule="evenodd"/>
<path d="M354.0 495.8L369.8 495.0L374.5 497.9L369.8 501.1L354.0 499.7L352.5 497.9ZM366.9 497.9L369.8 498.3L370.3 497.9L369.8 497.6Z" fill="#69bdf8" stroke="#69bdf8" stroke-width="0.6" stroke-linejoin="round" fill-rule="evenodd"/>
<path d="M354.0 491.2L369.8 492.4L378.6 497.9L369.8 503.9L354.0 503.4L349.6 497.9ZM352.5 497.9L354.0 499.7L369.8 501.1L374.5 497.9L369.8 495.0L354.0 495.8Z" fill="#74d5f6" stroke="#74d5f6" stroke-width="0.6" stroke-linejoin="round" fill-rule="evenodd"/>
<path d="M354.0 486.6L369.8 489.8L382.7 497.9L369.8 506.7L354.0 507.0L346.7 497.9ZM349.6 497.9L354.0 503.4L369.8 503.9L378.6 497.9L369.8 492.4L354.0 491.2Z" fill="#7eebf1" stroke="#7eebf1" stroke-width="0.6" stroke-linejoin="round" fill-rule="evenodd"/>
<path d="M354.0 477.9L365.4 486.3L369.8 487.2L385.7 492.8L399.6 497.9L385.7 508.2L369.8 509.5L367.8 509.6L369.8 511.1L383.7 521.3L385.7 522.8L401.6 522.8L401.6 533.0L385.7 533.0L369.8 533.0L354.0 533.0L347.0 533.0L348.0 521.3L352.4 509.6L343.8 497.9L352.0 486.3ZM346.7 497.9L354.0 507.0L369.8 506.7L382.7 497.9L369.8 489.8L354.0 486.6Z" fill="#88f0d8" stroke="#88f0d8" stroke-width="0.6" stroke-linejoin="round" fill-rule="evenodd"/>
<path d="M354.0 469.9L360.3 474.6L369.8 481.6L385.7 474.6L385.7 474.6L401.6 471.7L401.6 474.6L401.6 486.3L401.6 497.9L401.6 509.6L401.6 521.3L401.6 522.8L385.7 522.8L383.7 521.3L369.8 511.1L367.8 509.6L369.8 509.5L385.7 508.2L399.6 497.9L385.7 492.8L369.8 487.2L365.4 486.3L354.0 477.9L352.0 486.3L343.8 497.9L352.4 509.6L348.0 521.3L347.0 533.0L338.1 533.0L322.2 533.0L322.2 533.0L322.2 533.0L338.1 521.3L338.1 521.3L346.9 509.6L340.9 497.9L350.0 486.3L352.7 474.6Z" fill="#93f0b9" stroke="#93f0b9" stroke-width="0.6" stroke-linejoin="round" fill-rule="evenodd"/>
<path d="M354.0 462.9L354.3 462.9L369.8 474.3L385.7 470.9L401.3 462.9L401.6 462.9L401.6 471.7L385.7 474.6L385.7 474.6L369.8 481.6L360.3 474.6L354.0 469.9L352.7 474.6L350.0 486.3L340.9 497.9L346.9 509.6L338.1 521.3L338.1 521.3L322.2 533.0L322.2 533.0L306.3 533.0L306.3 530.1L322.2 525.7L328.1 521.3L338.1 514.0L341.4 509.6L338.1 498.7L337.7 497.9L338.1 497.9L347.9 486.3L350.8 474.6L353.7 462.9Z" fill="#a2f096" stroke="#a2f096" stroke-width="0.6" stroke-linejoin="round" fill-rule="evenodd"/>
<path d="M306.5 474.6L306.3 475.3L306.3 474.6L306.3 462.9L312.3 462.9ZM350.8 474.6L347.9 486.3L338.1 497.9L337.7 497.9L338.1 498.7L341.4 509.6L338.1 514.0L328.1 521.3L322.2 525.7L306.3 530.1L306.3 522.0L308.9 521.3L322.2 518.4L334.1 509.6L327.7 497.9L338.1 495.4L345.8 486.3L348.9 474.6L346.6 462.9L353.7 462.9ZM369.8 468.3L385.7 467.3L394.2 462.9L401.3 462.9L385.7 470.9L369.8 474.3L354.3 462.9L362.6 462.9ZM312.9 497.9L306.3 500.9L306.3 497.9L306.3 495.0Z" fill="#b4f079" stroke="#b4f079" stroke-width="0.6" stroke-linejoin="round" fill-rule="evenodd"/>
<path d="M309.0 474.6L306.3 484.4L306.3 475.3L306.5 474.6L312.3 462.9L320.5 462.9ZM348.9 474.6L345.8 486.3L338.1 495.4L327.7 497.9L334.1 509.6L322.2 518.4L308.9 521.3L306.3 522.0L306.3 521.3L306.3 511.7L322.2 511.1L324.2 509.6L322.2 506.0L306.3 508.2L306.3 500.9L312.9 497.9L306.3 495.0L306.3 487.7L322.2 497.1L338.1 493.0L343.8 486.3L347.0 474.6L339.5 462.9L346.6 462.9ZM369.8 462.9L375.8 462.9L385.7 463.6L387.1 462.9L394.2 462.9L385.7 467.3L369.8 468.3L362.6 462.9Z" fill="#c8f060" stroke="#c8f060" stroke-width="0.6" stroke-linejoin="round" fill-rule="evenodd"/>
<path d="M322.2 462.9L338.1 462.9L339.5 462.9L347.0 474.6L343.8 486.3L338.1 493.0L322.2 497.1L306.3 487.7L306.3 486.3L306.3 484.4L309.0 474.6L320.5 462.9ZM311.5 474.6L308.8 486.3L322.2 495.0L338.1 490.6L341.7 486.3L345.1 474.6L338.1 465.0L322.2 464.7ZM385.7 462.9L387.1 462.9L385.7 463.6L375.8 462.9ZM322.2 506.0L324.2 509.6L322.2 511.1L306.3 511.7L306.3 509.6L306.3 508.2Z" fill="#dcf04c" stroke="#dcf04c" stroke-width="0.6" stroke-linejoin="round" fill-rule="evenodd"/>
<path d="M322.2 464.7L338.1 465.0L345.1 474.6L341.7 486.3L338.1 490.6L322.2 495.0L308.8 486.3L311.5 474.6ZM313.9 474.6L311.9 486.3L322.2 493.0L338.1 488.1L339.6 486.3L343.2 474.6L338.1 467.6L322.2 467.0Z" fill="#ecec39" stroke="#ecec39" stroke-width="0.6" stroke-linejoin="round" fill-rule="evenodd"/>
<path d="M322.2 467.0L338.1 467.6L343.2 474.6L339.6 486.3L338.1 488.1L322.2 493.0L311.9 486.3L313.9 474.6ZM316.4 474.6L315.0 486.3L322.2 491.0L336.6 486.3L338.1 484.8L341.3 474.6L338.1 470.2L322.2 469.3Z" fill="#f0d930" stroke="#f0d930" stroke-width="0.6" stroke-linejoin="round" fill-rule="evenodd"/>
<path d="M322.2 469.3L338.1 470.2L341.3 474.6L338.1 484.8L336.6 486.3L322.2 491.0L315.0 486.3L316.4 474.6ZM318.9 474.6L318.1 486.3L322.2 488.9L330.4 486.3L338.1 478.7L339.4 474.6L338.1 472.8L322.2 471.6Z" fill="#efbb2e" stroke="#efbb2e" stroke-width="0.6" stroke-linejoin="round" fill-rule="evenodd"/>
<path d="M322.2 471.6L338.1 472.8L339.4 474.6L338.1 478.7L330.4 486.3L322.2 488.9L318.1 486.3L318.9 474.6ZM321.4 474.6L321.2 486.3L322.2 486.9L324.2 486.3L330.1 474.6L322.2 473.9Z" fill="#eba226" stroke="#eba226" stroke-width="0.6" stroke-linejoin="round" fill-rule="evenodd"/>
<path d="M322.2 473.9L330.1 474.6L324.2 486.3L322.2 486.9L321.2 486.3L321.4 474.6Z" fill="#e8891f" stroke="#e8891f" stroke-width="0.6" stroke-linejoin="round" fill-rule="evenodd"/>
<path d="M346.0 462.9L348.8 474.6L345.7 486.3L338.1 495.2L326.9 497.9L333.3 509.6L322.2 517.8L306.3 521.3M393.7 462.9L385.7 467.0L369.8 467.8L363.2 462.9M306.3 476.0L306.7 474.6L312.9 462.9M306.3 501.5L314.2 497.9L306.3 494.4" fill="none" stroke="#7d8a62" stroke-width="0.45"/>
<ellipse cx="348.3" cy="472.6" rx="1.1" ry="0.9" fill="#4a4a40" fill-opacity="0.75"/>
<ellipse cx="334.0" cy="496.2" rx="1.1" ry="0.9" fill="#4a4a40" fill-opacity="0.75"/>
<ellipse cx="325.7" cy="515.2" rx="1.1" ry="0.9" fill="#4a4a40" fill-opacity="0.75"/>
<ellipse cx="384.7" cy="467.0" rx="1.1" ry="0.9" fill="#4a4a40" fill-opacity="0.75"/>
<ellipse cx="310.7" cy="467.1" rx="1.1" ry="0.9" fill="#4a4a40" fill-opacity="0.75"/>
<ellipse cx="313.0" cy="497.4" rx="1.1" ry="0.9" fill="#4a4a40" fill-opacity="0.75"/>
</g>
<line x1="306.30" y1="462.90" x2="306.30" y2="464.10" stroke="#666" stroke-width="0.5"/>
<line x1="306.30" y1="531.80" x2="306.30" y2="533.00" stroke="#666" stroke-width="0.5"/>
<line x1="322.18" y1="462.90" x2="322.18" y2="464.10" stroke="#666" stroke-width="0.5"/>
<line x1="322.18" y1="531.80" x2="322.18" y2="533.00" stroke="#666" stroke-width="0.5"/>
<line x1="338.07" y1="462.90" x2="338.07" y2="464.10" stroke="#666" stroke-width="0.5"/>
<line x1="338.07" y1="531.80" x2="338.07" y2="533.00" stroke="#666" stroke-width="0.5"/>
<line x1="353.95" y1="462.90" x2="353.95" y2="464.10" stroke="#666" stroke-width="0.5"/>
<line x1="353.95" y1="531.80" x2="353.95" y2="533.00" stroke="#666" stroke-width="0.5"/>
<line x1="369.83" y1="462.90" x2="369.83" y2="464.10" stroke="#666" stroke-width="0.5"/>
<line x1="369.83" y1="531.80" x2="369.83" y2="533.00" stroke="#666" stroke-width="0.5"/>
<line x1="385.72" y1="462.90" x2="385.72" y2="464.10" stroke="#666" stroke-width="0.5"/>
<line x1="385.72" y1="531.80" x2="385.72" y2="533.00" stroke="#666" stroke-width="0.5"/>
<line x1="401.60" y1="462.90" x2="401.60" y2="464.10" stroke="#666" stroke-width="0.5"/>
<line x1="401.60" y1="531.80" x2="401.60" y2="533.00" stroke="#666" stroke-width="0.5"/>
<line x1="306.30" y1="462.90" x2="307.50" y2="462.90" stroke="#666" stroke-width="0.5"/>
<line x1="400.40" y1="462.90" x2="401.60" y2="462.90" stroke="#666" stroke-width="0.5"/>
<line x1="306.30" y1="474.58" x2="307.50" y2="474.58" stroke="#666" stroke-width="0.5"/>
<line x1="400.40" y1="474.58" x2="401.60" y2="474.58" stroke="#666" stroke-width="0.5"/>
<line x1="306.30" y1="486.27" x2="307.50" y2="486.27" stroke="#666" stroke-width="0.5"/>
<line x1="400.40" y1="486.27" x2="401.60" y2="486.27" stroke="#666" stroke-width="0.5"/>
<line x1="306.30" y1="497.95" x2="307.50" y2="497.95" stroke="#666" stroke-width="0.5"/>
<line x1="400.40" y1="497.95" x2="401.60" y2="497.95" stroke="#666" stroke-width="0.5"/>
<line x1="306.30" y1="509.63" x2="307.50" y2="509.63" stroke="#666" stroke-width="0.5"/>
<line x1="400.40" y1="509.63" x2="401.60" y2="509.63" stroke="#666" stroke-width="0.5"/>
<line x1="306.30" y1="521.32" x2="307.50" y2="521.32" stroke="#666" stroke-width="0.5"/>
<line x1="400.40" y1="521.32" x2="401.60" y2="521.32" stroke="#666" stroke-width="0.5"/>
<line x1="306.30" y1="533.00" x2="307.50" y2="533.00" stroke="#666" stroke-width="0.5"/>
<line x1="400.40" y1="533.00" x2="401.60" y2="533.00" stroke="#666" stroke-width="0.5"/>
<rect x="306.30" y="462.90" width="95.30" height="70.10" fill="none" stroke="#9a9a9a" stroke-width="0.5"/>
<clipPath id="h4"><rect x="61.00" y="591.30" width="94.70" height="69.70"/></clipPath>
<g clip-path="url(#h4)">
<rect x="61.00" y="591.30" width="94.70" height="69.70" fill="#aff07f"/>
<path d="M124.1 614.1L124.3 614.5L124.1 614.8L124.0 614.5Z" fill="#4e89f7" stroke="#4e89f7" stroke-width="0.6" stroke-linejoin="round" fill-rule="evenodd"/>
<path d="M124.1 608.9L126.6 614.5L124.1 618.1L122.3 614.5ZM124.0 614.5L124.1 614.8L124.3 614.5L124.1 614.1Z" fill="#5da4f8" stroke="#5da4f8" stroke-width="0.6" stroke-linejoin="round" fill-rule="evenodd"/>
<path d="M124.1 603.7L128.8 614.5L124.1 621.4L120.6 614.5ZM122.3 614.5L124.1 618.1L126.6 614.5L124.1 608.9Z" fill="#69bdf8" stroke="#69bdf8" stroke-width="0.6" stroke-linejoin="round" fill-rule="evenodd"/>
<path d="M124.1 600.4L126.3 602.9L131.0 614.5L124.1 624.7L118.9 614.5L122.4 602.9ZM120.6 614.5L124.1 621.4L128.8 614.5L124.1 603.7ZM124.1 647.6L139.9 645.0L155.7 645.6L155.7 649.4L155.7 655.7L144.8 661.0L139.9 661.0L124.1 661.0L121.7 661.0L123.1 649.4Z" fill="#74d5f6" stroke="#74d5f6" stroke-width="0.6" stroke-linejoin="round" fill-rule="evenodd"/>
<path d="M124.1 597.4L128.9 602.9L133.3 614.5L128.7 626.1L124.1 636.3L122.2 626.1L117.2 614.5L120.4 602.9ZM122.4 602.9L118.9 614.5L124.1 624.7L131.0 614.5L126.3 602.9L124.1 600.4ZM124.1 638.5L139.9 639.8L155.7 638.3L155.7 645.6L139.9 645.0L124.1 647.6L123.1 649.4L121.7 661.0L109.3 661.0L118.2 649.4ZM155.7 655.7L155.7 661.0L144.8 661.0Z" fill="#7eebf1" stroke="#7eebf1" stroke-width="0.6" stroke-linejoin="round" fill-rule="evenodd"/>
<path d="M124.1 594.3L131.5 602.9L135.5 614.5L137.0 626.1L139.9 630.5L155.7 629.4L155.7 637.8L155.7 638.3L139.9 639.8L124.1 638.5L118.2 649.4L109.3 661.0L108.3 661.0L97.0 661.0L108.3 655.4L113.3 649.4L118.5 637.8L118.6 626.1L115.5 614.5L118.3 602.9ZM120.4 602.9L117.2 614.5L122.2 626.1L124.1 636.3L128.7 626.1L133.3 614.5L128.9 602.9L124.1 597.4Z" fill="#88f0d8" stroke="#88f0d8" stroke-width="0.6" stroke-linejoin="round" fill-rule="evenodd"/>
<path d="M61.8 602.9L61.0 604.9L61.0 602.9L61.0 600.6ZM124.1 591.3L124.1 591.3L134.1 602.9L137.8 614.5L139.9 621.5L155.7 620.3L155.7 626.1L155.7 629.4L139.9 630.5L137.0 626.1L135.5 614.5L131.5 602.9L124.1 594.3L118.3 602.9L115.5 614.5L118.6 626.1L118.5 637.8L113.3 649.4L108.3 655.4L97.0 661.0L92.6 661.0L76.8 661.0L76.8 661.0L76.8 661.0L92.6 658.4L108.3 649.4L108.3 649.4L112.3 637.8L115.1 626.1L113.8 614.5L116.2 602.9L124.1 591.3Z" fill="#93f0b9" stroke="#93f0b9" stroke-width="0.6" stroke-linejoin="round" fill-rule="evenodd"/>
<path d="M63.0 602.9L61.0 607.9L61.0 604.9L61.8 602.9L61.0 600.6L61.0 597.0ZM116.2 602.9L113.8 614.5L115.1 626.1L112.3 637.8L108.3 649.4L108.3 649.4L92.6 658.4L76.8 661.0L76.8 661.0L61.0 661.0L61.0 659.5L76.8 657.4L92.6 654.4L101.3 649.4L106.4 637.8L108.3 634.5L111.6 626.1L112.1 614.5L114.2 602.9L119.2 591.3L124.1 591.3ZM136.7 602.9L139.9 614.2L155.7 608.0L155.7 614.5L155.7 620.3L139.9 621.5L137.8 614.5L134.1 602.9L124.1 591.3L129.1 591.3Z" fill="#a2f096" stroke="#a2f096" stroke-width="0.6" stroke-linejoin="round" fill-rule="evenodd"/>
<path d="M64.3 602.9L61.0 610.9L61.0 607.9L63.0 602.9L61.0 597.0L61.0 593.3ZM114.2 602.9L112.1 614.5L111.6 626.1L108.3 634.5L106.4 637.8L101.3 649.4L92.6 654.4L76.8 657.4L61.0 659.5L61.0 655.5L76.8 653.7L92.6 650.4L94.3 649.4L100.9 637.8L107.9 626.1L108.3 625.4L110.4 614.5L112.1 602.9L114.3 591.3L119.2 591.3ZM139.3 602.9L139.9 605.1L143.9 602.9L151.8 591.3L155.7 591.3L155.7 602.9L155.7 608.0L139.9 614.2L136.7 602.9L129.1 591.3L134.0 591.3Z" fill="#b4f079" stroke="#b4f079" stroke-width="0.6" stroke-linejoin="round" fill-rule="evenodd"/>
<path d="M65.5 602.9L61.0 613.9L61.0 610.9L64.3 602.9L61.0 593.3L61.0 591.3L64.6 591.3ZM112.1 602.9L110.4 614.5L108.3 625.4L107.9 626.1L100.9 637.8L94.3 649.4L92.6 650.4L76.8 653.7L61.0 655.5L61.0 651.5L76.8 650.1L80.1 649.4L92.6 642.5L95.4 637.8L101.7 626.1L108.3 616.3L108.7 614.5L110.1 602.9L109.3 591.3L114.3 591.3ZM139.9 593.7L141.9 591.3L151.8 591.3L143.9 602.9L139.9 605.1L139.3 602.9L134.0 591.3L138.9 591.3Z" fill="#c8f060" stroke="#c8f060" stroke-width="0.6" stroke-linejoin="round" fill-rule="evenodd"/>
<path d="M66.7 602.9L62.6 614.5L61.0 624.2L61.0 614.5L61.0 613.9L65.5 602.9L64.6 591.3L72.8 591.3ZM92.6 591.3L108.3 591.3L109.3 591.3L110.1 602.9L108.7 614.5L108.3 616.3L101.7 626.1L95.4 637.8L92.6 642.5L80.1 649.4L76.8 650.1L61.0 651.5L61.0 649.4L61.0 640.7L76.8 642.1L84.7 637.8L92.6 632.0L95.5 626.1L103.4 614.5L107.7 602.9L92.6 593.4L82.7 591.3ZM139.9 591.3L141.9 591.3L139.9 593.7L138.9 591.3Z" fill="#dcf04c" stroke="#dcf04c" stroke-width="0.6" stroke-linejoin="round" fill-rule="evenodd"/>
<path d="M76.8 591.3L82.7 591.3L92.6 593.4L107.7 602.9L103.4 614.5L95.5 626.1L92.6 632.0L84.7 637.8L76.8 642.1L61.0 640.7L61.0 637.8L61.0 626.1L61.0 624.2L62.6 614.5L66.7 602.9L72.8 591.3ZM68.0 602.9L64.7 614.5L74.8 626.1L76.8 628.3L79.7 626.1L92.6 621.4L97.3 614.5L103.6 602.9L92.6 596.0L76.8 592.1Z" fill="#ecec39" stroke="#ecec39" stroke-width="0.6" stroke-linejoin="round" fill-rule="evenodd"/>
<path d="M76.8 592.1L92.6 596.0L103.6 602.9L97.3 614.5L92.6 621.4L79.7 626.1L76.8 628.3L74.8 626.1L64.7 614.5L68.0 602.9ZM69.2 602.9L66.8 614.5L76.8 624.4L91.8 614.5L92.6 613.1L99.5 602.9L92.6 598.6L76.8 593.6Z" fill="#f0d930" stroke="#f0d930" stroke-width="0.6" stroke-linejoin="round" fill-rule="evenodd"/>
<path d="M76.8 593.6L92.6 598.6L99.5 602.9L92.6 613.1L91.8 614.5L76.8 624.4L66.8 614.5L69.2 602.9ZM70.4 602.9L68.8 614.5L76.8 622.4L88.7 614.5L92.6 607.0L95.4 602.9L92.6 601.2L76.8 595.1Z" fill="#efbb2e" stroke="#efbb2e" stroke-width="0.6" stroke-linejoin="round" fill-rule="evenodd"/>
<path d="M76.8 595.1L92.6 601.2L95.4 602.9L92.6 607.0L88.7 614.5L76.8 622.4L68.8 614.5L70.4 602.9ZM71.7 602.9L70.9 614.5L76.8 620.3L85.7 614.5L91.4 602.9L76.8 596.6Z" fill="#eba226" stroke="#eba226" stroke-width="0.6" stroke-linejoin="round" fill-rule="evenodd"/>
<path d="M76.8 596.6L91.4 602.9L85.7 614.5L76.8 620.3L70.9 614.5L71.7 602.9ZM72.9 602.9L72.9 614.5L76.8 618.3L82.6 614.5L87.9 602.9L76.8 598.1Z" fill="#e8891f" stroke="#e8891f" stroke-width="0.6" stroke-linejoin="round" fill-rule="evenodd"/>
<path d="M76.8 598.1L87.9 602.9L82.6 614.5L76.8 618.3L72.9 614.5L72.9 602.9ZM74.1 602.9L75.0 614.5L76.8 616.3L79.5 614.5L84.4 602.9L76.8 599.6Z" fill="#e8701b" stroke="#e8701b" stroke-width="0.6" stroke-linejoin="round" fill-rule="evenodd"/>
<path d="M76.8 599.6L84.4 602.9L79.5 614.5L76.8 616.3L75.0 614.5L74.1 602.9ZM75.4 602.9L76.8 613.4L80.9 602.9L76.8 601.2Z" fill="#e65515" stroke="#e65515" stroke-width="0.6" stroke-linejoin="round" fill-rule="evenodd"/>
<path d="M76.8 601.2L80.9 602.9L76.8 613.4L75.4 602.9ZM76.6 602.9L76.8 604.4L77.3 602.9L76.8 602.7Z" fill="#e2380d" stroke="#e2380d" stroke-width="0.6" stroke-linejoin="round" fill-rule="evenodd"/>
<path d="M76.8 602.7L77.3 602.9L76.8 604.4L76.6 602.9Z" fill="#d71d06" stroke="#d71d06" stroke-width="0.6" stroke-linejoin="round" fill-rule="evenodd"/>
<path d="M113.9 591.3L112.0 602.9L110.3 614.5L108.3 624.7L107.4 626.1L100.5 637.8L93.7 649.4L92.6 650.0L76.8 653.4L61.0 655.2M151.0 591.3L142.5 602.9L139.9 604.4L139.5 602.9L134.4 591.3M61.0 611.1L64.4 602.9L61.0 593.0" fill="none" stroke="#7d8a62" stroke-width="0.45"/>
<ellipse cx="112.3" cy="601.2" rx="1.1" ry="0.9" fill="#4a4a40" fill-opacity="0.75"/>
<ellipse cx="105.1" cy="629.9" rx="1.1" ry="0.9" fill="#4a4a40" fill-opacity="0.75"/>
<ellipse cx="86.6" cy="651.3" rx="1.1" ry="0.9" fill="#4a4a40" fill-opacity="0.75"/>
<ellipse cx="145.1" cy="599.4" rx="1.1" ry="0.9" fill="#4a4a40" fill-opacity="0.75"/>
<ellipse cx="64.0" cy="601.9" rx="1.1" ry="0.9" fill="#4a4a40" fill-opacity="0.75"/>
</g>
<line x1="61.00" y1="591.30" x2="61.00" y2="592.50" stroke="#666" stroke-width="0.5"/>
<line x1="61.00" y1="659.80" x2="61.00" y2="661.00" stroke="#666" stroke-width="0.5"/>
<line x1="76.78" y1="591.30" x2="76.78" y2="592.50" stroke="#666" stroke-width="0.5"/>
<line x1="76.78" y1="659.80" x2="76.78" y2="661.00" stroke="#666" stroke-width="0.5"/>
<line x1="92.57" y1="591.30" x2="92.57" y2="592.50" stroke="#666" stroke-width="0.5"/>
<line x1="92.57" y1="659.80" x2="92.57" y2="661.00" stroke="#666" stroke-width="0.5"/>
<line x1="108.35" y1="591.30" x2="108.35" y2="592.50" stroke="#666" stroke-width="0.5"/>
<line x1="108.35" y1="659.80" x2="108.35" y2="661.00" stroke="#666" stroke-width="0.5"/>
<line x1="124.13" y1="591.30" x2="124.13" y2="592.50" stroke="#666" stroke-width="0.5"/>
<line x1="124.13" y1="659.80" x2="124.13" y2="661.00" stroke="#666" stroke-width="0.5"/>
<line x1="139.92" y1="591.30" x2="139.92" y2="592.50" stroke="#666" stroke-width="0.5"/>
<line x1="139.92" y1="659.80" x2="139.92" y2="661.00" stroke="#666" stroke-width="0.5"/>
<line x1="155.70" y1="591.30" x2="155.70" y2="592.50" stroke="#666" stroke-width="0.5"/>
<line x1="155.70" y1="659.80" x2="155.70" y2="661.00" stroke="#666" stroke-width="0.5"/>
<line x1="61.00" y1="591.30" x2="62.20" y2="591.30" stroke="#666" stroke-width="0.5"/>
<line x1="154.50" y1="591.30" x2="155.70" y2="591.30" stroke="#666" stroke-width="0.5"/>
<line x1="61.00" y1="602.92" x2="62.20" y2="602.92" stroke="#666" stroke-width="0.5"/>
<line x1="154.50" y1="602.92" x2="155.70" y2="602.92" stroke="#666" stroke-width="0.5"/>
<line x1="61.00" y1="614.53" x2="62.20" y2="614.53" stroke="#666" stroke-width="0.5"/>
<line x1="154.50" y1="614.53" x2="155.70" y2="614.53" stroke="#666" stroke-width="0.5"/>
<line x1="61.00" y1="626.15" x2="62.20" y2="626.15" stroke="#666" stroke-width="0.5"/>
<line x1="154.50" y1="626.15" x2="155.70" y2="626.15" stroke="#666" stroke-width="0.5"/>
<line x1="61.00" y1="637.77" x2="62.20" y2="637.77" stroke="#666" stroke-width="0.5"/>
<line x1="154.50" y1="637.77" x2="155.70" y2="637.77" stroke="#666" stroke-width="0.5"/>
<line x1="61.00" y1="649.38" x2="62.20" y2="649.38" stroke="#666" stroke-width="0.5"/>
<line x1="154.50" y1="649.38" x2="155.70" y2="649.38" stroke="#666" stroke-width="0.5"/>
<line x1="61.00" y1="661.00" x2="62.20" y2="661.00" stroke="#666" stroke-width="0.5"/>
<line x1="154.50" y1="661.00" x2="155.70" y2="661.00" stroke="#666" stroke-width="0.5"/>
<rect x="61.00" y="591.30" width="94.70" height="69.70" fill="none" stroke="#9a9a9a" stroke-width="0.5"/>
<clipPath id="h5"><rect x="183.30" y="590.90" width="94.30" height="70.10"/></clipPath>
<g clip-path="url(#h5)">
<rect x="183.30" y="590.90" width="94.30" height="70.10" fill="#71cff7"/>
<path d="M230.5 649.1L246.2 649.2L247.1 649.3L246.2 649.4L230.5 649.4L228.5 649.3Z" fill="#00009d" stroke="#00009d" stroke-width="0.6" stroke-linejoin="round" fill-rule="evenodd"/>
<path d="M214.7 647.7L230.5 646.5L246.2 647.3L259.4 649.3L246.2 650.5L230.5 650.5L214.7 649.8L209.3 649.3ZM228.5 649.3L230.5 649.4L246.2 649.4L247.1 649.3L246.2 649.2L230.5 649.1Z" fill="#0000be" stroke="#0000be" stroke-width="0.6" stroke-linejoin="round" fill-rule="evenodd"/>
<path d="M230.5 614.0L246.2 613.7L246.8 614.3L246.2 614.6L230.5 614.9L229.5 614.3ZM199.0 648.6L214.7 644.1L230.5 643.9L246.2 645.5L261.9 648.3L277.6 649.0L277.6 649.3L277.6 649.6L261.9 650.4L246.2 651.6L230.5 651.6L214.7 650.9L199.0 649.5L198.8 649.3ZM209.3 649.3L214.7 649.8L230.5 650.5L246.2 650.5L259.4 649.3L246.2 647.3L230.5 646.5L214.7 647.7Z" fill="#0008d8" stroke="#0008d8" stroke-width="0.6" stroke-linejoin="round" fill-rule="evenodd"/>
<path d="M230.5 612.6L246.2 610.0L250.9 614.3L246.2 616.9L230.5 618.5L223.3 614.3ZM229.5 614.3L230.5 614.9L246.2 614.6L246.8 614.3L246.2 613.7L230.5 614.0ZM199.0 644.0L214.7 640.4L230.5 641.3L246.2 643.7L261.9 647.1L277.6 647.2L277.6 649.0L261.9 648.3L246.2 645.5L230.5 643.9L214.7 644.1L199.0 648.6L198.8 649.3L199.0 649.5L214.7 650.9L230.5 651.6L246.2 651.6L261.9 650.4L277.6 649.6L277.6 651.1L261.9 651.7L246.2 652.6L230.5 652.6L214.7 651.9L199.0 650.7L197.3 649.3Z" fill="#0111f0" stroke="#0111f0" stroke-width="0.6" stroke-linejoin="round" fill-rule="evenodd"/>
<path d="M230.5 611.2L246.2 606.4L255.0 614.3L246.2 619.2L230.5 622.2L217.2 614.3ZM223.3 614.3L230.5 618.5L246.2 616.9L250.9 614.3L246.2 610.0L230.5 612.6ZM214.7 633.3L220.6 637.6L230.5 638.7L246.2 641.9L261.9 645.9L277.6 645.4L277.6 647.2L261.9 647.1L246.2 643.7L230.5 641.3L214.7 640.4L199.0 644.0L197.3 649.3L199.0 650.7L214.7 651.9L230.5 652.6L246.2 652.6L261.9 651.7L277.6 651.1L277.6 652.6L261.9 653.0L246.2 653.7L230.5 653.7L214.7 653.0L199.0 651.9L195.8 649.3L199.0 639.5L208.8 637.6Z" fill="#112af0" stroke="#112af0" stroke-width="0.6" stroke-linejoin="round" fill-rule="evenodd"/>
<path d="M214.7 613.7L230.5 609.8L246.2 602.7L259.1 614.3L246.2 621.5L230.5 625.8L229.5 626.0L230.5 626.7L235.4 637.6L246.2 640.0L261.9 644.7L277.6 643.5L277.6 645.4L261.9 645.9L246.2 641.9L230.5 638.7L220.6 637.6L214.7 633.3L208.8 637.6L199.0 639.5L195.8 649.3L199.0 651.9L214.7 653.0L230.5 653.7L246.2 653.7L261.9 653.0L277.6 652.6L277.6 654.1L261.9 654.3L246.2 654.8L230.5 654.8L214.7 654.1L199.0 653.2L194.3 649.3L198.3 637.6L199.0 632.2L207.4 626.0L211.8 614.3ZM217.2 614.3L230.5 622.2L246.2 619.2L255.0 614.3L246.2 606.4L230.5 611.2Z" fill="#2243f0" stroke="#2243f0" stroke-width="0.6" stroke-linejoin="round" fill-rule="evenodd"/>
<path d="M246.2 601.5L248.1 602.6L261.9 613.7L265.8 614.3L261.9 614.7L246.2 623.8L238.3 626.0L243.5 637.6L246.2 638.2L261.9 643.5L277.6 641.7L277.6 643.5L261.9 644.7L246.2 640.0L235.4 637.6L230.5 626.7L229.5 626.0L230.5 625.8L246.2 621.5L259.1 614.3L246.2 602.7L230.5 609.8L214.7 613.7L211.8 614.3L207.4 626.0L199.0 632.2L198.3 637.6L194.3 649.3L199.0 653.2L214.7 654.1L230.5 654.8L246.2 654.8L261.9 654.3L277.6 654.1L277.6 655.6L261.9 655.6L246.2 655.8L230.5 655.8L214.7 655.2L199.0 654.4L192.8 649.3L197.1 637.6L198.6 626.0L199.0 624.0L206.9 614.3L214.7 612.9L230.5 608.4L243.2 602.6Z" fill="#2f58f2" stroke="#2f58f2" stroke-width="0.6" stroke-linejoin="round" fill-rule="evenodd"/>
<path d="M246.2 600.3L250.2 602.6L261.9 612.1L277.6 614.1L277.6 614.3L277.6 614.3L261.9 616.1L246.3 626.0L248.6 637.6L261.9 642.3L277.6 639.9L277.6 641.7L261.9 643.5L246.2 638.2L243.5 637.6L238.3 626.0L246.2 623.8L261.9 614.7L265.8 614.3L261.9 613.7L248.1 602.6L246.2 601.5L243.2 602.6L230.5 608.4L214.7 612.9L206.9 614.3L199.0 624.0L198.6 626.0L197.1 637.6L192.8 649.3L199.0 654.4L214.7 655.2L230.5 655.8L246.2 655.8L261.9 655.6L277.6 655.6L277.6 657.2L261.9 656.9L246.2 656.9L230.5 656.9L214.7 656.2L199.0 655.6L191.3 649.3L195.8 637.6L197.5 626.0L199.0 617.9L202.0 614.3L214.7 612.0L230.5 607.0L240.2 602.6Z" fill="#3e6ef4" stroke="#3e6ef4" stroke-width="0.6" stroke-linejoin="round" fill-rule="evenodd"/>
<path d="M246.2 599.2L252.2 602.6L261.9 610.4L277.6 609.5L277.6 614.1L261.9 612.1L250.2 602.6L246.2 600.3L240.2 602.6L230.5 607.0L214.7 612.0L202.0 614.3L199.0 617.9L197.5 626.0L195.8 637.6L191.3 649.3L199.0 655.6L214.7 656.2L230.5 656.9L246.2 656.9L261.9 656.9L277.6 657.2L277.6 658.7L261.9 658.2L246.2 658.0L230.5 658.0L214.7 657.3L199.0 656.8L189.8 649.3L194.6 637.6L196.3 625.9L198.5 614.3L199.0 613.9L214.7 611.1L230.5 605.6L237.1 602.6ZM261.9 616.1L277.6 614.3L277.6 616.2L261.9 617.5L248.5 626.0L252.1 637.6L261.9 641.0L277.6 638.1L277.6 639.9L261.9 642.3L248.6 637.6L246.3 626.0Z" fill="#4e89f7" stroke="#4e89f7" stroke-width="0.6" stroke-linejoin="round" fill-rule="evenodd"/>
<path d="M246.2 598.1L254.3 602.6L261.9 608.8L277.6 605.0L277.6 609.5L261.9 610.4L252.2 602.6L246.2 599.2L237.1 602.6L230.5 605.6L214.7 611.1L199.0 613.9L198.5 614.3L196.3 626.0L194.6 637.6L189.8 649.3L199.0 656.8L214.7 657.3L230.5 658.0L246.2 658.0L261.9 658.2L277.6 658.7L277.6 660.2L261.9 659.5L246.2 659.1L230.5 659.1L214.7 658.4L199.0 658.0L188.4 649.3L193.4 637.6L195.1 626.0L197.4 614.3L199.0 613.1L214.7 610.3L230.5 604.2L234.0 602.6ZM261.9 617.5L277.6 616.2L277.6 618.0L261.9 618.9L250.7 626.0L255.6 637.6L261.9 639.8L272.9 637.6L277.6 635.9L277.6 637.6L277.6 638.1L261.9 641.0L252.1 637.6L248.5 626.0Z" fill="#5da4f8" stroke="#5da4f8" stroke-width="0.6" stroke-linejoin="round" fill-rule="evenodd"/>
<path d="M246.2 596.9L256.3 602.6L261.9 607.1L275.2 602.6L277.6 601.6L277.6 602.6L277.6 605.0L261.9 608.8L254.3 602.6L246.2 598.1L234.0 602.6L230.5 604.2L214.7 610.3L199.0 613.1L197.4 614.3L195.1 626.0L193.4 637.6L188.4 649.3L199.0 658.0L214.7 658.4L230.5 659.1L246.2 659.1L261.9 659.5L277.6 660.2L277.6 661.0L265.8 661.0L261.9 660.8L246.2 660.1L230.5 660.1L214.7 659.5L199.0 659.2L186.9 649.3L192.1 637.6L194.0 626.0L196.2 614.3L199.0 612.2L214.7 609.4L230.5 602.8L230.9 602.6ZM261.9 618.9L277.6 618.0L277.6 619.8L261.9 620.3L253.0 626.0L259.1 637.6L261.9 638.6L266.8 637.6L277.6 633.6L277.6 635.9L272.9 637.6L261.9 639.8L255.6 637.6L250.7 626.0Z" fill="#69bdf8" stroke="#69bdf8" stroke-width="0.6" stroke-linejoin="round" fill-rule="evenodd"/>
<path d="M230.5 601.9L246.2 595.8L258.4 602.6L261.9 605.4L270.3 602.6L277.6 599.6L277.6 601.6L275.2 602.6L261.9 607.1L256.3 602.6L246.2 596.9L230.9 602.6L230.5 602.8L214.7 609.4L199.0 612.2L196.2 614.3L194.0 626.0L192.1 637.6L186.9 649.3L199.0 659.2L214.7 659.5L230.5 660.1L246.2 660.1L261.9 660.8L265.8 661.0L261.9 661.0L246.2 661.0L230.5 661.0L225.5 661.0L214.7 660.5L199.0 660.5L185.4 649.3L190.9 637.6L192.8 626.0L195.0 614.3L199.0 611.4L214.7 608.5L228.7 602.6ZM261.9 620.3L277.6 619.8L277.6 621.6L261.9 621.7L255.2 626.0L261.9 636.9L277.6 631.3L277.6 633.6L266.8 637.6L261.9 638.6L259.1 637.6L253.0 626.0Z" fill="#74d5f6" stroke="#74d5f6" stroke-width="0.6" stroke-linejoin="round" fill-rule="evenodd"/>
<path d="M230.5 601.1L246.2 594.6L260.4 602.6L261.9 603.8L265.4 602.6L277.6 597.6L277.6 599.6L270.3 602.6L261.9 605.4L258.4 602.6L246.2 595.8L230.5 601.9L228.7 602.6L214.7 608.5L199.0 611.4L195.0 614.3L192.8 626.0L190.9 637.6L185.4 649.3L199.0 660.5L214.7 660.5L225.5 661.0L214.7 661.0L199.0 661.0L196.9 661.0L183.9 649.3L189.7 637.6L191.6 626.0L193.9 614.3L199.0 610.5L214.7 607.7L226.7 602.6ZM261.9 621.7L277.6 621.6L277.6 623.5L261.9 623.1L257.4 626.0L261.9 633.3L277.6 629.1L277.6 631.3L261.9 636.9L255.2 626.0Z" fill="#7eebf1" stroke="#7eebf1" stroke-width="0.6" stroke-linejoin="round" fill-rule="evenodd"/>
<path d="M230.5 600.2L246.2 593.5L261.9 601.4L277.6 595.5L277.6 597.6L265.4 602.6L261.9 603.8L260.4 602.6L246.2 594.6L230.5 601.1L226.7 602.6L214.7 607.7L199.0 610.5L193.9 614.3L191.6 626.0L189.7 637.6L183.9 649.3L196.9 661.0L193.1 661.0L183.3 651.5L183.3 649.3L183.3 647.9L188.5 637.6L190.5 626.0L192.7 614.3L199.0 609.7L214.7 606.8L224.6 602.6ZM261.9 623.1L277.6 623.5L277.6 625.3L261.9 624.5L259.7 626.0L261.9 629.6L277.6 626.8L277.6 629.1L261.9 633.3L257.4 626.0Z" fill="#88f0d8" stroke="#88f0d8" stroke-width="0.6" stroke-linejoin="round" fill-rule="evenodd"/>
<path d="M230.5 599.4L246.2 592.4L261.9 597.4L277.6 593.5L277.6 595.5L261.9 601.4L246.2 593.5L230.5 600.2L224.6 602.6L214.7 606.8L199.0 609.7L192.7 614.3L190.5 626.0L188.5 637.6L183.3 647.9L183.3 645.4L187.2 637.6L189.3 626.0L191.5 614.3L199.0 608.8L214.7 605.9L222.6 602.6ZM261.9 624.5L277.6 625.3L277.6 626.0L277.6 626.8L261.9 629.6L259.7 626.0ZM193.1 661.0L189.3 661.0L183.3 655.2L183.3 651.5Z" fill="#93f0b9" stroke="#93f0b9" stroke-width="0.6" stroke-linejoin="round" fill-rule="evenodd"/>
<path d="M230.5 598.6L246.2 591.2L261.9 593.3L277.6 591.5L277.6 593.5L261.9 597.4L246.2 592.4L230.5 599.4L222.6 602.6L214.7 605.9L199.0 608.8L191.5 614.3L189.3 626.0L187.2 637.6L183.3 645.4L183.3 643.0L186.0 637.6L188.1 626.0L190.4 614.3L199.0 608.0L214.7 605.1L220.5 602.6ZM189.3 661.0L185.6 661.0L183.3 658.8L183.3 655.2Z" fill="#a2f096" stroke="#a2f096" stroke-width="0.6" stroke-linejoin="round" fill-rule="evenodd"/>
<path d="M230.5 597.7L244.9 590.9L246.2 590.9L261.9 590.9L277.6 590.9L277.6 591.5L261.9 593.3L246.2 591.2L230.5 598.6L220.5 602.6L214.7 605.1L199.0 608.0L190.4 614.3L188.1 626.0L186.0 637.6L183.3 643.0L183.3 640.6L184.8 637.6L186.9 626.0L189.2 614.3L199.0 607.1L214.7 604.2L218.5 602.6ZM185.6 661.0L183.3 661.0L183.3 658.8Z" fill="#b4f079" stroke="#b4f079" stroke-width="0.6" stroke-linejoin="round" fill-rule="evenodd"/>
<path d="M230.5 596.9L243.1 590.9L244.9 590.9L230.5 597.7L218.5 602.6L214.7 604.2L199.0 607.1L189.2 614.3L186.9 626.0L184.8 637.6L183.3 640.6L183.3 638.1L183.5 637.6L185.8 626.0L188.0 614.3L199.0 606.3L214.7 603.3L216.5 602.6Z" fill="#c8f060" stroke="#c8f060" stroke-width="0.6" stroke-linejoin="round" fill-rule="evenodd"/>
<path d="M214.7 602.3L230.5 596.1L241.4 590.9L243.1 590.9L230.5 596.9L216.5 602.6L214.7 603.3L199.0 606.3L188.0 614.3L185.8 626.0L183.5 637.6L183.3 638.1L183.3 637.6L183.3 632.8L184.6 626.0L186.9 614.3L199.0 605.4L214.0 602.6Z" fill="#dcf04c" stroke="#dcf04c" stroke-width="0.6" stroke-linejoin="round" fill-rule="evenodd"/>
<path d="M183.3 592.8L183.3 590.9L187.6 590.9ZM214.7 600.8L230.5 595.2L239.6 590.9L241.4 590.9L230.5 596.1L214.7 602.3L214.0 602.6L199.0 605.4L186.9 614.3L184.6 626.0L183.3 632.8L183.3 626.7L183.4 626.0L185.7 614.3L199.0 604.6L209.6 602.6Z" fill="#ecec39" stroke="#ecec39" stroke-width="0.6" stroke-linejoin="round" fill-rule="evenodd"/>
<path d="M183.3 596.4L183.3 592.8L187.6 590.9L195.7 590.9ZM214.7 599.3L230.5 594.4L237.9 590.9L239.6 590.9L230.5 595.2L214.7 600.8L209.6 602.6L199.0 604.6L185.7 614.3L183.4 626.0L183.3 626.7L183.3 626.0L183.3 620.6L184.5 614.3L199.0 603.7L205.1 602.6Z" fill="#f0d930" stroke="#f0d930" stroke-width="0.6" stroke-linejoin="round" fill-rule="evenodd"/>
<path d="M199.0 590.9L200.9 590.9L199.0 598.2L183.3 600.1L183.3 596.4L195.7 590.9ZM214.7 597.8L230.5 593.6L236.1 590.9L237.9 590.9L230.5 594.4L214.7 599.3L205.1 602.6L199.0 603.7L184.5 614.3L183.3 620.6L183.3 614.5L183.3 614.3L199.0 602.9L200.6 602.6Z" fill="#efbb2e" stroke="#efbb2e" stroke-width="0.6" stroke-linejoin="round" fill-rule="evenodd"/>
<path d="M199.0 598.2L200.9 590.9L203.9 590.9L214.7 596.3L230.5 592.8L234.4 590.9L236.1 590.9L230.5 593.6L214.7 597.8L200.6 602.6L199.0 602.9L183.3 614.3L183.3 614.5L183.3 614.3L183.3 602.6L183.3 600.1Z" fill="#eba226" stroke="#eba226" stroke-width="0.6" stroke-linejoin="round" fill-rule="evenodd"/>
<path d="M214.7 594.7L230.5 591.9L232.6 590.9L234.4 590.9L230.5 592.8L214.7 596.3L203.9 590.9L207.0 590.9Z" fill="#e8891f" stroke="#e8891f" stroke-width="0.6" stroke-linejoin="round" fill-rule="evenodd"/>
<path d="M214.7 593.2L230.5 591.1L230.9 590.9L232.6 590.9L230.5 591.9L214.7 594.7L207.0 590.9L210.1 590.9Z" fill="#e8701b" stroke="#e8701b" stroke-width="0.6" stroke-linejoin="round" fill-rule="evenodd"/>
<path d="M214.7 591.7L221.1 590.9L230.5 590.9L230.9 590.9L230.5 591.1L214.7 593.2L210.1 590.9L213.1 590.9Z" fill="#e65515" stroke="#e65515" stroke-width="0.6" stroke-linejoin="round" fill-rule="evenodd"/>
<path d="M214.7 590.9L221.1 590.9L214.7 591.7L213.1 590.9Z" fill="#e2380d" stroke="#e2380d" stroke-width="0.6" stroke-linejoin="round" fill-rule="evenodd"/>
<path d="M244.8 590.9L230.5 597.7L218.3 602.6L214.7 604.1L199.0 607.1L189.1 614.3L186.9 626.0L184.7 637.6L183.3 640.4" fill="none" stroke="#7d8a62" stroke-width="0.45"/>
<ellipse cx="235.7" cy="595.2" rx="1.1" ry="0.9" fill="#4a4a40" fill-opacity="0.75"/>
<ellipse cx="207.7" cy="605.4" rx="1.1" ry="0.9" fill="#4a4a40" fill-opacity="0.75"/>
<ellipse cx="187.4" cy="623.0" rx="1.1" ry="0.9" fill="#4a4a40" fill-opacity="0.75"/>
</g>
<line x1="183.30" y1="590.90" x2="183.30" y2="592.10" stroke="#666" stroke-width="0.5"/>
<line x1="183.30" y1="659.80" x2="183.30" y2="661.00" stroke="#666" stroke-width="0.5"/>
<line x1="199.02" y1="590.90" x2="199.02" y2="592.10" stroke="#666" stroke-width="0.5"/>
<line x1="199.02" y1="659.80" x2="199.02" y2="661.00" stroke="#666" stroke-width="0.5"/>
<line x1="214.73" y1="590.90" x2="214.73" y2="592.10" stroke="#666" stroke-width="0.5"/>
<line x1="214.73" y1="659.80" x2="214.73" y2="661.00" stroke="#666" stroke-width="0.5"/>
<line x1="230.45" y1="590.90" x2="230.45" y2="592.10" stroke="#666" stroke-width="0.5"/>
<line x1="230.45" y1="659.80" x2="230.45" y2="661.00" stroke="#666" stroke-width="0.5"/>
<line x1="246.17" y1="590.90" x2="246.17" y2="592.10" stroke="#666" stroke-width="0.5"/>
<line x1="246.17" y1="659.80" x2="246.17" y2="661.00" stroke="#666" stroke-width="0.5"/>
<line x1="261.88" y1="590.90" x2="261.88" y2="592.10" stroke="#666" stroke-width="0.5"/>
<line x1="261.88" y1="659.80" x2="261.88" y2="661.00" stroke="#666" stroke-width="0.5"/>
<line x1="277.60" y1="590.90" x2="277.60" y2="592.10" stroke="#666" stroke-width="0.5"/>
<line x1="277.60" y1="659.80" x2="277.60" y2="661.00" stroke="#666" stroke-width="0.5"/>
<line x1="183.30" y1="590.90" x2="184.50" y2="590.90" stroke="#666" stroke-width="0.5"/>
<line x1="276.40" y1="590.90" x2="277.60" y2="590.90" stroke="#666" stroke-width="0.5"/>
<line x1="183.30" y1="602.58" x2="184.50" y2="602.58" stroke="#666" stroke-width="0.5"/>
<line x1="276.40" y1="602.58" x2="277.60" y2="602.58" stroke="#666" stroke-width="0.5"/>
<line x1="183.30" y1="614.27" x2="184.50" y2="614.27" stroke="#666" stroke-width="0.5"/>
<line x1="276.40" y1="614.27" x2="277.60" y2="614.27" stroke="#666" stroke-width="0.5"/>
<line x1="183.30" y1="625.95" x2="184.50" y2="625.95" stroke="#666" stroke-width="0.5"/>
<line x1="276.40" y1="625.95" x2="277.60" y2="625.95" stroke="#666" stroke-width="0.5"/>
<line x1="183.30" y1="637.63" x2="184.50" y2="637.63" stroke="#666" stroke-width="0.5"/>
<line x1="276.40" y1="637.63" x2="277.60" y2="637.63" stroke="#666" stroke-width="0.5"/>
<line x1="183.30" y1="649.32" x2="184.50" y2="649.32" stroke="#666" stroke-width="0.5"/>
<line x1="276.40" y1="649.32" x2="277.60" y2="649.32" stroke="#666" stroke-width="0.5"/>
<line x1="183.30" y1="661.00" x2="184.50" y2="661.00" stroke="#666" stroke-width="0.5"/>
<line x1="276.40" y1="661.00" x2="277.60" y2="661.00" stroke="#666" stroke-width="0.5"/>
<rect x="183.30" y="590.90" width="94.30" height="70.10" fill="none" stroke="#9a9a9a" stroke-width="0.5"/>
<clipPath id="h6"><rect x="307.80" y="590.90" width="94.00" height="70.10"/></clipPath>
<g clip-path="url(#h6)">
<rect x="307.80" y="590.90" width="94.00" height="70.10" fill="#8ef0c5"/>
<path d="M339.1 648.8L339.9 649.3L339.1 649.5L338.4 649.3Z" fill="#112af0" stroke="#112af0" stroke-width="0.6" stroke-linejoin="round" fill-rule="evenodd"/>
<path d="M339.1 613.6L341.4 614.3L339.1 616.5L338.2 614.3ZM339.1 646.8L342.9 649.3L339.1 650.4L335.3 649.3ZM338.4 649.3L339.1 649.5L339.9 649.3L339.1 648.8Z" fill="#2243f0" stroke="#2243f0" stroke-width="0.6" stroke-linejoin="round" fill-rule="evenodd"/>
<path d="M339.1 612.4L345.2 614.3L339.1 620.1L336.5 614.3ZM338.2 614.3L339.1 616.5L341.4 614.3L339.1 613.6ZM401.8 614.3L401.8 614.3L401.8 614.3L401.8 614.3ZM339.1 644.8L346.0 649.3L339.1 651.4L332.3 649.3ZM335.3 649.3L339.1 650.4L342.9 649.3L339.1 646.8Z" fill="#2f58f2" stroke="#2f58f2" stroke-width="0.6" stroke-linejoin="round" fill-rule="evenodd"/>
<path d="M339.1 611.3L348.9 614.3L339.1 623.8L334.9 614.3ZM336.5 614.3L339.1 620.1L345.2 614.3L339.1 612.4ZM386.1 614.2L401.8 612.1L401.8 614.3L401.8 614.3L401.8 614.3L401.8 616.4L386.1 614.6L386.0 614.3ZM339.1 642.7L349.0 649.3L339.1 652.3L329.2 649.3ZM332.3 649.3L339.1 651.4L346.0 649.3L339.1 644.8ZM386.1 646.8L388.5 649.3L386.1 650.1L384.1 649.3Z" fill="#3e6ef4" stroke="#3e6ef4" stroke-width="0.6" stroke-linejoin="round" fill-rule="evenodd"/>
<path d="M339.1 610.2L352.7 614.3L342.4 626.0L339.1 628.4L337.9 626.0L333.3 614.3ZM334.9 614.3L339.1 623.8L348.9 614.3L339.1 611.3ZM386.1 611.9L401.8 610.0L401.8 612.1L386.1 614.2L386.0 614.3L386.1 614.6L401.8 616.4L401.8 618.6L386.1 623.8L382.5 614.3ZM339.1 640.7L352.1 649.3L339.1 653.2L326.2 649.3ZM329.2 649.3L339.1 652.3L349.0 649.3L339.1 642.7ZM386.1 643.2L392.0 649.3L386.1 651.3L381.0 649.3ZM384.1 649.3L386.1 650.1L388.5 649.3L386.1 646.8Z" fill="#4e89f7" stroke="#4e89f7" stroke-width="0.6" stroke-linejoin="round" fill-rule="evenodd"/>
<path d="M339.1 609.0L354.8 613.3L357.2 614.3L354.8 619.6L350.6 626.0L354.8 635.4L355.5 637.6L355.5 649.3L354.8 649.5L339.1 654.1L323.5 649.5L323.2 649.3L323.5 648.8L339.1 638.7L351.9 637.6L339.1 634.5L334.8 626.0L331.6 614.3ZM333.3 614.3L337.9 626.0L339.1 628.4L342.4 626.0L352.7 614.3L339.1 610.2ZM326.2 649.3L339.1 653.2L352.1 649.3L339.1 640.7ZM386.1 609.6L401.8 607.8L401.8 610.0L386.1 611.9L382.5 614.3L386.1 623.8L401.8 618.6L401.8 620.7L389.9 625.9L386.1 632.9L384.6 626.0L379.0 614.3ZM386.1 639.5L395.5 649.3L386.1 652.5L377.9 649.3ZM381.0 649.3L386.1 651.3L392.0 649.3L386.1 643.2Z" fill="#5da4f8" stroke="#5da4f8" stroke-width="0.6" stroke-linejoin="round" fill-rule="evenodd"/>
<path d="M339.1 607.9L354.8 611.2L362.6 614.3L356.0 626.0L361.7 637.6L361.7 649.3L354.8 650.9L339.1 655.0L323.5 651.3L321.0 649.3L323.5 644.2L335.2 637.6L331.8 626.0L330.0 614.3ZM331.6 614.3L334.8 626.0L339.1 634.5L351.9 637.6L339.1 638.7L323.5 648.8L323.2 649.3L323.5 649.5L339.1 654.1L354.8 649.5L355.5 649.3L355.5 637.6L354.8 635.4L350.6 626.0L354.8 619.6L357.2 614.3L354.8 613.3L339.1 609.0ZM386.1 607.3L401.8 605.7L401.8 607.8L386.1 609.6L379.0 614.3L384.6 626.0L386.1 632.9L389.9 626.0L401.8 620.7L401.8 622.9L394.8 626.0L390.1 637.6L399.0 649.3L386.1 653.7L374.9 649.3L382.2 637.6L382.5 626.0L375.5 614.3ZM377.9 649.3L386.1 652.5L395.5 649.3L386.1 639.5Z" fill="#69bdf8" stroke="#69bdf8" stroke-width="0.6" stroke-linejoin="round" fill-rule="evenodd"/>
<path d="M339.1 606.7L354.8 609.0L368.1 614.3L358.4 626.0L367.8 637.6L367.8 649.3L354.8 652.3L339.1 655.9L323.5 653.0L318.7 649.3L323.5 639.6L327.1 637.6L328.7 626.0L328.4 614.3ZM330.0 614.3L331.8 626.0L335.2 637.6L323.5 644.2L321.0 649.3L323.5 651.3L339.1 655.0L354.8 650.9L361.7 649.3L361.7 637.6L356.0 626.0L362.6 614.3L354.8 611.2L339.1 607.9ZM386.1 605.0L401.8 603.5L401.8 605.7L386.1 607.3L375.5 614.3L382.5 626.0L382.2 637.6L374.9 649.3L386.1 653.7L399.0 649.3L390.1 637.6L394.8 626.0L401.8 622.9L401.8 625.0L399.6 626.0L398.2 637.6L401.8 645.7L401.8 649.3L401.8 649.6L386.1 654.8L371.8 649.3L374.1 637.6L380.5 626.0L372.0 614.3Z" fill="#74d5f6" stroke="#74d5f6" stroke-width="0.6" stroke-linejoin="round" fill-rule="evenodd"/>
<path d="M401.8 601.1L401.8 602.6L401.8 603.5L386.1 605.0L372.0 614.3L380.5 626.0L374.1 637.6L371.8 649.3L386.1 654.8L401.8 649.6L401.8 651.2L386.1 656.0L370.5 650.6L354.8 653.7L339.1 656.8L323.5 654.7L316.5 649.3L321.8 637.6L323.5 632.5L325.7 626.0L326.7 614.3L339.1 605.6L354.8 606.9L370.5 610.9L386.1 602.8L388.1 602.6ZM328.4 614.3L328.7 626.0L327.1 637.6L323.5 639.6L318.7 649.3L323.5 653.0L339.1 655.9L354.8 652.3L367.8 649.3L367.8 637.6L358.4 626.0L368.1 614.3L354.8 609.0L339.1 606.7ZM360.9 626.0L370.5 636.2L378.5 626.0L370.5 615.7ZM401.8 625.0L401.8 626.0L401.8 637.6L401.8 645.7L398.2 637.6L399.6 626.0Z" fill="#7eebf1" stroke="#7eebf1" stroke-width="0.6" stroke-linejoin="round" fill-rule="evenodd"/>
<path d="M386.1 600.2L401.8 598.5L401.8 601.1L388.1 602.6L386.1 602.8L370.5 610.9L354.8 606.9L339.1 605.6L326.7 614.3L325.7 626.0L323.5 632.5L321.8 637.6L316.5 649.3L323.5 654.7L339.1 656.8L354.8 653.7L370.5 650.6L386.1 656.0L401.8 651.2L401.8 652.8L386.1 657.2L370.5 652.9L354.8 655.1L339.1 657.8L323.5 656.5L314.3 649.3L318.7 637.6L322.6 626.0L323.5 623.4L325.1 614.3L339.1 604.5L354.8 604.7L370.5 604.8L374.9 602.6ZM370.5 615.7L378.5 626.0L370.5 636.2L360.9 626.0ZM363.3 626.0L370.5 633.6L376.4 626.0L370.5 618.3Z" fill="#88f0d8" stroke="#88f0d8" stroke-width="0.6" stroke-linejoin="round" fill-rule="evenodd"/>
<path d="M354.8 602.6L370.5 600.9L386.1 597.6L401.8 595.9L401.8 598.5L386.1 600.2L374.9 602.6L370.5 604.8L354.8 604.7L339.1 604.5L325.1 614.3L323.5 623.4L322.6 626.0L318.7 637.6L314.3 649.3L323.5 656.5L339.1 657.8L354.8 655.1L370.5 652.9L386.1 657.2L401.8 652.8L401.8 654.4L386.1 658.4L370.5 655.2L354.8 656.5L339.1 658.7L323.5 658.2L312.1 649.3L315.6 637.6L319.6 626.0L323.5 614.3L323.5 614.3L339.1 603.3L354.8 602.6ZM370.5 618.3L376.4 626.0L370.5 633.6L363.3 626.0ZM365.8 626.0L370.5 631.0L374.4 626.0L370.5 620.9Z" fill="#93f0b9" stroke="#93f0b9" stroke-width="0.6" stroke-linejoin="round" fill-rule="evenodd"/>
<path d="M339.1 601.5L354.8 600.0L370.5 598.3L386.1 595.0L401.8 593.3L401.8 595.9L386.1 597.6L370.5 600.9L354.8 602.6L354.8 602.6L339.1 603.3L323.5 614.3L323.5 614.3L319.6 626.0L315.6 637.6L312.1 649.3L323.5 658.2L339.1 658.7L354.8 656.5L370.5 655.2L386.1 658.4L401.8 654.4L401.8 656.0L386.1 659.5L370.5 657.4L354.8 657.9L339.1 659.6L323.5 660.0L309.8 649.3L312.6 637.6L316.5 626.0L321.4 614.3L323.5 609.1L335.6 602.6ZM370.5 620.9L374.4 625.9L370.5 631.0L365.8 626.0ZM368.2 626.0L370.5 628.3L372.3 626.0L370.5 623.6Z" fill="#a2f096" stroke="#a2f096" stroke-width="0.6" stroke-linejoin="round" fill-rule="evenodd"/>
<path d="M339.1 598.4L354.8 597.4L370.5 595.7L386.1 592.4L399.8 590.9L401.8 590.9L401.8 593.3L386.1 595.0L370.5 598.3L354.8 600.0L339.1 601.5L335.6 602.6L323.5 609.1L321.4 614.3L316.5 626.0L312.6 637.6L309.8 649.3L323.5 660.0L339.1 659.6L354.8 657.9L370.5 657.4L386.1 659.5L401.8 656.0L401.8 657.6L386.1 660.7L370.5 659.7L354.8 659.3L339.1 660.5L330.0 661.0L323.5 661.0L307.8 661.0L307.8 649.3L307.8 647.9L309.5 637.6L313.4 626.0L319.4 614.3L323.5 603.8L325.8 602.6ZM370.5 623.6L372.3 626.0L370.5 628.3L368.2 626.0Z" fill="#b4f079" stroke="#b4f079" stroke-width="0.6" stroke-linejoin="round" fill-rule="evenodd"/>
<path d="M323.5 599.5L339.1 595.4L354.8 594.8L370.5 593.1L380.7 590.9L386.1 590.9L399.8 590.9L386.1 592.4L370.5 595.7L354.8 597.4L339.1 598.4L325.8 602.6L323.5 603.8L319.4 614.3L313.4 626.0L309.5 637.6L307.8 647.9L307.8 637.6L307.8 633.6L310.4 626.0L317.3 614.3L321.0 602.6ZM339.1 660.5L354.8 659.3L370.5 659.7L386.1 660.7L401.8 657.6L401.8 659.2L392.3 661.0L386.1 661.0L370.5 661.0L359.7 661.0L354.8 660.7L349.9 661.0L339.1 661.0L330.0 661.0Z" fill="#c8f060" stroke="#c8f060" stroke-width="0.6" stroke-linejoin="round" fill-rule="evenodd"/>
<path d="M323.5 595.4L339.1 592.4L354.8 592.2L366.6 590.9L370.5 590.9L380.7 590.9L370.5 593.1L354.8 594.8L339.1 595.4L323.5 599.5L321.0 602.6L317.3 614.3L310.4 626.0L307.8 633.6L307.8 626.0L307.8 625.5L315.3 614.3L317.7 602.6ZM354.8 660.7L359.7 661.0L354.8 661.0L349.9 661.0ZM401.8 659.2L401.8 660.7L400.5 661.0L392.3 661.0Z" fill="#dcf04c" stroke="#dcf04c" stroke-width="0.6" stroke-linejoin="round" fill-rule="evenodd"/>
<path d="M323.5 591.4L326.4 590.9L339.1 590.9L354.8 590.9L366.6 590.9L354.8 592.2L339.1 592.4L323.5 595.4L317.7 602.6L315.3 614.3L307.8 625.5L307.8 622.4L313.3 614.3L314.5 602.6L307.8 593.3L307.8 590.9L320.5 590.9ZM401.8 660.7L401.8 661.0L400.5 661.0Z" fill="#ecec39" stroke="#ecec39" stroke-width="0.6" stroke-linejoin="round" fill-rule="evenodd"/>
<path d="M323.5 590.9L326.4 590.9L323.5 591.4L320.5 590.9ZM314.5 602.6L313.3 614.3L307.8 622.4L307.8 619.4L311.2 614.3L311.2 602.6L307.8 597.8L307.8 593.3Z" fill="#f0d930" stroke="#f0d930" stroke-width="0.6" stroke-linejoin="round" fill-rule="evenodd"/>
<path d="M311.2 602.6L311.2 614.3L307.8 619.4L307.8 616.3L309.2 614.3L307.9 602.6L307.8 602.4L307.8 597.8Z" fill="#efbb2e" stroke="#efbb2e" stroke-width="0.6" stroke-linejoin="round" fill-rule="evenodd"/>
<path d="M307.9 602.6L309.2 614.3L307.8 616.3L307.8 614.3L307.8 602.6L307.8 602.4Z" fill="#eba226" stroke="#eba226" stroke-width="0.6" stroke-linejoin="round" fill-rule="evenodd"/>
<path d="M397.9 590.9L386.1 592.2L370.5 595.5L354.8 597.2L339.1 598.2L325.0 602.6L323.5 603.4L319.2 614.3L313.2 626.0L309.3 637.6L307.8 646.4M331.3 661.0L339.1 660.6L354.8 659.4L370.5 659.9L386.1 660.8L401.8 657.7" fill="none" stroke="#7d8a62" stroke-width="0.45"/>
<ellipse cx="387.9" cy="592.0" rx="1.1" ry="0.9" fill="#4a4a40" fill-opacity="0.75"/>
<ellipse cx="358.4" cy="596.8" rx="1.1" ry="0.9" fill="#4a4a40" fill-opacity="0.75"/>
<ellipse cx="328.9" cy="601.4" rx="1.1" ry="0.9" fill="#4a4a40" fill-opacity="0.75"/>
<ellipse cx="313.5" cy="625.4" rx="1.1" ry="0.9" fill="#4a4a40" fill-opacity="0.75"/>
<ellipse cx="341.3" cy="660.4" rx="1.1" ry="0.9" fill="#4a4a40" fill-opacity="0.75"/>
<ellipse cx="371.2" cy="659.9" rx="1.1" ry="0.9" fill="#4a4a40" fill-opacity="0.75"/>
<ellipse cx="400.9" cy="657.9" rx="1.1" ry="0.9" fill="#4a4a40" fill-opacity="0.75"/>
</g>
<line x1="307.80" y1="590.90" x2="307.80" y2="592.10" stroke="#666" stroke-width="0.5"/>
<line x1="307.80" y1="659.80" x2="307.80" y2="661.00" stroke="#666" stroke-width="0.5"/>
<line x1="323.47" y1="590.90" x2="323.47" y2="592.10" stroke="#666" stroke-width="0.5"/>
<line x1="323.47" y1="659.80" x2="323.47" y2="661.00" stroke="#666" stroke-width="0.5"/>
<line x1="339.13" y1="590.90" x2="339.13" y2="592.10" stroke="#666" stroke-width="0.5"/>
<line x1="339.13" y1="659.80" x2="339.13" y2="661.00" stroke="#666" stroke-width="0.5"/>
<line x1="354.80" y1="590.90" x2="354.80" y2="592.10" stroke="#666" stroke-width="0.5"/>
<line x1="354.80" y1="659.80" x2="354.80" y2="661.00" stroke="#666" stroke-width="0.5"/>
<line x1="370.47" y1="590.90" x2="370.47" y2="592.10" stroke="#666" stroke-width="0.5"/>
<line x1="370.47" y1="659.80" x2="370.47" y2="661.00" stroke="#666" stroke-width="0.5"/>
<line x1="386.13" y1="590.90" x2="386.13" y2="592.10" stroke="#666" stroke-width="0.5"/>
<line x1="386.13" y1="659.80" x2="386.13" y2="661.00" stroke="#666" stroke-width="0.5"/>
<line x1="401.80" y1="590.90" x2="401.80" y2="592.10" stroke="#666" stroke-width="0.5"/>
<line x1="401.80" y1="659.80" x2="401.80" y2="661.00" stroke="#666" stroke-width="0.5"/>
<line x1="307.80" y1="590.90" x2="309.00" y2="590.90" stroke="#666" stroke-width="0.5"/>
<line x1="400.60" y1="590.90" x2="401.80" y2="590.90" stroke="#666" stroke-width="0.5"/>
<line x1="307.80" y1="602.58" x2="309.00" y2="602.58" stroke="#666" stroke-width="0.5"/>
<line x1="400.60" y1="602.58" x2="401.80" y2="602.58" stroke="#666" stroke-width="0.5"/>
<line x1="307.80" y1="614.27" x2="309.00" y2="614.27" stroke="#666" stroke-width="0.5"/>
<line x1="400.60" y1="614.27" x2="401.80" y2="614.27" stroke="#666" stroke-width="0.5"/>
<line x1="307.80" y1="625.95" x2="309.00" y2="625.95" stroke="#666" stroke-width="0.5"/>
<line x1="400.60" y1="625.95" x2="401.80" y2="625.95" stroke="#666" stroke-width="0.5"/>
<line x1="307.80" y1="637.63" x2="309.00" y2="637.63" stroke="#666" stroke-width="0.5"/>
<line x1="400.60" y1="637.63" x2="401.80" y2="637.63" stroke="#666" stroke-width="0.5"/>
<line x1="307.80" y1="649.32" x2="309.00" y2="649.32" stroke="#666" stroke-width="0.5"/>
<line x1="400.60" y1="649.32" x2="401.80" y2="649.32" stroke="#666" stroke-width="0.5"/>
<line x1="307.80" y1="661.00" x2="309.00" y2="661.00" stroke="#666" stroke-width="0.5"/>
<line x1="400.60" y1="661.00" x2="401.80" y2="661.00" stroke="#666" stroke-width="0.5"/>
<rect x="307.80" y="590.90" width="94.00" height="70.10" fill="none" stroke="#9a9a9a" stroke-width="0.5"/>
<text x="56.80" y="466.60" font-size="7.3" text-anchor="end" fill="#231f20">0</text>
<text x="56.80" y="478.20" font-size="7.3" text-anchor="end" fill="#231f20">187.5</text>
<text x="56.80" y="489.70" font-size="7.3" text-anchor="end" fill="#231f20">375</text>
<text x="56.80" y="501.20" font-size="7.3" text-anchor="end" fill="#231f20">750</text>
<text x="56.80" y="512.80" font-size="7.3" text-anchor="end" fill="#231f20">1,500</text>
<text x="56.80" y="524.30" font-size="7.3" text-anchor="end" fill="#231f20">3,000</text>
<text x="56.80" y="535.80" font-size="7.3" text-anchor="end" fill="#231f20">6,000</text>
<text x="63.80" y="542.00" font-size="7.4" text-anchor="end" transform="rotate(-45 63.80 542.00)" fill="#231f20">0</text>
<text x="79.60" y="542.00" font-size="7.4" text-anchor="end" transform="rotate(-45 79.60 542.00)" fill="#231f20">12.5</text>
<text x="95.40" y="542.00" font-size="7.4" text-anchor="end" transform="rotate(-45 95.40 542.00)" fill="#231f20">25</text>
<text x="111.20" y="542.00" font-size="7.4" text-anchor="end" transform="rotate(-45 111.20 542.00)" fill="#231f20">50</text>
<text x="127.00" y="542.00" font-size="7.4" text-anchor="end" transform="rotate(-45 127.00 542.00)" fill="#231f20">100</text>
<text x="142.80" y="542.00" font-size="7.4" text-anchor="end" transform="rotate(-45 142.80 542.00)" fill="#231f20">200</text>
<text x="158.60" y="542.00" font-size="7.4" text-anchor="end" transform="rotate(-45 158.60 542.00)" fill="#231f20">400</text>
<text x="180.00" y="466.60" font-size="7.3" text-anchor="end" fill="#231f20">0</text>
<text x="180.00" y="478.20" font-size="7.3" text-anchor="end" fill="#231f20">187.5</text>
<text x="180.00" y="489.70" font-size="7.3" text-anchor="end" fill="#231f20">375</text>
<text x="180.00" y="501.20" font-size="7.3" text-anchor="end" fill="#231f20">750</text>
<text x="180.00" y="512.80" font-size="7.3" text-anchor="end" fill="#231f20">1,500</text>
<text x="180.00" y="524.30" font-size="7.3" text-anchor="end" fill="#231f20">3,000</text>
<text x="180.00" y="535.80" font-size="7.3" text-anchor="end" fill="#231f20">6,000</text>
<text x="186.50" y="541.80" font-size="7.4" text-anchor="end" transform="rotate(-45 186.50 541.80)" fill="#231f20">0</text>
<text x="202.33" y="541.80" font-size="7.4" text-anchor="end" transform="rotate(-45 202.33 541.80)" fill="#231f20">12.5</text>
<text x="218.17" y="541.80" font-size="7.4" text-anchor="end" transform="rotate(-45 218.17 541.80)" fill="#231f20">25</text>
<text x="234.00" y="541.80" font-size="7.4" text-anchor="end" transform="rotate(-45 234.00 541.80)" fill="#231f20">50</text>
<text x="249.83" y="541.80" font-size="7.4" text-anchor="end" transform="rotate(-45 249.83 541.80)" fill="#231f20">100</text>
<text x="265.67" y="541.80" font-size="7.4" text-anchor="end" transform="rotate(-45 265.67 541.80)" fill="#231f20">200</text>
<text x="281.50" y="541.80" font-size="7.4" text-anchor="end" transform="rotate(-45 281.50 541.80)" fill="#231f20">400</text>
<text x="303.80" y="466.60" font-size="7.3" text-anchor="end" fill="#231f20">0</text>
<text x="303.80" y="478.20" font-size="7.3" text-anchor="end" fill="#231f20">125</text>
<text x="303.80" y="489.70" font-size="7.3" text-anchor="end" fill="#231f20">250</text>
<text x="303.80" y="501.20" font-size="7.3" text-anchor="end" fill="#231f20">500</text>
<text x="303.80" y="512.80" font-size="7.3" text-anchor="end" fill="#231f20">1,000</text>
<text x="303.80" y="524.30" font-size="7.3" text-anchor="end" fill="#231f20">2,000</text>
<text x="303.80" y="535.80" font-size="7.3" text-anchor="end" fill="#231f20">4,000</text>
<text x="310.30" y="541.80" font-size="7.4" text-anchor="end" transform="rotate(-45 310.30 541.80)" fill="#231f20">0</text>
<text x="326.18" y="541.80" font-size="7.4" text-anchor="end" transform="rotate(-45 326.18 541.80)" fill="#231f20">50</text>
<text x="342.07" y="541.80" font-size="7.4" text-anchor="end" transform="rotate(-45 342.07 541.80)" fill="#231f20">100</text>
<text x="357.95" y="541.80" font-size="7.4" text-anchor="end" transform="rotate(-45 357.95 541.80)" fill="#231f20">200</text>
<text x="373.83" y="541.80" font-size="7.4" text-anchor="end" transform="rotate(-45 373.83 541.80)" fill="#231f20">400</text>
<text x="389.72" y="541.80" font-size="7.4" text-anchor="end" transform="rotate(-45 389.72 541.80)" fill="#231f20">800</text>
<text x="405.60" y="541.80" font-size="7.4" text-anchor="end" transform="rotate(-45 405.60 541.80)" fill="#231f20">1,600</text>
<text x="56.90" y="590.60" font-size="7.3" text-anchor="end" fill="#231f20">0</text>
<text x="56.90" y="602.10" font-size="7.3" text-anchor="end" fill="#231f20">125</text>
<text x="56.90" y="613.80" font-size="7.3" text-anchor="end" fill="#231f20">250</text>
<text x="56.90" y="625.40" font-size="7.3" text-anchor="end" fill="#231f20">500</text>
<text x="56.90" y="636.80" font-size="7.3" text-anchor="end" fill="#231f20">1,000</text>
<text x="56.90" y="648.40" font-size="7.3" text-anchor="end" fill="#231f20">2,000</text>
<text x="56.90" y="659.90" font-size="7.3" text-anchor="end" fill="#231f20">4,000</text>
<text x="65.00" y="669.80" font-size="7.4" text-anchor="end" transform="rotate(-45 65.00 669.80)" fill="#231f20">0</text>
<text x="80.78" y="669.80" font-size="7.4" text-anchor="end" transform="rotate(-45 80.78 669.80)" fill="#231f20">125</text>
<text x="96.57" y="669.80" font-size="7.4" text-anchor="end" transform="rotate(-45 96.57 669.80)" fill="#231f20">250</text>
<text x="112.35" y="669.80" font-size="7.4" text-anchor="end" transform="rotate(-45 112.35 669.80)" fill="#231f20">500</text>
<text x="128.13" y="669.80" font-size="7.4" text-anchor="end" transform="rotate(-45 128.13 669.80)" fill="#231f20">1,000</text>
<text x="143.92" y="669.80" font-size="7.4" text-anchor="end" transform="rotate(-45 143.92 669.80)" fill="#231f20">2,000</text>
<text x="159.70" y="669.80" font-size="7.4" text-anchor="end" transform="rotate(-45 159.70 669.80)" fill="#231f20">4,000</text>
<text x="180.40" y="594.10" font-size="7.3" text-anchor="end" fill="#231f20">0</text>
<text x="180.40" y="605.10" font-size="7.3" text-anchor="end" fill="#231f20">187.5</text>
<text x="180.40" y="616.60" font-size="7.3" text-anchor="end" fill="#231f20">375</text>
<text x="180.40" y="628.20" font-size="7.3" text-anchor="end" fill="#231f20">750</text>
<text x="180.40" y="639.70" font-size="7.3" text-anchor="end" fill="#231f20">1,500</text>
<text x="180.40" y="651.20" font-size="7.3" text-anchor="end" fill="#231f20">3,000</text>
<text x="180.40" y="663.00" font-size="7.3" text-anchor="end" fill="#231f20">6,000</text>
<text x="187.30" y="669.80" font-size="7.4" text-anchor="end" transform="rotate(-45 187.30 669.80)" fill="#231f20">0</text>
<text x="203.02" y="669.80" font-size="7.4" text-anchor="end" transform="rotate(-45 203.02 669.80)" fill="#231f20">100</text>
<text x="218.73" y="669.80" font-size="7.4" text-anchor="end" transform="rotate(-45 218.73 669.80)" fill="#231f20">200</text>
<text x="234.45" y="669.80" font-size="7.4" text-anchor="end" transform="rotate(-45 234.45 669.80)" fill="#231f20">400</text>
<text x="250.17" y="669.80" font-size="7.4" text-anchor="end" transform="rotate(-45 250.17 669.80)" fill="#231f20">800</text>
<text x="265.88" y="669.80" font-size="7.4" text-anchor="end" transform="rotate(-45 265.88 669.80)" fill="#231f20">1,600</text>
<text x="281.60" y="669.80" font-size="7.4" text-anchor="end" transform="rotate(-45 281.60 669.80)" fill="#231f20">3,200</text>
<text x="304.20" y="594.10" font-size="7.3" text-anchor="end" fill="#231f20">0</text>
<text x="304.20" y="605.10" font-size="7.3" text-anchor="end" fill="#231f20">187.5</text>
<text x="304.20" y="616.60" font-size="7.3" text-anchor="end" fill="#231f20">375</text>
<text x="304.20" y="628.20" font-size="7.3" text-anchor="end" fill="#231f20">750</text>
<text x="304.20" y="639.70" font-size="7.3" text-anchor="end" fill="#231f20">1,500</text>
<text x="304.20" y="651.20" font-size="7.3" text-anchor="end" fill="#231f20">3,000</text>
<text x="304.20" y="663.00" font-size="7.3" text-anchor="end" fill="#231f20">6,000</text>
<text x="311.80" y="669.80" font-size="7.4" text-anchor="end" transform="rotate(-45 311.80 669.80)" fill="#231f20">0</text>
<text x="327.47" y="669.80" font-size="7.4" text-anchor="end" transform="rotate(-45 327.47 669.80)" fill="#231f20">12.5</text>
<text x="343.13" y="669.80" font-size="7.4" text-anchor="end" transform="rotate(-45 343.13 669.80)" fill="#231f20">25</text>
<text x="358.80" y="669.80" font-size="7.4" text-anchor="end" transform="rotate(-45 358.80 669.80)" fill="#231f20">50</text>
<text x="374.47" y="669.80" font-size="7.4" text-anchor="end" transform="rotate(-45 374.47 669.80)" fill="#231f20">100</text>
<text x="390.13" y="669.80" font-size="7.4" text-anchor="end" transform="rotate(-45 390.13 669.80)" fill="#231f20">200</text>
<text x="405.80" y="669.80" font-size="7.4" text-anchor="end" transform="rotate(-45 405.80 669.80)" fill="#231f20">400</text>
<line x1="32.90" y1="462.20" x2="32.90" y2="660.20" stroke="#231f20" stroke-width="1.3"/>
<line x1="60.40" y1="560.20" x2="401.80" y2="560.20" stroke="#231f20" stroke-width="1.3"/>
<line x1="59.00" y1="688.80" x2="276.30" y2="688.80" stroke="#231f20" stroke-width="1.3"/>
<line x1="306.90" y1="688.80" x2="399.80" y2="688.80" stroke="#231f20" stroke-width="1.3"/>
<text x="27.20" y="562.00" font-size="8.8" text-anchor="middle" textLength="57.5" lengthAdjust="spacingAndGlyphs" transform="rotate(-90 27.20 562.00)" fill="#231f20">FRAX486 (nM)</text>
<text x="231.80" y="572.00" font-size="9.2" text-anchor="middle" textLength="53.0" lengthAdjust="spacingAndGlyphs" fill="#231f20">PKC412 (nM)</text>
<text x="141.20" y="699.80" font-size="9.2" textLength="51.5" lengthAdjust="spacingAndGlyphs" fill="#231f20">PKC412 (nM)</text>
<text x="353.30" y="699.80" font-size="9.0" text-anchor="middle" textLength="62.0" lengthAdjust="spacingAndGlyphs" fill="#231f20">Gilteritinib (nM)</text>
<linearGradient id="cbar" x1="0" y1="0" x2="0" y2="1"><stop offset="0.0" stop-color="#00006a"/><stop offset="0.08" stop-color="#0000c0"/><stop offset="0.14" stop-color="#0010f0"/><stop offset="0.2" stop-color="#2040f0"/><stop offset="0.26" stop-color="#3a68f4"/><stop offset="0.32" stop-color="#5a9cf8"/><stop offset="0.38" stop-color="#70ccf8"/><stop offset="0.43" stop-color="#80f0f0"/><stop offset="0.48" stop-color="#90f0c0"/><stop offset="0.53" stop-color="#a8f088"/><stop offset="0.58" stop-color="#c8f060"/><stop offset="0.63" stop-color="#e8f040"/><stop offset="0.66" stop-color="#f0e830"/><stop offset="0.7" stop-color="#f0c030"/><stop offset="0.76" stop-color="#e89020"/><stop offset="0.82" stop-color="#e86018"/><stop offset="0.88" stop-color="#e02808"/><stop offset="0.93" stop-color="#c00000"/><stop offset="1.0" stop-color="#680000"/></linearGradient>
<rect x="409.60" y="499.80" width="10.90" height="124.30" fill="url(#cbar)"/>
<rect x="409.6" y="499.8" width="10.9" height="124.3" fill="none" stroke="#888" stroke-width="0.4"/>
<text x="431.00" y="526.30" font-size="7.4" text-anchor="middle" textLength="26.6" lengthAdjust="spacingAndGlyphs" transform="rotate(-90 431.00 526.30)" fill="#231f20">Synergy</text>
<text x="431.00" y="586.60" font-size="7.4" text-anchor="middle" textLength="41.0" lengthAdjust="spacingAndGlyphs" transform="rotate(-90 431.00 586.60)" fill="#231f20">Antagonism</text>
<rect x="0.00" y="0.00" width="520.00" height="1.35" fill="#383838"/>
<rect x="0.00" y="0.00" width="1.70" height="709.00" fill="#3a3a3a"/>
<rect x="518.30" y="0.00" width="1.70" height="709.00" fill="#242424"/>
<rect x="0.00" y="707.60" width="520.00" height="1.40" fill="#151515"/>
</svg></body></html>
